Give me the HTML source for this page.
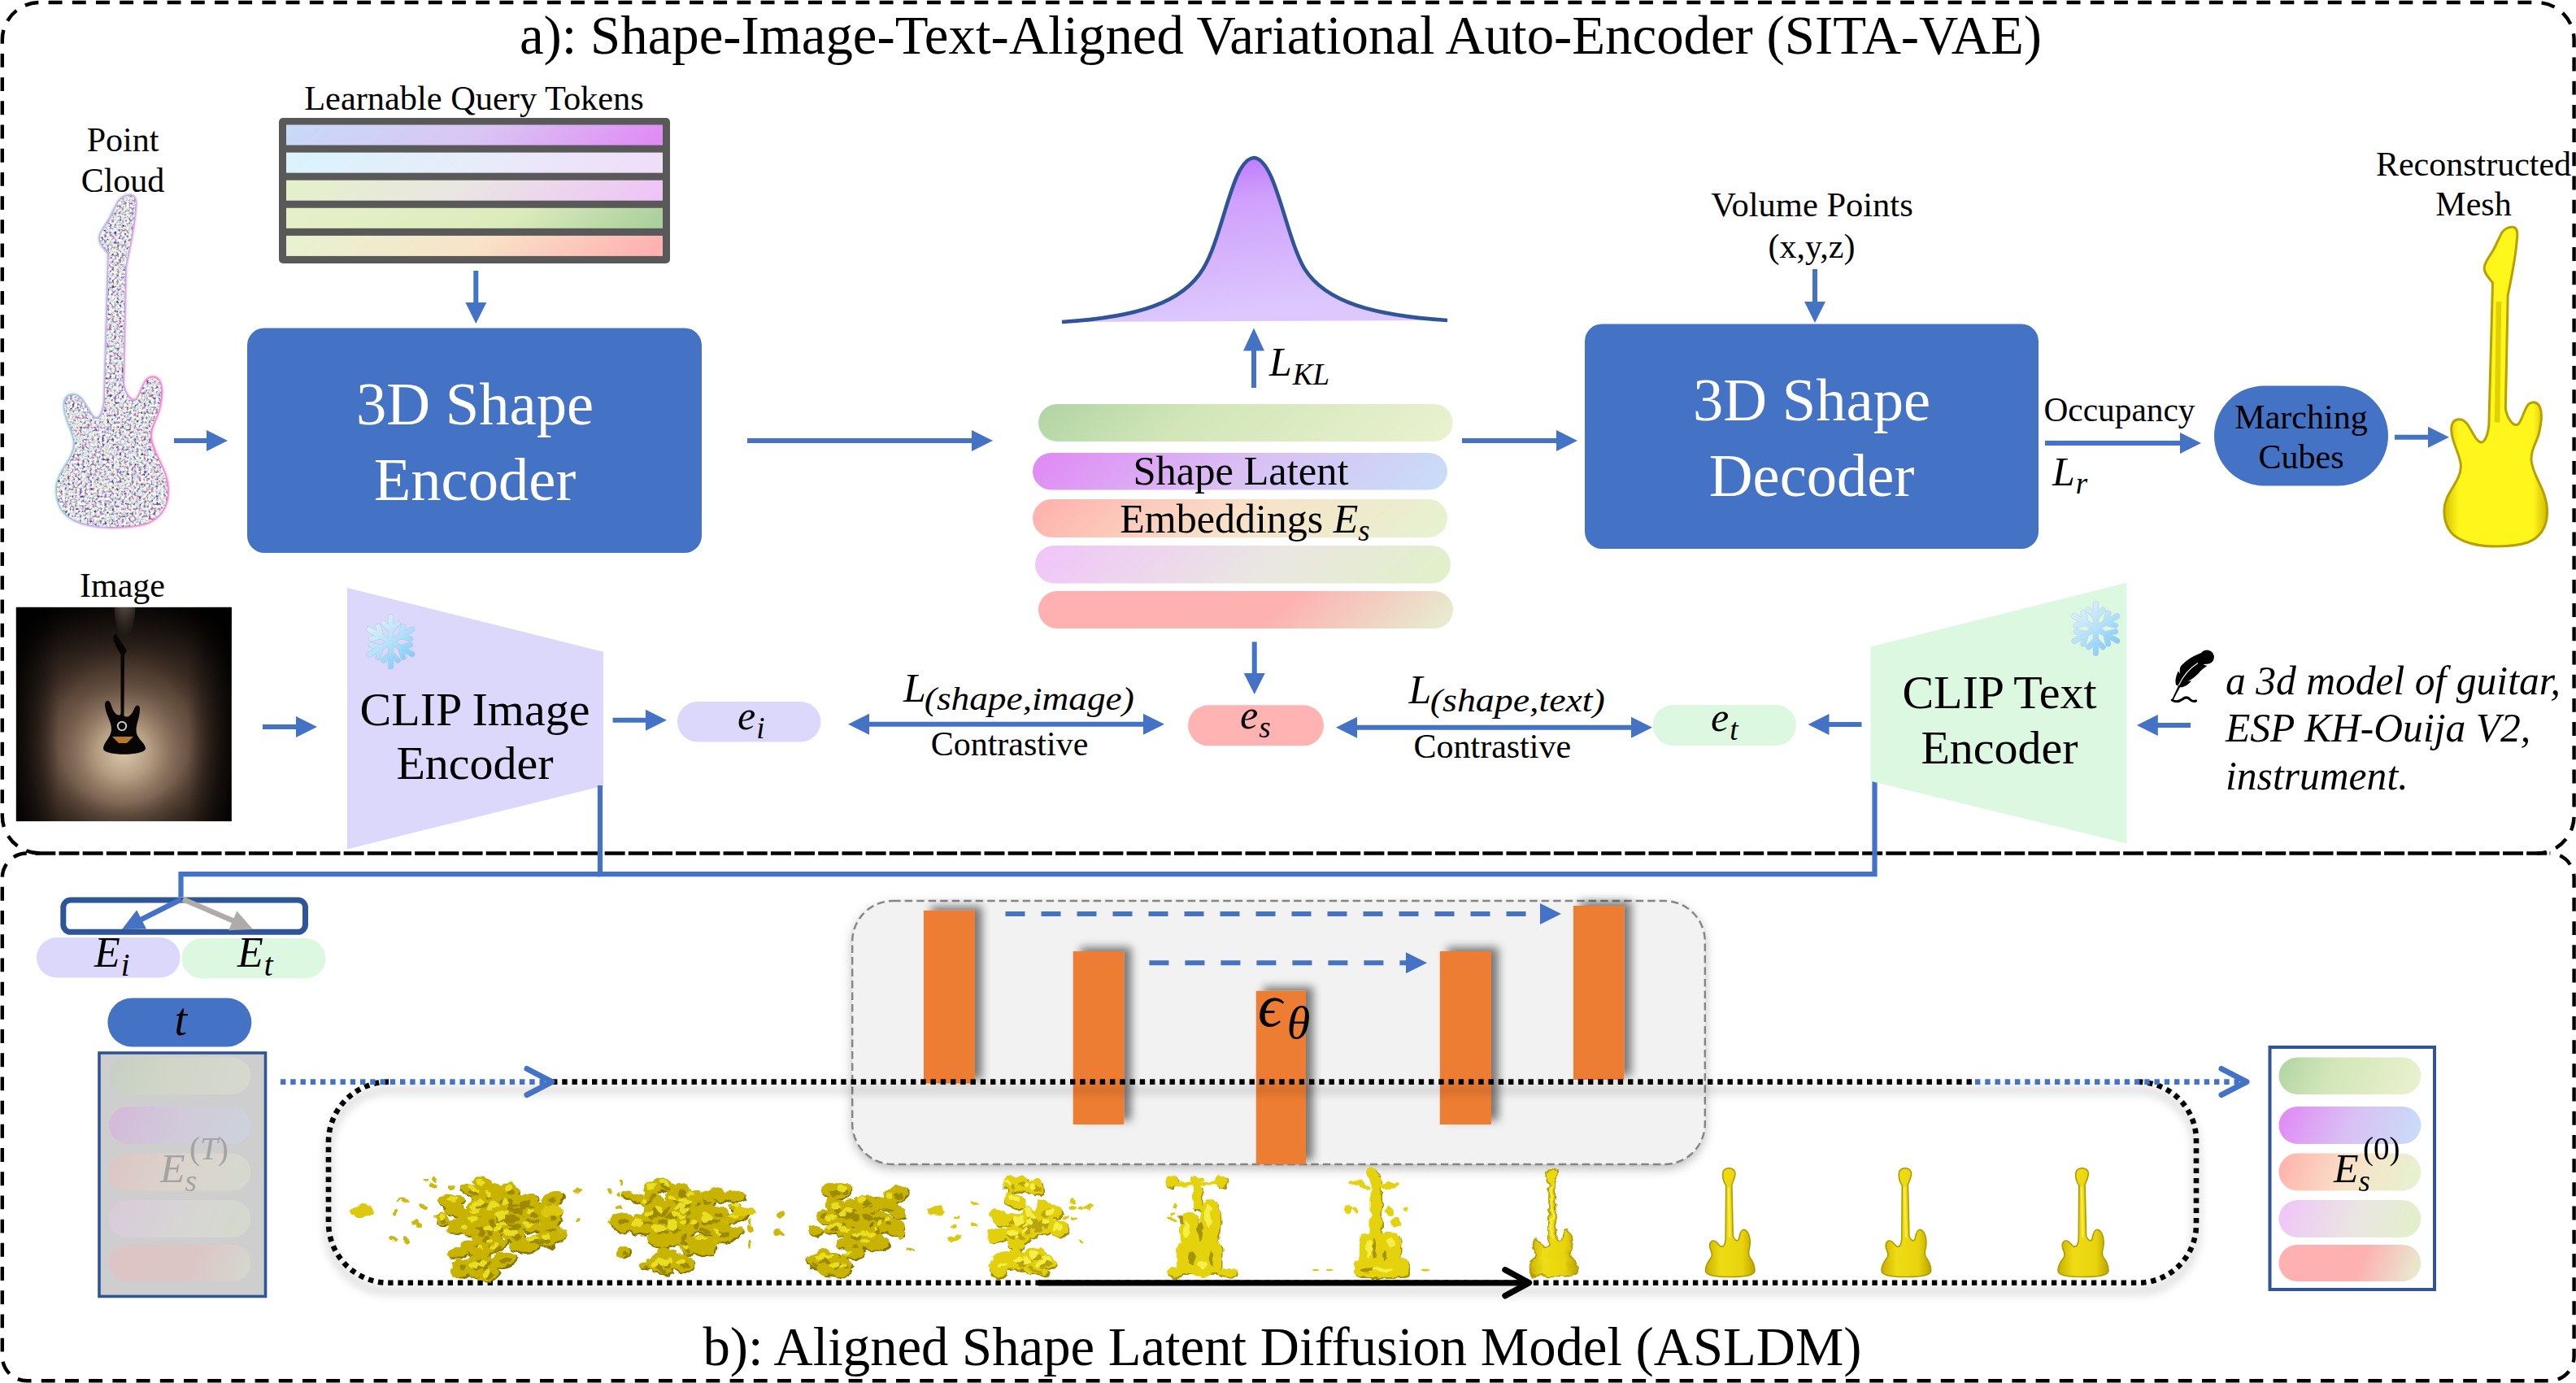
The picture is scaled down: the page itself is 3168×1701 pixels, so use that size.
<!DOCTYPE html>
<html lang="en"><head><meta charset="utf-8"><title>SITA-VAE and ASLDM overview</title>
<style>html,body{margin:0;padding:0;background:#fff;}svg{display:block;}text{font-family:"Liberation Serif",serif;}</style></head>
<body>
<svg width="3168" height="1701" viewBox="0 0 3168 1701">
<rect width="3168" height="1701" fill="#fff"/>
<defs>
<linearGradient id="gBluePurple" x1="0" y1="0.47" x2="1" y2="0.53"><stop offset="0" stop-color="#C9D9F8"/><stop offset="0.5" stop-color="#D9C6F4"/><stop offset="1" stop-color="#E08CF5"/></linearGradient>
<linearGradient id="gCyanLav" x1="0" y1="0.47" x2="1" y2="0.53"><stop offset="0" stop-color="#DAF3FC"/><stop offset="0.5" stop-color="#E8ECFA"/><stop offset="1" stop-color="#F0DDF8"/></linearGradient>
<linearGradient id="gGreenGrayPink" x1="0" y1="0.47" x2="1" y2="0.53"><stop offset="0" stop-color="#E4F0CA"/><stop offset="0.45" stop-color="#EAE6E2"/><stop offset="1" stop-color="#EEC4F8"/></linearGradient>
<linearGradient id="gLGreenGreen" x1="0" y1="0.47" x2="1" y2="0.53"><stop offset="0" stop-color="#E6F0C8"/><stop offset="0.6" stop-color="#DCEBBC"/><stop offset="1" stop-color="#AAD09C"/></linearGradient>
<linearGradient id="gGreenPeachPink" x1="0" y1="0.47" x2="1" y2="0.53"><stop offset="0" stop-color="#E8F2D0"/><stop offset="0.5" stop-color="#F8E4C8"/><stop offset="1" stop-color="#FFB0B0"/></linearGradient>
<linearGradient id="bGreen" x1="0" y1="0.45" x2="1" y2="0.55"><stop offset="0" stop-color="#B4D6A6"/><stop offset="0.35" stop-color="#D2E6B8"/><stop offset="1" stop-color="#E9F1CF"/></linearGradient>
<linearGradient id="bPurpleBlue" x1="0" y1="0.45" x2="1" y2="0.55"><stop offset="0" stop-color="#E08CF5"/><stop offset="0.5" stop-color="#D9C0F4"/><stop offset="1" stop-color="#C9DCF8"/></linearGradient>
<linearGradient id="bPinkGreen" x1="0" y1="0.45" x2="1" y2="0.55"><stop offset="0" stop-color="#FFB4AE"/><stop offset="0.5" stop-color="#F8E2C8"/><stop offset="1" stop-color="#E6F2D0"/></linearGradient>
<linearGradient id="bLavGreen" x1="0" y1="0.45" x2="1" y2="0.55"><stop offset="0" stop-color="#F0C6F8"/><stop offset="0.55" stop-color="#EAE6E2"/><stop offset="1" stop-color="#E2F0CA"/></linearGradient>
<linearGradient id="bPinkPale" x1="0" y1="0.45" x2="1" y2="0.55"><stop offset="0" stop-color="#FFB0B0"/><stop offset="0.58" stop-color="#FDB2B0"/><stop offset="1" stop-color="#E8EACF"/></linearGradient>
<linearGradient id="gBell" x1="0" y1="0" x2="0.25" y2="1"><stop offset="0" stop-color="#B96BFF"/><stop offset="0.35" stop-color="#D0A0FC"/><stop offset="1" stop-color="#DCC8FE"/></linearGradient>
<filter id="sh" x="-20%" y="-20%" width="150%" height="150%"><feDropShadow dx="9" dy="-5" stdDeviation="5.5" flood-color="#000" flood-opacity="0.5"/></filter>
<filter id="shBox" x="-5%" y="-10%" width="110%" height="125%"><feDropShadow dx="0" dy="5" stdDeviation="7" flood-color="#000" flood-opacity="0.28"/></filter>
<filter id="shDot" x="-5%" y="-10%" width="110%" height="130%"><feGaussianBlur stdDeviation="6"/></filter>
<filter id="pcnoise" x="0" y="0" width="100%" height="100%">
<feTurbulence type="fractalNoise" baseFrequency="0.33" numOctaves="2" seed="7" result="n"/>
<feColorMatrix in="n" type="matrix" values="4.2 0 0 0 -1.38  0 4.2 0 0 -1.38  0 0 4.2 0 -1.15  0 0 0 0 1" result="c0"/>
<feColorMatrix in="c0" type="saturate" values="0.42" result="c"/>
<feComposite in="c" in2="SourceGraphic" operator="in"/>
</filter>
<linearGradient id="pcedge" x1="0" y1="0" x2="1" y2="0.3"><stop offset="0" stop-color="#38D890"/><stop offset="0.45" stop-color="#9090E0"/><stop offset="1" stop-color="#F048B0"/></linearGradient>
<filter id="pcblur" x="-10%" y="-5%" width="120%" height="110%"><feGaussianBlur stdDeviation="1.1"/></filter>
<filter id="blob" x="-10%" y="-10%" width="120%" height="120%">
<feTurbulence type="fractalNoise" baseFrequency="0.09" numOctaves="2" seed="3" result="n"/>
<feDisplacementMap in="SourceGraphic" in2="n" scale="9" xChannelSelector="R" yChannelSelector="G"/>
</filter>
<radialGradient id="imgG" gradientUnits="userSpaceOnUse" cx="152" cy="925" r="135"><stop offset="0" stop-color="#DCC8AC"/><stop offset="0.25" stop-color="#B8A086" stop-opacity="0.95"/><stop offset="0.6" stop-color="#866C58" stop-opacity="0.5"/><stop offset="1" stop-color="#4E3A2E" stop-opacity="0"/></radialGradient>
<radialGradient id="imgV" gradientUnits="userSpaceOnUse" cx="152" cy="905" r="205"><stop offset="0.4" stop-color="#000" stop-opacity="0"/><stop offset="0.68" stop-color="#000" stop-opacity="0.5"/><stop offset="0.88" stop-color="#000" stop-opacity="0.93"/><stop offset="1" stop-color="#000" stop-opacity="1"/></radialGradient>
<linearGradient id="imgTop" x1="0" y1="0" x2="0" y2="1"><stop offset="0" stop-color="#000" stop-opacity="0.6"/><stop offset="0.25" stop-color="#000" stop-opacity="0.15"/><stop offset="0.45" stop-color="#000" stop-opacity="0"/></linearGradient>
<radialGradient id="imgSpot" cx="0.5" cy="0" r="1"><stop offset="0" stop-color="#F0ECE8" stop-opacity="1"/><stop offset="0.25" stop-color="#C8BCB0" stop-opacity="0.7"/><stop offset="1" stop-color="#806858" stop-opacity="0"/></radialGradient>
<linearGradient id="imgEdge" x1="0" y1="0" x2="1" y2="0"><stop offset="0" stop-color="#000" stop-opacity="0.8"/><stop offset="0.2" stop-color="#000" stop-opacity="0"/><stop offset="0.8" stop-color="#000" stop-opacity="0"/><stop offset="1" stop-color="#000" stop-opacity="0.8"/></linearGradient>
<linearGradient id="yg" x1="0" y1="0" x2="1" y2="0"><stop offset="0" stop-color="#D4C000"/><stop offset="0.14" stop-color="#FFF61C"/><stop offset="0.86" stop-color="#FFF61C"/><stop offset="1" stop-color="#D0BC00"/></linearGradient>
<linearGradient id="sg" x1="0" y1="0" x2="1" y2="0"><stop offset="0" stop-color="#C8B000"/><stop offset="0.3" stop-color="#EEDC14"/><stop offset="0.75" stop-color="#E8D40C"/><stop offset="1" stop-color="#BCA400"/></linearGradient>
<path id="guitar" d="M94,1 C99,3 99,10 98,16 C97,35 92,60 86,88 L83,232 C85,246 94,256 100,252 C105,246 107,236 111,230 C114,224 122,222 127,228 C132,236 130,252 127,264 C124,276 116,284 117,298 C118,318 138,336 138,364 C138,386 126,398 112,403 C96,408 80,408 67,408 C50,408 30,404 18,396 C6,388 2,376 2,362 C2,340 24,326 24,306 C24,292 14,280 12,264 C10,252 14,246 22,246 C30,246 34,254 40,264 C44,272 50,278 54,274 C58,270 60,262 61,254 L66,72 C62,66 54,60 55,52 C56,44 64,36 68,28 L78,8 C82,3 88,0 94,1 Z"/>
<path id="sguitar" d="M24,2 C30,-1 37,2 36,9 C35,15 33,18 32,21 L33.5,84 C36,90 40,92 41,86 C42,80 44,76 47,76 C53,78 55,88 54,96 C53,103 51,105 54,110 C57,114 60,119 60,126 C60,132 50,134 30,134 C10,134 0,132 0,126 C0,119 4,114 7,110 C10,105 5,101 5,96 C5,91 8,89 11,90 C15,91 16,97 20,97 C23,97 24,92 24.5,88 L25,22 C23,19 21,14 21,9 C21,5 22,3 24,2 Z"/>
<linearGradient id="snow" gradientUnits="userSpaceOnUse" x1="-26" y1="-30" x2="26" y2="32"><stop offset="0" stop-color="#E6F3FE"/><stop offset="0.5" stop-color="#B4E0FB"/><stop offset="1" stop-color="#76C4FA"/></linearGradient>
<g id="snowflake"><path d="M0.0,0.0 L0.0,-30.5 M0.0,-14.0 L-8.8,-22.8 M0.0,-14.0 L8.8,-22.8 M0.0,0.0 L26.4,-15.3 M12.1,-7.0 L15.3,-19.0 M12.1,-7.0 L24.1,-3.8 M-0.0,0.0 L26.4,15.2 M12.1,7.0 L24.1,3.8 M12.1,7.0 L15.3,19.0 M-0.0,0.0 L0.0,30.5 M0.0,14.0 L8.8,22.8 M0.0,14.0 L-8.8,22.8 M0.0,-0.0 L-26.4,15.3 M-12.1,7.0 L-15.3,19.0 M-12.1,7.0 L-24.1,3.8 M0.0,0.0 L-26.4,-15.3 M-12.1,-7.0 L-24.1,-3.8 M-12.1,-7.0 L-15.3,-19.0" fill="none" stroke="#A4C4DC" stroke-width="7.2" stroke-linecap="round" opacity="0.7"/><path d="M0.0,0.0 L0.0,-30.5 M0.0,-14.0 L-8.8,-22.8 M0.0,-14.0 L8.8,-22.8 M0.0,0.0 L26.4,-15.3 M12.1,-7.0 L15.3,-19.0 M12.1,-7.0 L24.1,-3.8 M-0.0,0.0 L26.4,15.2 M12.1,7.0 L24.1,3.8 M12.1,7.0 L15.3,19.0 M-0.0,0.0 L0.0,30.5 M0.0,14.0 L8.8,22.8 M0.0,14.0 L-8.8,22.8 M0.0,-0.0 L-26.4,15.3 M-12.1,7.0 L-15.3,19.0 M-12.1,7.0 L-24.1,3.8 M0.0,0.0 L-26.4,-15.3 M-12.1,-7.0 L-24.1,-3.8 M-12.1,-7.0 L-15.3,-19.0" fill="none" stroke="url(#snow)" stroke-width="6" stroke-linecap="round"/></g>
</defs>
<path d="M48.8,1049.5 A46,46 0 0 1 2.8,1003.5 L2.8,49.0 A46,46 0 0 1 48.8,3.0 L3119.6,3.0 A46,46 0 0 1 3165.6,49.0 L3165.6,1003.5 A46,46 0 0 1 3119.6,1049.5" fill="none" stroke="#000" stroke-width="4.4" stroke-dasharray="16.9 12.3"/>
<path d="M32.8,1049.5 A30,30 0 0 0 2.8,1079.5 L2.8,1668.2 A30,30 0 0 0 32.8,1698.2 L3135.6,1698.2 A30,30 0 0 0 3165.6,1668.2 L3165.6,1079.5 A30,30 0 0 0 3135.6,1049.5" fill="none" stroke="#000" stroke-width="4.4" stroke-dasharray="16.9 12.3"/>
<line x1="43.3" y1="1049.5" x2="3133.6" y2="1049.5" stroke="#000" stroke-width="4.6" stroke-dasharray="25 4.18"/>
<text x="1575.0" y="65.8" font-size="66.8" text-anchor="middle" fill="#000" >a): Shape-Image-Text-Aligned Variational Auto-Encoder (SITA-VAE)</text>
<text x="583.0" y="135.0" font-size="42.4" text-anchor="middle" fill="#000" >Learnable Query Tokens</text>
<rect x="343" y="145" width="481" height="179" rx="5" fill="#595959"/>
<rect x="352" y="153.5" width="463" height="25" fill="url(#gBluePurple)"/>
<rect x="352" y="187.6" width="463" height="25" fill="url(#gCyanLav)"/>
<rect x="352" y="221.7" width="463" height="25" fill="url(#gGreenGrayPink)"/>
<rect x="352" y="255.8" width="463" height="25" fill="url(#gLGreenGreen)"/>
<rect x="352" y="289.9" width="463" height="25" fill="url(#gGreenPeachPink)"/>
<line x1="585.3" y1="333.0" x2="585.3" y2="374.0" stroke="#4472C4" stroke-width="6" />
<polygon points="585.3,398.0 572.3,372.0 598.3,372.0" fill="#4472C4"/>
<rect x="304" y="403.5" width="559" height="276.5" rx="21" fill="#4472C4"/>
<text x="584.0" y="521.5" font-size="74.6" text-anchor="middle" fill="#fff" >3D Shape</text>
<text x="584.0" y="615.0" font-size="74.6" text-anchor="middle" fill="#fff" >Encoder</text>
<text x="151.0" y="186.0" font-size="42" text-anchor="middle" fill="#000" >Point</text>
<text x="151.0" y="236.0" font-size="42" text-anchor="middle" fill="#000" >Cloud</text>
<g transform="translate(68,240)"><use href="#guitar" fill="none" stroke="url(#pcedge)" stroke-width="4" opacity="0.8" filter="url(#pcblur)"/><use href="#guitar" fill="#fff"/><use href="#guitar" fill="#fff" filter="url(#pcnoise)" opacity="0.92"/></g>
<line x1="214.0" y1="542.0" x2="256.0" y2="542.0" stroke="#4472C4" stroke-width="6" />
<polygon points="280.0,542.0 254.0,555.0 254.0,529.0" fill="#4472C4"/>
<line x1="919.0" y1="542.0" x2="1197.0" y2="542.0" stroke="#4472C4" stroke-width="6" />
<polygon points="1221.0,542.0 1195.0,555.0 1195.0,529.0" fill="#4472C4"/>
<path d="M1306,396 C1400,390 1455,372 1480,330 C1505,288 1515,196 1542,194 C1569,196 1580,288 1604,330 C1630,372 1690,388 1780,394 Z" fill="url(#gBell)"/>
<path d="M1306,396 C1400,390 1455,372 1480,330 C1505,288 1515,196 1542,194 C1569,196 1580,288 1604,330 C1630,372 1690,388 1780,394" fill="none" stroke="#2F5597" stroke-width="4.6"/>
<line x1="1542.0" y1="477.0" x2="1542.0" y2="429.5" stroke="#4472C4" stroke-width="6" />
<polygon points="1542.0,403.5 1555.0,431.5 1529.0,431.5" fill="#4472C4"/>
<text x="1561" y="462" font-size="50" font-style="italic">L<tspan font-size="37" dy="11" dx="1">KL</tspan></text>
<rect x="1277.0" y="497.0" width="509.6" height="46.0" rx="23.0" ry="23.0" fill="url(#bGreen)" />
<rect x="1270.0" y="557.0" width="510.0" height="45.5" rx="22.8" ry="22.8" fill="url(#bPurpleBlue)" />
<rect x="1270.0" y="614.0" width="510.0" height="47.0" rx="23.5" ry="23.5" fill="url(#bPinkGreen)" />
<rect x="1273.0" y="671.0" width="511.0" height="46.6" rx="23.3" ry="23.3" fill="url(#bLavGreen)" />
<rect x="1277.0" y="727.0" width="510.0" height="46.0" rx="23.0" ry="23.0" fill="url(#bPinkPale)" />
<text x="1526.0" y="596.0" font-size="50.5" text-anchor="middle" fill="#000" >Shape Latent</text>
<text x="1531" y="654.5" font-size="50" text-anchor="middle">Embeddings <tspan font-style="italic">E</tspan><tspan font-style="italic" font-size="37" dy="10">s</tspan></text>
<line x1="1798.0" y1="542.0" x2="1916.0" y2="542.0" stroke="#4472C4" stroke-width="6" />
<polygon points="1940.0,542.0 1914.0,555.0 1914.0,529.0" fill="#4472C4"/>
<rect x="1949" y="398.5" width="558" height="276.5" rx="21" fill="#4472C4"/>
<text x="2228.0" y="516.5" font-size="74.6" text-anchor="middle" fill="#fff" >3D Shape</text>
<text x="2228.0" y="610.0" font-size="74.6" text-anchor="middle" fill="#fff" >Decoder</text>
<text x="2228.5" y="266.0" font-size="42.5" text-anchor="middle" fill="#000" >Volume Points</text>
<text x="2228.0" y="316.5" font-size="42" text-anchor="middle" fill="#000" >(x,y,z)</text>
<line x1="2232.0" y1="331.0" x2="2232.0" y2="373.0" stroke="#4472C4" stroke-width="6" />
<polygon points="2232.0,397.0 2219.0,371.0 2245.0,371.0" fill="#4472C4"/>
<text x="2606.5" y="517.5" font-size="41.4" text-anchor="middle" fill="#000" >Occupancy</text>
<line x1="2515.0" y1="545.0" x2="2683.0" y2="545.0" stroke="#4472C4" stroke-width="6" />
<polygon points="2707.0,545.0 2681.0,558.0 2681.0,532.0" fill="#4472C4"/>
<text x="2524" y="597" font-size="50" font-style="italic">L<tspan font-size="37" dy="10" dx="1">r</tspan></text>
<rect x="2723.0" y="474.4" width="214.0" height="123.1" rx="61.6" ry="61.6" fill="#4472C4" />
<text x="2830.0" y="526.6" font-size="42" text-anchor="middle" fill="#000" >Marching</text>
<text x="2830.0" y="576.0" font-size="42" text-anchor="middle" fill="#000" >Cubes</text>
<line x1="2945.0" y1="537.7" x2="2988.0" y2="537.7" stroke="#4472C4" stroke-width="6" />
<polygon points="3012.0,537.7 2986.0,550.7 2986.0,524.7" fill="#4472C4"/>
<text x="3042.0" y="216.0" font-size="42" text-anchor="middle" fill="#000" >Reconstructed</text>
<text x="3042.0" y="265.0" font-size="42" text-anchor="middle" fill="#000" >Mesh</text>
<g transform="translate(3004,278.5) scale(0.9321,0.9645)"><use href="#guitar" fill="url(#yg)" stroke="#B8A000" stroke-width="3.2"/><path d="M74,96 L72,250" stroke="#D8C800" stroke-width="7" fill="none" opacity="0.8"/></g>
<text x="150.5" y="734.0" font-size="42" text-anchor="middle" fill="#000" >Image</text>
<clipPath id="imgclip"><rect x="19.7" y="746.7" width="265.1" height="263.6"/></clipPath>
<g clip-path="url(#imgclip)">
<rect x="19.7" y="746.7" width="265.1" height="263.6" fill="#4E3A2E"/>
<rect x="19.7" y="746.7" width="265.1" height="263.6" fill="url(#imgG)"/>
<rect x="19.7" y="746.7" width="265.1" height="263.6" fill="url(#imgV)"/>
<rect x="19.7" y="746.7" width="265.1" height="263.6" fill="url(#imgEdge)"/>
<rect x="19.7" y="746.7" width="265.1" height="263.6" fill="url(#imgTop)"/>
<ellipse cx="153.5" cy="744" rx="13" ry="40" fill="url(#imgSpot)"/>
<path d="M139,782 L143,780 L156,800 L153,805 L152.5,880 C156,884 162,880 165,872 C167,866 172,866 172,872 C172,884 166,892 168,902 C170,910 179,914 179,921 C177,930 128,930 127,921 C127,913 136,908 137,898 C138,888 129,878 129,866 C130,860 135,860 137,868 C140,878 146,882 148.5,878 L148.5,805 L141,792 Z" fill="#080505"/>
<circle cx="150" cy="893" r="5.2" fill="none" stroke="#C8C4C0" stroke-width="2"/>
<path d="M138,906 L164,906 L156,914 L146,914 Z" fill="#B8782C"/>
</g>
<line x1="323.0" y1="894.0" x2="366.0" y2="894.0" stroke="#4472C4" stroke-width="6" />
<polygon points="390.0,894.0 364.0,907.0 364.0,881.0" fill="#4472C4"/>
<polygon points="427,723 742,801.7 742,966.5 427,1044.4" fill="#DCD8FC"/>
<use href="#snowflake" transform="translate(480.5,789.5) scale(1.0)"/>
<text x="584.0" y="892.0" font-size="58" text-anchor="middle" fill="#000" >CLIP Image</text>
<text x="584.0" y="958.0" font-size="58" text-anchor="middle" fill="#000" >Encoder</text>
<line x1="753.6" y1="885.8" x2="796.0" y2="885.8" stroke="#4472C4" stroke-width="6" />
<polygon points="820.0,885.8 794.0,898.8 794.0,872.8" fill="#4472C4"/>
<rect x="833.0" y="863.0" width="176.4" height="49.4" rx="24.7" ry="24.7" fill="#DCD8FC" />
<text x="907" y="897" font-size="50" font-style="italic">e<tspan font-size="37" dy="11" dx="1">i</tspan></text>
<polyline points="738,966 738,1075.2 2305.5,1075.2 2305.5,960" fill="none" stroke="#4472C4" stroke-width="6.2" stroke-linejoin="miter"/>
<polyline points="738,1075.2 222.5,1075.2 222.5,1103" fill="none" stroke="#4472C4" stroke-width="6.2"/>
<line x1="1067.0" y1="890.7" x2="1408.0" y2="890.7" stroke="#4472C4" stroke-width="6"/>
<polygon points="1043.0,890.7 1069.0,877.7 1069.0,903.7" fill="#4472C4"/>
<polygon points="1432.0,890.7 1406.0,877.7 1406.0,903.7" fill="#4472C4"/>
<text x="1111" y="863" font-size="50" font-style="italic">L<tspan font-size="40" dy="10" dx="-2" textLength="258" lengthAdjust="spacingAndGlyphs">(shape,image)</tspan></text>
<text x="1241.5" y="929.0" font-size="42" text-anchor="middle" fill="#000" >Contrastive</text>
<line x1="1542.7" y1="789.4" x2="1542.7" y2="830.0" stroke="#4472C4" stroke-width="6" />
<polygon points="1542.7,854.0 1529.7,828.0 1555.7,828.0" fill="#4472C4"/>
<rect x="1461.0" y="867.3" width="167.0" height="50.0" rx="25.0" ry="25.0" fill="#FFB3B3" />
<text x="1525" y="896" font-size="50" font-style="italic">e<tspan font-size="37" dy="11" dx="1">s</tspan></text>
<line x1="1667.0" y1="894.8" x2="2008.0" y2="894.8" stroke="#4472C4" stroke-width="6"/>
<polygon points="1643.0,894.8 1669.0,881.8 1669.0,907.8" fill="#4472C4"/>
<polygon points="2032.0,894.8 2006.0,881.8 2006.0,907.8" fill="#4472C4"/>
<text x="1732.5" y="865" font-size="50" font-style="italic">L<tspan font-size="40" dy="10" dx="-1.5" textLength="215" lengthAdjust="spacingAndGlyphs">(shape,text)</tspan></text>
<text x="1835.3" y="931.7" font-size="42" text-anchor="middle" fill="#000" >Contrastive</text>
<rect x="2032.5" y="867.0" width="176.5" height="50.0" rx="25.0" ry="25.0" fill="#DCF8E0" />
<text x="2104" y="899" font-size="50" font-style="italic">e<tspan font-size="37" dy="11" dx="1">t</tspan></text>
<line x1="2289.5" y1="891.0" x2="2247.5" y2="891.0" stroke="#4472C4" stroke-width="6" />
<polygon points="2223.5,891.0 2249.5,878.0 2249.5,904.0" fill="#4472C4"/>
<polygon points="2615.5,716.8 2615.5,1037.5 2300.6,960.8 2300.6,795.5" fill="#DCF8E0"/>
<use href="#snowflake" transform="translate(2577.4,773) scale(1.0)"/>
<text x="2459.0" y="871.4" font-size="58" text-anchor="middle" fill="#000" >CLIP Text</text>
<text x="2459.0" y="939.0" font-size="58" text-anchor="middle" fill="#000" >Encoder</text>
<line x1="2694.0" y1="892.0" x2="2651.8" y2="892.0" stroke="#4472C4" stroke-width="6" />
<polygon points="2627.8,892.0 2653.8,879.0 2653.8,905.0" fill="#4472C4"/>
<g transform="translate(2650,780)"><path d="M57,23 C46,27 36,34 31.5,40 C30.5,43 30.5,46 31,48.5 L28.7,45.5 C25.5,53 24.5,59 26.5,62.8 L29,63.5 L21.3,79.8 L23,80.3 L31,65.3 C36,65.5 41,62.5 45,57.5 L40.5,57.5 C46,56 52,50.5 56,45.5 C59,42.5 62,40.5 64.5,39 L59.5,37.5 C61,37 62.5,36.6 64,36.8 A8.7,8.7 0 1 0 56.5,24 Z" fill="#000"/><path d="M53,35.5 C44,41 35,51 29.3,63" stroke="#fff" stroke-width="1.1" fill="none"/><path d="M21.2,81 C25,83.5 30,83 34,80 C38,76.8 41,77.5 43.5,80.5 C46,83 48.5,82.8 50.6,82" stroke="#000" stroke-width="3" fill="none" stroke-linecap="round"/></g>
<text x="2737.0" y="853.8" font-size="49.6" text-anchor="start" fill="#000" font-style="italic" >a 3d model of guitar,</text>
<text x="2737.0" y="912.4" font-size="49.6" text-anchor="start" fill="#000" font-style="italic" >ESP KH-Ouija V2,</text>
<text x="2737.0" y="971.0" font-size="49.6" text-anchor="start" fill="#000" font-style="italic" >instrument.</text>
<rect x="77.8" y="1107" width="297.7" height="39.3" rx="9" fill="#fff" stroke="#2F5597" stroke-width="7"/>
<line x1="223.0" y1="1106.0" x2="172.3" y2="1131.7" stroke="#4472C4" stroke-width="6.5" />
<polygon points="150.0,1143.0 168.2,1119.2 180.0,1142.4" fill="#4472C4"/>
<line x1="225.0" y1="1106.0" x2="288.0" y2="1133.1" stroke="#AFABAB" stroke-width="6.5" />
<polygon points="311.0,1143.0 281.1,1144.3 291.3,1120.4" fill="#AFABAB"/>
<rect x="45.0" y="1153.0" width="176.6" height="49.5" rx="24.8" ry="24.8" fill="#DCD8FC" />
<rect x="223.5" y="1154.0" width="177.1" height="49.5" rx="24.8" ry="24.8" fill="#DCF8E0" />
<text x="116" y="1189" font-size="52" font-style="italic">E<tspan font-size="39" dy="11" dx="1">i</tspan></text>
<text x="292" y="1189" font-size="52" font-style="italic">E<tspan font-size="39" dy="11" dx="1">t</tspan></text>
<rect x="132.4" y="1227.4" width="176.9" height="60.2" rx="30.1" ry="30.1" fill="#4472C4" />
<text x="222.3" y="1272.8" font-size="56" text-anchor="middle" fill="#000" font-style="italic" >t</text>
<rect x="122" y="1295" width="204.5" height="299.5" fill="#CECECE" stroke="#2F5597" stroke-width="3.6"/>
<rect x="134.0" y="1300.5" width="174.3" height="45.5" rx="22.8" ry="22.8" fill="url(#bGreen)" opacity="0.3"/>
<rect x="134.0" y="1361.0" width="174.3" height="46.0" rx="23.0" ry="23.0" fill="url(#bPurpleBlue)" opacity="0.3"/>
<rect x="134.0" y="1418.6" width="174.3" height="45.9" rx="23.0" ry="23.0" fill="url(#bPinkGreen)" opacity="0.3"/>
<rect x="134.0" y="1476.0" width="174.3" height="46.0" rx="23.0" ry="23.0" fill="url(#bLavGreen)" opacity="0.3"/>
<rect x="134.0" y="1531.0" width="174.3" height="45.0" rx="22.5" ry="22.5" fill="url(#bPinkPale)" opacity="0.3"/>
<text x="197" y="1453.5" font-size="50" font-style="italic" fill="#A3A3A3">E<tspan font-size="37" dy="11" dx="0">s</tspan><tspan font-size="39" dy="-39" dx="-9" font-style="normal">(<tspan font-style="italic">T</tspan>)</tspan></text>
<rect x="1048.2" y="1108" width="1048.6" height="324" rx="50" fill="#F2F2F2" filter="url(#shBox)"/>
<rect x="1048.2" y="1108" width="1048.6" height="324" rx="50" fill="none" stroke="#858585" stroke-width="2.4" stroke-dasharray="9.4 5.1"/>
<rect x="1136" y="1119.8" width="62.8" height="212.7" fill="#ED7D31" filter="url(#sh)"/>
<rect x="1319.7" y="1170" width="62.6" height="213.0" fill="#ED7D31" filter="url(#sh)"/>
<rect x="1544.8" y="1218.7" width="61.2" height="213.3" fill="#ED7D31" filter="url(#sh)"/>
<rect x="1770.8" y="1170" width="63.1" height="213.0" fill="#ED7D31" filter="url(#sh)"/>
<rect x="1935" y="1114" width="62.3" height="214.0" fill="#ED7D31" filter="url(#sh)"/>
<line x1="1236.5" y1="1124.0" x2="1896.0" y2="1124.0" stroke="#4472C4" stroke-width="6" stroke-dasharray="24 20"/>
<polygon points="1920.0,1124.0 1894.0,1137.0 1894.0,1111.0" fill="#4472C4"/>
<line x1="1413.4" y1="1184.3" x2="1731.0" y2="1184.3" stroke="#4472C4" stroke-width="6" stroke-dasharray="24 20"/>
<polygon points="1755.0,1184.3 1729.0,1197.3 1729.0,1171.3" fill="#4472C4"/>
<text x="1547" y="1262" font-size="74" font-style="italic">ϵ<tspan font-size="58" dy="15" dx="6">θ</tspan></text>
<g opacity="0.15" filter="url(#shDot)" transform="translate(0,10)"><path d="M2629,1330.6 A72,72 0 0 1 2701,1402.6 L2701,1505.8 A72,72 0 0 1 2629,1577.8 L478,1577.8 A74,74 0 0 1 404,1503.8 L404,1404.6 A74,74 0 0 1 478,1330.6" fill="none" stroke="#000" stroke-width="9"/><line x1="478" y1="1330.6" x2="2629" y2="1330.6" stroke="#000" stroke-width="9"/></g>
<path d="M2629,1330.6 A72,72 0 0 1 2701,1402.6 L2701,1505.8 A72,72 0 0 1 2629,1577.8 L478,1577.8 A74,74 0 0 1 404,1503.8 L404,1404.6 A74,74 0 0 1 478,1330.6" fill="none" stroke="#000" stroke-width="6.6" stroke-dasharray="6.4 5.85"/>
<line x1="679" y1="1330.6" x2="2429" y2="1330.6" stroke="#000" stroke-width="6.6" stroke-dasharray="6.4 5.85"/>
<line x1="345" y1="1330.6" x2="672" y2="1330.6" stroke="#4472C4" stroke-width="6.6" stroke-dasharray="6.4 5.85"/>
<polyline points="648,1314.5 678.8,1330.6 648,1346.7" fill="none" stroke="#4472C4" stroke-width="7" stroke-linecap="round" stroke-linejoin="round"/>
<line x1="2429" y1="1330.6" x2="2756" y2="1330.6" stroke="#4472C4" stroke-width="6.6" stroke-dasharray="6.4 5.85"/>
<polyline points="2732,1314.5 2763,1330.6 2732,1346.7" fill="none" stroke="#4472C4" stroke-width="7" stroke-linecap="round" stroke-linejoin="round"/>
<line x1="1277" y1="1577.8" x2="1878" y2="1577.8" stroke="#000" stroke-width="7.2"/>
<polyline points="1851,1561.8 1880.5,1577.8 1851,1593.8" fill="none" stroke="#000" stroke-width="7.4" stroke-linecap="round" stroke-linejoin="round"/>
<g filter="url(#blob)">
<ellipse cx="445" cy="1490" rx="15" ry="7" fill="#DCC80C"/>
<ellipse cx="511.7" cy="1503.0" rx="5.2" ry="2.7" fill="#CDB90C" transform="rotate(1 511.7 1503.0)"/><ellipse cx="521.1" cy="1484.2" rx="3.8" ry="3.1" fill="#CDB90C" transform="rotate(23 521.1 1484.2)"/><ellipse cx="486.6" cy="1490.2" rx="2.3" ry="3.5" fill="#CDB90C" transform="rotate(15 486.6 1490.2)"/><ellipse cx="482.9" cy="1524.1" rx="5.4" ry="3.1" fill="#CDB90C" transform="rotate(9 482.9 1524.1)"/><ellipse cx="491.0" cy="1475.8" rx="3.8" ry="1.6" fill="#CDB90C" transform="rotate(-25 491.0 1475.8)"/><ellipse cx="496.9" cy="1476.5" rx="3.6" ry="2.6" fill="#CDB90C" transform="rotate(27 496.9 1476.5)"/><ellipse cx="516.3" cy="1507.0" rx="3.7" ry="3.2" fill="#CDB90C" transform="rotate(-3 516.3 1507.0)"/><ellipse cx="499.5" cy="1524.9" rx="5.5" ry="3.6" fill="#CDB90C" transform="rotate(17 499.5 1524.9)"/>
<ellipse cx="531.6" cy="1458.8" rx="4.2" ry="2.7" fill="#CDB90C" transform="rotate(-23 531.6 1458.8)"/><ellipse cx="556.7" cy="1461.2" rx="3.8" ry="2.8" fill="#CDB90C" transform="rotate(-21 556.7 1461.2)"/><ellipse cx="525.1" cy="1452.4" rx="4.0" ry="1.7" fill="#CDB90C" transform="rotate(24 525.1 1452.4)"/><ellipse cx="534.3" cy="1449.7" rx="2.1" ry="4.0" fill="#CDB90C" transform="rotate(19 534.3 1449.7)"/>
<ellipse cx="657.4" cy="1527.9" rx="16.1" ry="5.4" fill="#867400" transform="rotate(-0 655.9 1525.7)"/><ellipse cx="566.5" cy="1508.9" rx="16.4" ry="4.5" fill="#867400" transform="rotate(-28 565.0 1506.7)"/><ellipse cx="632.1" cy="1482.8" rx="16.1" ry="4.0" fill="#867400" transform="rotate(-3 630.6 1480.6)"/><ellipse cx="609.1" cy="1486.7" rx="18.1" ry="9.0" fill="#867400" transform="rotate(-28 607.6 1484.5)"/><ellipse cx="655.5" cy="1504.0" rx="18.1" ry="6.1" fill="#867400" transform="rotate(-17 654.0 1501.8)"/><ellipse cx="606.2" cy="1502.4" rx="10.0" ry="6.4" fill="#867400" transform="rotate(-0 604.7 1500.2)"/><ellipse cx="616.1" cy="1514.0" rx="10.0" ry="6.5" fill="#867400" transform="rotate(-13 614.6 1511.8)"/><ellipse cx="677.9" cy="1505.1" rx="13.8" ry="7.5" fill="#867400" transform="rotate(-19 676.4 1502.9)"/><ellipse cx="681.0" cy="1498.4" rx="8.9" ry="5.8" fill="#867400" transform="rotate(13 679.5 1496.2)"/><ellipse cx="594.2" cy="1458.2" rx="12.2" ry="8.6" fill="#867400" transform="rotate(10 592.7 1456.0)"/><ellipse cx="598.6" cy="1524.2" rx="17.4" ry="8.7" fill="#867400" transform="rotate(0 597.1 1522.0)"/><ellipse cx="605.8" cy="1497.5" rx="10.2" ry="8.4" fill="#867400" transform="rotate(-5 604.3 1495.3)"/><ellipse cx="633.5" cy="1521.5" rx="15.4" ry="7.7" fill="#867400" transform="rotate(-8 632.0 1519.3)"/><ellipse cx="575.8" cy="1508.7" rx="16.3" ry="6.9" fill="#867400" transform="rotate(-6 574.3 1506.5)"/><ellipse cx="605.2" cy="1500.5" rx="8.0" ry="7.9" fill="#867400" transform="rotate(29 603.7 1498.3)"/><ellipse cx="585.1" cy="1489.6" rx="9.4" ry="6.8" fill="#867400" transform="rotate(29 583.6 1487.4)"/><ellipse cx="619.0" cy="1476.6" rx="17.2" ry="5.3" fill="#867400" transform="rotate(1 617.5 1474.4)"/><ellipse cx="656.3" cy="1492.8" rx="12.7" ry="5.5" fill="#867400" transform="rotate(3 654.8 1490.6)"/><ellipse cx="617.0" cy="1499.7" rx="16.3" ry="8.5" fill="#867400" transform="rotate(23 615.5 1497.5)"/><ellipse cx="609.8" cy="1465.5" rx="13.3" ry="7.1" fill="#867400" transform="rotate(-4 608.3 1463.3)"/><ellipse cx="678.1" cy="1513.5" rx="13.9" ry="5.1" fill="#867400" transform="rotate(0 676.6 1511.3)"/><ellipse cx="581.6" cy="1501.9" rx="11.4" ry="7.0" fill="#867400" transform="rotate(7 580.1 1499.7)"/><ellipse cx="584.8" cy="1486.5" rx="7.8" ry="5.3" fill="#867400" transform="rotate(-19 583.3 1484.3)"/><ellipse cx="555.1" cy="1481.0" rx="16.5" ry="8.4" fill="#867400" transform="rotate(19 553.6 1478.8)"/><ellipse cx="611.3" cy="1536.8" rx="15.1" ry="4.5" fill="#867400" transform="rotate(-29 609.8 1534.6)"/><ellipse cx="670.5" cy="1503.1" rx="10.3" ry="4.6" fill="#867400" transform="rotate(7 669.0 1500.9)"/><ellipse cx="606.3" cy="1506.2" rx="9.3" ry="6.9" fill="#867400" transform="rotate(-20 604.8 1504.0)"/><ellipse cx="605.8" cy="1530.0" rx="12.6" ry="5.8" fill="#867400" transform="rotate(-2 604.3 1527.8)"/><ellipse cx="646.8" cy="1503.0" rx="12.2" ry="5.0" fill="#867400" transform="rotate(-23 645.3 1500.8)"/><ellipse cx="646.4" cy="1486.8" rx="9.9" ry="7.3" fill="#867400" transform="rotate(19 644.9 1484.6)"/><ellipse cx="619.9" cy="1500.7" rx="9.1" ry="8.0" fill="#867400" transform="rotate(-20 618.4 1498.5)"/><ellipse cx="599.1" cy="1472.6" rx="13.6" ry="5.2" fill="#867400" transform="rotate(29 597.6 1470.4)"/><ellipse cx="625.7" cy="1478.2" rx="10.0" ry="7.6" fill="#867400" transform="rotate(-6 624.2 1476.0)"/><ellipse cx="586.8" cy="1492.5" rx="14.6" ry="4.3" fill="#867400" transform="rotate(-12 585.3 1490.3)"/><ellipse cx="681.7" cy="1492.4" rx="10.9" ry="8.7" fill="#867400" transform="rotate(-11 680.2 1490.2)"/><ellipse cx="665.7" cy="1488.5" rx="12.2" ry="5.4" fill="#867400" transform="rotate(-29 664.2 1486.3)"/><ellipse cx="620.4" cy="1496.5" rx="16.7" ry="9.3" fill="#867400" transform="rotate(4 618.9 1494.3)"/><ellipse cx="646.0" cy="1534.0" rx="18.5" ry="7.9" fill="#867400" transform="rotate(1 644.5 1531.8)"/><ellipse cx="590.8" cy="1512.4" rx="9.8" ry="7.7" fill="#867400" transform="rotate(-4 589.3 1510.2)"/><ellipse cx="619.0" cy="1508.6" rx="15.0" ry="5.6" fill="#867400" transform="rotate(-0 617.5 1506.4)"/><ellipse cx="582.0" cy="1534.6" rx="17.6" ry="4.1" fill="#867400" transform="rotate(-18 580.5 1532.4)"/><ellipse cx="566.3" cy="1542.2" rx="16.3" ry="5.9" fill="#867400" transform="rotate(-17 564.8 1540.0)"/><ellipse cx="583.8" cy="1467.8" rx="18.0" ry="5.9" fill="#867400" transform="rotate(23 582.3 1465.6)"/><ellipse cx="598.4" cy="1479.9" rx="18.6" ry="5.3" fill="#867400" transform="rotate(14 596.9 1477.7)"/><ellipse cx="631.4" cy="1506.1" rx="17.7" ry="5.2" fill="#867400" transform="rotate(16 629.9 1503.9)"/><ellipse cx="560.6" cy="1478.6" rx="11.6" ry="5.9" fill="#867400" transform="rotate(-13 559.1 1476.4)"/><ellipse cx="644.7" cy="1481.0" rx="18.2" ry="8.9" fill="#867400" transform="rotate(-22 643.2 1478.8)"/><ellipse cx="598.3" cy="1497.4" rx="7.9" ry="4.4" fill="#867400" transform="rotate(22 596.8 1495.2)"/><ellipse cx="628.7" cy="1465.4" rx="11.3" ry="7.4" fill="#867400" transform="rotate(17 627.2 1463.2)"/><ellipse cx="581.6" cy="1517.4" rx="10.0" ry="4.4" fill="#867400" transform="rotate(-14 580.1 1515.2)"/><ellipse cx="647.5" cy="1484.6" rx="17.9" ry="6.5" fill="#867400" transform="rotate(-13 646.0 1482.4)"/><ellipse cx="628.2" cy="1465.4" rx="7.6" ry="7.7" fill="#867400" transform="rotate(-24 626.7 1463.2)"/><ellipse cx="666.7" cy="1526.5" rx="8.0" ry="5.3" fill="#867400" transform="rotate(29 665.2 1524.3)"/><ellipse cx="598.6" cy="1504.7" rx="9.4" ry="5.3" fill="#867400" transform="rotate(15 597.1 1502.5)"/><ellipse cx="673.3" cy="1525.5" rx="11.8" ry="9.3" fill="#867400" transform="rotate(25 671.8 1523.3)"/><ellipse cx="606.4" cy="1514.2" rx="12.9" ry="4.6" fill="#867400" transform="rotate(9 604.9 1512.0)"/><ellipse cx="618.3" cy="1500.9" rx="18.6" ry="5.6" fill="#867400" transform="rotate(6 616.8 1498.7)"/><ellipse cx="585.4" cy="1505.3" rx="8.2" ry="9.0" fill="#867400" transform="rotate(28 583.9 1503.1)"/><ellipse cx="629.8" cy="1498.5" rx="9.9" ry="7.4" fill="#867400" transform="rotate(29 628.3 1496.3)"/><ellipse cx="563.3" cy="1492.4" rx="14.9" ry="5.4" fill="#867400" transform="rotate(2 561.8 1490.2)"/><ellipse cx="604.5" cy="1513.6" rx="8.4" ry="5.5" fill="#867400" transform="rotate(29 603.0 1511.4)"/><ellipse cx="566.6" cy="1509.1" rx="14.7" ry="9.2" fill="#867400" transform="rotate(-7 565.1 1506.9)"/><ellipse cx="602.9" cy="1516.1" rx="11.1" ry="8.7" fill="#867400" transform="rotate(24 601.4 1513.9)"/><ellipse cx="603.5" cy="1516.5" rx="13.6" ry="7.2" fill="#867400" transform="rotate(6 602.0 1514.3)"/><ellipse cx="613.7" cy="1504.1" rx="10.2" ry="4.4" fill="#867400" transform="rotate(3 612.2 1501.9)"/><ellipse cx="625.7" cy="1503.5" rx="14.6" ry="5.6" fill="#867400" transform="rotate(18 624.2 1501.3)"/><ellipse cx="545.6" cy="1501.8" rx="9.2" ry="6.8" fill="#867400" transform="rotate(18 544.1 1499.6)"/><ellipse cx="687.2" cy="1521.9" rx="9.4" ry="8.3" fill="#867400" transform="rotate(29 685.7 1519.7)"/><ellipse cx="626.5" cy="1485.1" rx="8.7" ry="6.8" fill="#867400" transform="rotate(25 625.0 1482.9)"/><ellipse cx="594.0" cy="1539.1" rx="9.1" ry="9.0" fill="#867400" transform="rotate(-28 592.5 1536.9)"/><ellipse cx="583.8" cy="1537.9" rx="16.5" ry="9.0" fill="#867400" transform="rotate(20 582.3 1535.7)"/><ellipse cx="612.3" cy="1471.0" rx="9.5" ry="6.4" fill="#867400" transform="rotate(-21 610.8 1468.8)"/><ellipse cx="602.4" cy="1472.5" rx="10.3" ry="4.4" fill="#867400" transform="rotate(28 600.9 1470.3)"/><ellipse cx="628.9" cy="1477.7" rx="13.6" ry="8.7" fill="#867400" transform="rotate(-3 627.4 1475.5)"/><ellipse cx="588.9" cy="1510.8" rx="10.4" ry="4.1" fill="#867400" transform="rotate(9 587.4 1508.6)"/><ellipse cx="575.1" cy="1512.6" rx="8.2" ry="6.0" fill="#867400" transform="rotate(-22 573.6 1510.4)"/><ellipse cx="632.2" cy="1510.7" rx="16.8" ry="6.2" fill="#867400" transform="rotate(-6 630.7 1508.5)"/><ellipse cx="594.6" cy="1491.2" rx="7.6" ry="6.9" fill="#867400" transform="rotate(0 593.1 1489.0)"/><ellipse cx="591.8" cy="1483.7" rx="15.2" ry="8.0" fill="#867400" transform="rotate(-16 590.3 1481.5)"/><ellipse cx="574.6" cy="1500.9" rx="10.0" ry="6.3" fill="#867400" transform="rotate(4 573.1 1498.7)"/><ellipse cx="677.0" cy="1476.6" rx="10.6" ry="7.6" fill="#867400" transform="rotate(-27 675.5 1474.4)"/><ellipse cx="650.3" cy="1510.1" rx="17.4" ry="4.9" fill="#867400" transform="rotate(16 648.8 1507.9)"/><ellipse cx="635.4" cy="1489.1" rx="15.3" ry="8.7" fill="#867400" transform="rotate(-8 633.9 1486.9)"/><ellipse cx="596.7" cy="1470.5" rx="14.2" ry="8.7" fill="#867400" transform="rotate(24 595.2 1468.3)"/><ellipse cx="656.5" cy="1494.0" rx="9.5" ry="5.4" fill="#867400" transform="rotate(-17 655.0 1491.8)"/><ellipse cx="561.5" cy="1486.6" rx="8.1" ry="7.7" fill="#867400" transform="rotate(13 560.0 1484.4)"/><ellipse cx="589.8" cy="1519.0" rx="9.4" ry="8.0" fill="#867400" transform="rotate(-28 588.3 1516.8)"/><ellipse cx="675.0" cy="1496.1" rx="14.6" ry="5.5" fill="#867400" transform="rotate(25 673.5 1493.9)"/><ellipse cx="631.6" cy="1497.6" rx="16.2" ry="8.6" fill="#867400" transform="rotate(10 630.1 1495.4)"/><ellipse cx="602.2" cy="1480.5" rx="17.9" ry="9.3" fill="#867400" transform="rotate(-7 600.7 1478.3)"/><ellipse cx="625.3" cy="1481.0" rx="9.4" ry="5.8" fill="#867400" transform="rotate(-22 623.8 1478.8)"/><ellipse cx="686.0" cy="1474.0" rx="8.8" ry="7.3" fill="#867400" transform="rotate(-6 684.5 1471.8)"/><ellipse cx="634.5" cy="1511.0" rx="10.3" ry="8.1" fill="#867400" transform="rotate(-30 633.0 1508.8)"/><ellipse cx="627.0" cy="1519.3" rx="7.7" ry="7.5" fill="#867400" transform="rotate(6 625.5 1517.1)"/><ellipse cx="625.3" cy="1489.0" rx="10.7" ry="7.0" fill="#867400" transform="rotate(-14 623.8 1486.8)"/><ellipse cx="655.9" cy="1525.7" rx="16.1" ry="5.4" fill="#C8B406" transform="rotate(-0 655.9 1525.7)"/><ellipse cx="565.0" cy="1506.7" rx="16.4" ry="4.5" fill="#C8B406" transform="rotate(-28 565.0 1506.7)"/><ellipse cx="630.6" cy="1480.6" rx="16.1" ry="4.0" fill="#C8B406" transform="rotate(-3 630.6 1480.6)"/><ellipse cx="607.6" cy="1484.5" rx="18.1" ry="9.0" fill="#C8B406" transform="rotate(-28 607.6 1484.5)"/><ellipse cx="654.0" cy="1501.8" rx="18.1" ry="6.1" fill="#C8B406" transform="rotate(-17 654.0 1501.8)"/><ellipse cx="604.7" cy="1500.2" rx="10.0" ry="6.4" fill="#C8B406" transform="rotate(-0 604.7 1500.2)"/><ellipse cx="614.6" cy="1511.8" rx="10.0" ry="6.5" fill="#C8B406" transform="rotate(-13 614.6 1511.8)"/><ellipse cx="676.4" cy="1502.9" rx="13.8" ry="7.5" fill="#C8B406" transform="rotate(-19 676.4 1502.9)"/><ellipse cx="679.5" cy="1496.2" rx="8.9" ry="5.8" fill="#C8B406" transform="rotate(13 679.5 1496.2)"/><ellipse cx="592.7" cy="1456.0" rx="12.2" ry="8.6" fill="#C8B406" transform="rotate(10 592.7 1456.0)"/><ellipse cx="597.1" cy="1522.0" rx="17.4" ry="8.7" fill="#C8B406" transform="rotate(0 597.1 1522.0)"/><ellipse cx="604.3" cy="1495.3" rx="10.2" ry="8.4" fill="#C8B406" transform="rotate(-5 604.3 1495.3)"/><ellipse cx="632.0" cy="1519.3" rx="15.4" ry="7.7" fill="#C8B406" transform="rotate(-8 632.0 1519.3)"/><ellipse cx="574.3" cy="1506.5" rx="16.3" ry="6.9" fill="#C8B406" transform="rotate(-6 574.3 1506.5)"/><ellipse cx="603.7" cy="1498.3" rx="8.0" ry="7.9" fill="#C8B406" transform="rotate(29 603.7 1498.3)"/><ellipse cx="583.6" cy="1487.4" rx="9.4" ry="6.8" fill="#C8B406" transform="rotate(29 583.6 1487.4)"/><ellipse cx="617.5" cy="1474.4" rx="17.2" ry="5.3" fill="#C8B406" transform="rotate(1 617.5 1474.4)"/><ellipse cx="654.8" cy="1490.6" rx="12.7" ry="5.5" fill="#C8B406" transform="rotate(3 654.8 1490.6)"/><ellipse cx="615.5" cy="1497.5" rx="16.3" ry="8.5" fill="#C8B406" transform="rotate(23 615.5 1497.5)"/><ellipse cx="608.3" cy="1463.3" rx="13.3" ry="7.1" fill="#C8B406" transform="rotate(-4 608.3 1463.3)"/><ellipse cx="676.6" cy="1511.3" rx="13.9" ry="5.1" fill="#C8B406" transform="rotate(0 676.6 1511.3)"/><ellipse cx="580.1" cy="1499.7" rx="11.4" ry="7.0" fill="#C8B406" transform="rotate(7 580.1 1499.7)"/><ellipse cx="583.3" cy="1484.3" rx="7.8" ry="5.3" fill="#C8B406" transform="rotate(-19 583.3 1484.3)"/><ellipse cx="553.6" cy="1478.8" rx="16.5" ry="8.4" fill="#C8B406" transform="rotate(19 553.6 1478.8)"/><ellipse cx="609.8" cy="1534.6" rx="15.1" ry="4.5" fill="#C8B406" transform="rotate(-29 609.8 1534.6)"/><ellipse cx="669.0" cy="1500.9" rx="10.3" ry="4.6" fill="#C8B406" transform="rotate(7 669.0 1500.9)"/><ellipse cx="604.8" cy="1504.0" rx="9.3" ry="6.9" fill="#C8B406" transform="rotate(-20 604.8 1504.0)"/><ellipse cx="604.3" cy="1527.8" rx="12.6" ry="5.8" fill="#C8B406" transform="rotate(-2 604.3 1527.8)"/><ellipse cx="645.3" cy="1500.8" rx="12.2" ry="5.0" fill="#C8B406" transform="rotate(-23 645.3 1500.8)"/><ellipse cx="644.9" cy="1484.6" rx="9.9" ry="7.3" fill="#C8B406" transform="rotate(19 644.9 1484.6)"/><ellipse cx="618.4" cy="1498.5" rx="9.1" ry="8.0" fill="#C8B406" transform="rotate(-20 618.4 1498.5)"/><ellipse cx="597.6" cy="1470.4" rx="13.6" ry="5.2" fill="#C8B406" transform="rotate(29 597.6 1470.4)"/><ellipse cx="624.2" cy="1476.0" rx="10.0" ry="7.6" fill="#C8B406" transform="rotate(-6 624.2 1476.0)"/><ellipse cx="585.3" cy="1490.3" rx="14.6" ry="4.3" fill="#C8B406" transform="rotate(-12 585.3 1490.3)"/><ellipse cx="680.2" cy="1490.2" rx="10.9" ry="8.7" fill="#C8B406" transform="rotate(-11 680.2 1490.2)"/><ellipse cx="664.2" cy="1486.3" rx="12.2" ry="5.4" fill="#C8B406" transform="rotate(-29 664.2 1486.3)"/><ellipse cx="618.9" cy="1494.3" rx="16.7" ry="9.3" fill="#C8B406" transform="rotate(4 618.9 1494.3)"/><ellipse cx="644.5" cy="1531.8" rx="18.5" ry="7.9" fill="#C8B406" transform="rotate(1 644.5 1531.8)"/><ellipse cx="589.3" cy="1510.2" rx="9.8" ry="7.7" fill="#C8B406" transform="rotate(-4 589.3 1510.2)"/><ellipse cx="617.5" cy="1506.4" rx="15.0" ry="5.6" fill="#C8B406" transform="rotate(-0 617.5 1506.4)"/><ellipse cx="580.5" cy="1532.4" rx="17.6" ry="4.1" fill="#C8B406" transform="rotate(-18 580.5 1532.4)"/><ellipse cx="564.8" cy="1540.0" rx="16.3" ry="5.9" fill="#C8B406" transform="rotate(-17 564.8 1540.0)"/><ellipse cx="582.3" cy="1465.6" rx="18.0" ry="5.9" fill="#C8B406" transform="rotate(23 582.3 1465.6)"/><ellipse cx="596.9" cy="1477.7" rx="18.6" ry="5.3" fill="#C8B406" transform="rotate(14 596.9 1477.7)"/><ellipse cx="629.9" cy="1503.9" rx="17.7" ry="5.2" fill="#C8B406" transform="rotate(16 629.9 1503.9)"/><ellipse cx="559.1" cy="1476.4" rx="11.6" ry="5.9" fill="#C8B406" transform="rotate(-13 559.1 1476.4)"/><ellipse cx="643.2" cy="1478.8" rx="18.2" ry="8.9" fill="#C8B406" transform="rotate(-22 643.2 1478.8)"/><ellipse cx="596.8" cy="1495.2" rx="7.9" ry="4.4" fill="#C8B406" transform="rotate(22 596.8 1495.2)"/><ellipse cx="627.2" cy="1463.2" rx="11.3" ry="7.4" fill="#C8B406" transform="rotate(17 627.2 1463.2)"/><ellipse cx="580.1" cy="1515.2" rx="10.0" ry="4.4" fill="#C8B406" transform="rotate(-14 580.1 1515.2)"/><ellipse cx="646.0" cy="1482.4" rx="17.9" ry="6.5" fill="#C8B406" transform="rotate(-13 646.0 1482.4)"/><ellipse cx="626.7" cy="1463.2" rx="7.6" ry="7.7" fill="#C8B406" transform="rotate(-24 626.7 1463.2)"/><ellipse cx="665.2" cy="1524.3" rx="8.0" ry="5.3" fill="#C8B406" transform="rotate(29 665.2 1524.3)"/><ellipse cx="597.1" cy="1502.5" rx="9.4" ry="5.3" fill="#C8B406" transform="rotate(15 597.1 1502.5)"/><ellipse cx="671.8" cy="1523.3" rx="11.8" ry="9.3" fill="#C8B406" transform="rotate(25 671.8 1523.3)"/><ellipse cx="604.9" cy="1512.0" rx="12.9" ry="4.6" fill="#C8B406" transform="rotate(9 604.9 1512.0)"/><ellipse cx="616.8" cy="1498.7" rx="18.6" ry="5.6" fill="#C8B406" transform="rotate(6 616.8 1498.7)"/><ellipse cx="583.9" cy="1503.1" rx="8.2" ry="9.0" fill="#C8B406" transform="rotate(28 583.9 1503.1)"/><ellipse cx="628.3" cy="1496.3" rx="9.9" ry="7.4" fill="#C8B406" transform="rotate(29 628.3 1496.3)"/><ellipse cx="561.8" cy="1490.2" rx="14.9" ry="5.4" fill="#C8B406" transform="rotate(2 561.8 1490.2)"/><ellipse cx="603.0" cy="1511.4" rx="8.4" ry="5.5" fill="#C8B406" transform="rotate(29 603.0 1511.4)"/><ellipse cx="565.1" cy="1506.9" rx="14.7" ry="9.2" fill="#C8B406" transform="rotate(-7 565.1 1506.9)"/><ellipse cx="601.4" cy="1513.9" rx="11.1" ry="8.7" fill="#C8B406" transform="rotate(24 601.4 1513.9)"/><ellipse cx="602.0" cy="1514.3" rx="13.6" ry="7.2" fill="#C8B406" transform="rotate(6 602.0 1514.3)"/><ellipse cx="612.2" cy="1501.9" rx="10.2" ry="4.4" fill="#C8B406" transform="rotate(3 612.2 1501.9)"/><ellipse cx="624.2" cy="1501.3" rx="14.6" ry="5.6" fill="#C8B406" transform="rotate(18 624.2 1501.3)"/><ellipse cx="544.1" cy="1499.6" rx="9.2" ry="6.8" fill="#C8B406" transform="rotate(18 544.1 1499.6)"/><ellipse cx="685.7" cy="1519.7" rx="9.4" ry="8.3" fill="#C8B406" transform="rotate(29 685.7 1519.7)"/><ellipse cx="625.0" cy="1482.9" rx="8.7" ry="6.8" fill="#C8B406" transform="rotate(25 625.0 1482.9)"/><ellipse cx="592.5" cy="1536.9" rx="9.1" ry="9.0" fill="#C8B406" transform="rotate(-28 592.5 1536.9)"/><ellipse cx="582.3" cy="1535.7" rx="16.5" ry="9.0" fill="#C8B406" transform="rotate(20 582.3 1535.7)"/><ellipse cx="610.8" cy="1468.8" rx="9.5" ry="6.4" fill="#C8B406" transform="rotate(-21 610.8 1468.8)"/><ellipse cx="600.9" cy="1470.3" rx="10.3" ry="4.4" fill="#C8B406" transform="rotate(28 600.9 1470.3)"/><ellipse cx="627.4" cy="1475.5" rx="13.6" ry="8.7" fill="#C8B406" transform="rotate(-3 627.4 1475.5)"/><ellipse cx="587.4" cy="1508.6" rx="10.4" ry="4.1" fill="#C8B406" transform="rotate(9 587.4 1508.6)"/><ellipse cx="573.6" cy="1510.4" rx="8.2" ry="6.0" fill="#C8B406" transform="rotate(-22 573.6 1510.4)"/><ellipse cx="630.7" cy="1508.5" rx="16.8" ry="6.2" fill="#C8B406" transform="rotate(-6 630.7 1508.5)"/><ellipse cx="593.1" cy="1489.0" rx="7.6" ry="6.9" fill="#C8B406" transform="rotate(0 593.1 1489.0)"/><ellipse cx="590.3" cy="1481.5" rx="15.2" ry="8.0" fill="#C8B406" transform="rotate(-16 590.3 1481.5)"/><ellipse cx="573.1" cy="1498.7" rx="10.0" ry="6.3" fill="#C8B406" transform="rotate(4 573.1 1498.7)"/><ellipse cx="675.5" cy="1474.4" rx="10.6" ry="7.6" fill="#C8B406" transform="rotate(-27 675.5 1474.4)"/><ellipse cx="648.8" cy="1507.9" rx="17.4" ry="4.9" fill="#C8B406" transform="rotate(16 648.8 1507.9)"/><ellipse cx="633.9" cy="1486.9" rx="15.3" ry="8.7" fill="#C8B406" transform="rotate(-8 633.9 1486.9)"/><ellipse cx="595.2" cy="1468.3" rx="14.2" ry="8.7" fill="#C8B406" transform="rotate(24 595.2 1468.3)"/><ellipse cx="655.0" cy="1491.8" rx="9.5" ry="5.4" fill="#C8B406" transform="rotate(-17 655.0 1491.8)"/><ellipse cx="560.0" cy="1484.4" rx="8.1" ry="7.7" fill="#C8B406" transform="rotate(13 560.0 1484.4)"/><ellipse cx="588.3" cy="1516.8" rx="9.4" ry="8.0" fill="#C8B406" transform="rotate(-28 588.3 1516.8)"/><ellipse cx="673.5" cy="1493.9" rx="14.6" ry="5.5" fill="#C8B406" transform="rotate(25 673.5 1493.9)"/><ellipse cx="630.1" cy="1495.4" rx="16.2" ry="8.6" fill="#C8B406" transform="rotate(10 630.1 1495.4)"/><ellipse cx="600.7" cy="1478.3" rx="17.9" ry="9.3" fill="#C8B406" transform="rotate(-7 600.7 1478.3)"/><ellipse cx="623.8" cy="1478.8" rx="9.4" ry="5.8" fill="#C8B406" transform="rotate(-22 623.8 1478.8)"/><ellipse cx="684.5" cy="1471.8" rx="8.8" ry="7.3" fill="#C8B406" transform="rotate(-6 684.5 1471.8)"/><ellipse cx="633.0" cy="1508.8" rx="10.3" ry="8.1" fill="#C8B406" transform="rotate(-30 633.0 1508.8)"/><ellipse cx="625.5" cy="1517.1" rx="7.7" ry="7.5" fill="#C8B406" transform="rotate(6 625.5 1517.1)"/><ellipse cx="623.8" cy="1486.8" rx="10.7" ry="7.0" fill="#C8B406" transform="rotate(-14 623.8 1486.8)"/><ellipse cx="657.9" cy="1528.1" rx="6.8" ry="2.3" fill="#9E8A00" transform="rotate(-0 655.9 1525.7)"/><ellipse cx="632.6" cy="1483.0" rx="6.8" ry="1.7" fill="#9E8A00" transform="rotate(-3 630.6 1480.6)"/><ellipse cx="656.0" cy="1504.2" rx="7.6" ry="2.6" fill="#9E8A00" transform="rotate(-17 654.0 1501.8)"/><ellipse cx="616.6" cy="1514.2" rx="4.2" ry="2.7" fill="#9E8A00" transform="rotate(-13 614.6 1511.8)"/><ellipse cx="681.5" cy="1498.6" rx="3.7" ry="2.4" fill="#9E8A00" transform="rotate(13 679.5 1496.2)"/><ellipse cx="599.1" cy="1524.4" rx="7.3" ry="3.6" fill="#9E8A00" transform="rotate(0 597.1 1522.0)"/><ellipse cx="634.0" cy="1521.7" rx="6.5" ry="3.2" fill="#9E8A00" transform="rotate(-8 632.0 1519.3)"/><ellipse cx="605.7" cy="1500.7" rx="3.4" ry="3.3" fill="#9E8A00" transform="rotate(29 603.7 1498.3)"/><ellipse cx="619.5" cy="1476.8" rx="7.2" ry="2.2" fill="#9E8A00" transform="rotate(1 617.5 1474.4)"/><ellipse cx="617.5" cy="1499.9" rx="6.9" ry="3.6" fill="#9E8A00" transform="rotate(23 615.5 1497.5)"/><ellipse cx="678.6" cy="1513.7" rx="5.8" ry="2.1" fill="#9E8A00" transform="rotate(0 676.6 1511.3)"/><ellipse cx="585.3" cy="1486.7" rx="3.3" ry="2.2" fill="#9E8A00" transform="rotate(-19 583.3 1484.3)"/><ellipse cx="611.8" cy="1537.0" rx="6.3" ry="1.9" fill="#9E8A00" transform="rotate(-29 609.8 1534.6)"/><ellipse cx="606.8" cy="1506.4" rx="3.9" ry="2.9" fill="#9E8A00" transform="rotate(-20 604.8 1504.0)"/><ellipse cx="647.3" cy="1503.2" rx="5.1" ry="2.1" fill="#9E8A00" transform="rotate(-23 645.3 1500.8)"/><ellipse cx="620.4" cy="1500.9" rx="3.8" ry="3.3" fill="#9E8A00" transform="rotate(-20 618.4 1498.5)"/><ellipse cx="626.2" cy="1478.4" rx="4.2" ry="3.2" fill="#9E8A00" transform="rotate(-6 624.2 1476.0)"/><ellipse cx="682.2" cy="1492.6" rx="4.6" ry="3.7" fill="#9E8A00" transform="rotate(-11 680.2 1490.2)"/><ellipse cx="620.9" cy="1496.7" rx="7.0" ry="3.9" fill="#9E8A00" transform="rotate(4 618.9 1494.3)"/><ellipse cx="591.3" cy="1512.6" rx="4.1" ry="3.2" fill="#9E8A00" transform="rotate(-4 589.3 1510.2)"/><ellipse cx="582.5" cy="1534.8" rx="7.4" ry="1.7" fill="#9E8A00" transform="rotate(-18 580.5 1532.4)"/><ellipse cx="584.3" cy="1468.0" rx="7.6" ry="2.5" fill="#9E8A00" transform="rotate(23 582.3 1465.6)"/><ellipse cx="631.9" cy="1506.3" rx="7.5" ry="2.2" fill="#9E8A00" transform="rotate(16 629.9 1503.9)"/><ellipse cx="645.2" cy="1481.2" rx="7.7" ry="3.7" fill="#9E8A00" transform="rotate(-22 643.2 1478.8)"/><ellipse cx="629.2" cy="1465.6" rx="4.8" ry="3.1" fill="#9E8A00" transform="rotate(17 627.2 1463.2)"/><ellipse cx="648.0" cy="1484.8" rx="7.5" ry="2.7" fill="#9E8A00" transform="rotate(-13 646.0 1482.4)"/><ellipse cx="667.2" cy="1526.7" rx="3.3" ry="2.2" fill="#9E8A00" transform="rotate(29 665.2 1524.3)"/><ellipse cx="673.8" cy="1525.7" rx="4.9" ry="3.9" fill="#9E8A00" transform="rotate(25 671.8 1523.3)"/><ellipse cx="618.8" cy="1501.1" rx="7.8" ry="2.4" fill="#9E8A00" transform="rotate(6 616.8 1498.7)"/><ellipse cx="630.3" cy="1498.7" rx="4.2" ry="3.1" fill="#9E8A00" transform="rotate(29 628.3 1496.3)"/><ellipse cx="605.0" cy="1513.8" rx="3.5" ry="2.3" fill="#9E8A00" transform="rotate(29 603.0 1511.4)"/><ellipse cx="603.4" cy="1516.3" rx="4.6" ry="3.6" fill="#9E8A00" transform="rotate(24 601.4 1513.9)"/><ellipse cx="614.2" cy="1504.3" rx="4.3" ry="1.8" fill="#9E8A00" transform="rotate(3 612.2 1501.9)"/><ellipse cx="546.1" cy="1502.0" rx="3.9" ry="2.8" fill="#9E8A00" transform="rotate(18 544.1 1499.6)"/><ellipse cx="627.0" cy="1485.3" rx="3.7" ry="2.9" fill="#9E8A00" transform="rotate(25 625.0 1482.9)"/><ellipse cx="584.3" cy="1538.1" rx="6.9" ry="3.8" fill="#9E8A00" transform="rotate(20 582.3 1535.7)"/><ellipse cx="602.9" cy="1472.7" rx="4.3" ry="1.8" fill="#9E8A00" transform="rotate(28 600.9 1470.3)"/><ellipse cx="589.4" cy="1511.0" rx="4.4" ry="1.7" fill="#9E8A00" transform="rotate(9 587.4 1508.6)"/><ellipse cx="632.7" cy="1510.9" rx="7.1" ry="2.6" fill="#9E8A00" transform="rotate(-6 630.7 1508.5)"/><ellipse cx="592.3" cy="1483.9" rx="6.4" ry="3.4" fill="#9E8A00" transform="rotate(-16 590.3 1481.5)"/><ellipse cx="677.5" cy="1476.8" rx="4.5" ry="3.2" fill="#9E8A00" transform="rotate(-27 675.5 1474.4)"/><ellipse cx="635.9" cy="1489.3" rx="6.4" ry="3.6" fill="#9E8A00" transform="rotate(-8 633.9 1486.9)"/><ellipse cx="657.0" cy="1494.2" rx="4.0" ry="2.3" fill="#9E8A00" transform="rotate(-17 655.0 1491.8)"/><ellipse cx="590.3" cy="1519.2" rx="3.9" ry="3.4" fill="#9E8A00" transform="rotate(-28 588.3 1516.8)"/><ellipse cx="632.1" cy="1497.8" rx="6.8" ry="3.6" fill="#9E8A00" transform="rotate(10 630.1 1495.4)"/><ellipse cx="625.8" cy="1481.2" rx="3.9" ry="2.4" fill="#9E8A00" transform="rotate(-22 623.8 1478.8)"/><ellipse cx="635.0" cy="1511.2" rx="4.3" ry="3.4" fill="#9E8A00" transform="rotate(-30 633.0 1508.8)"/><ellipse cx="625.8" cy="1489.2" rx="4.5" ry="2.9" fill="#9E8A00" transform="rotate(-14 623.8 1486.8)"/><ellipse cx="654.3" cy="1523.7" rx="7.2" ry="2.4" fill="#EADE24" transform="rotate(-0 655.9 1525.7)"/><ellipse cx="606.0" cy="1482.5" rx="8.2" ry="4.0" fill="#EADE24" transform="rotate(-28 607.6 1484.5)"/><ellipse cx="613.0" cy="1509.8" rx="4.5" ry="2.9" fill="#EADE24" transform="rotate(-13 614.6 1511.8)"/><ellipse cx="591.1" cy="1454.0" rx="5.5" ry="3.9" fill="#EADE24" transform="rotate(10 592.7 1456.0)"/><ellipse cx="630.4" cy="1517.3" rx="6.9" ry="3.5" fill="#EADE24" transform="rotate(-8 632.0 1519.3)"/><ellipse cx="582.0" cy="1485.4" rx="4.2" ry="3.0" fill="#EADE24" transform="rotate(29 583.6 1487.4)"/><ellipse cx="613.9" cy="1495.5" rx="7.3" ry="3.8" fill="#EADE24" transform="rotate(23 615.5 1497.5)"/><ellipse cx="578.5" cy="1497.7" rx="5.1" ry="3.1" fill="#EADE24" transform="rotate(7 580.1 1499.7)"/><ellipse cx="608.2" cy="1532.6" rx="6.8" ry="2.0" fill="#EADE24" transform="rotate(-29 609.8 1534.6)"/><ellipse cx="602.7" cy="1525.8" rx="5.7" ry="2.6" fill="#EADE24" transform="rotate(-2 604.3 1527.8)"/><ellipse cx="616.8" cy="1496.5" rx="4.1" ry="3.6" fill="#EADE24" transform="rotate(-20 618.4 1498.5)"/><ellipse cx="583.7" cy="1488.3" rx="6.6" ry="1.9" fill="#EADE24" transform="rotate(-12 585.3 1490.3)"/><ellipse cx="617.3" cy="1492.3" rx="7.5" ry="4.2" fill="#EADE24" transform="rotate(4 618.9 1494.3)"/><ellipse cx="615.9" cy="1504.4" rx="6.7" ry="2.5" fill="#EADE24" transform="rotate(-0 617.5 1506.4)"/><ellipse cx="580.7" cy="1463.6" rx="8.1" ry="2.7" fill="#EADE24" transform="rotate(23 582.3 1465.6)"/><ellipse cx="557.5" cy="1474.4" rx="5.2" ry="2.6" fill="#EADE24" transform="rotate(-13 559.1 1476.4)"/><ellipse cx="625.6" cy="1461.2" rx="5.1" ry="3.3" fill="#EADE24" transform="rotate(17 627.2 1463.2)"/><ellipse cx="625.1" cy="1461.2" rx="3.4" ry="3.5" fill="#EADE24" transform="rotate(-24 626.7 1463.2)"/><ellipse cx="670.2" cy="1521.3" rx="5.3" ry="4.2" fill="#EADE24" transform="rotate(25 671.8 1523.3)"/><ellipse cx="582.3" cy="1501.1" rx="3.7" ry="4.1" fill="#EADE24" transform="rotate(28 583.9 1503.1)"/><ellipse cx="601.4" cy="1509.4" rx="3.8" ry="2.5" fill="#EADE24" transform="rotate(29 603.0 1511.4)"/><ellipse cx="600.4" cy="1512.3" rx="6.1" ry="3.2" fill="#EADE24" transform="rotate(6 602.0 1514.3)"/><ellipse cx="542.5" cy="1497.6" rx="4.2" ry="3.0" fill="#EADE24" transform="rotate(18 544.1 1499.6)"/><ellipse cx="590.9" cy="1534.9" rx="4.1" ry="4.1" fill="#EADE24" transform="rotate(-28 592.5 1536.9)"/><ellipse cx="599.3" cy="1468.3" rx="4.7" ry="2.0" fill="#EADE24" transform="rotate(28 600.9 1470.3)"/><ellipse cx="572.0" cy="1508.4" rx="3.7" ry="2.7" fill="#EADE24" transform="rotate(-22 573.6 1510.4)"/><ellipse cx="588.7" cy="1479.5" rx="6.9" ry="3.6" fill="#EADE24" transform="rotate(-16 590.3 1481.5)"/><ellipse cx="647.2" cy="1505.9" rx="7.8" ry="2.2" fill="#EADE24" transform="rotate(16 648.8 1507.9)"/><ellipse cx="653.4" cy="1489.8" rx="4.3" ry="2.4" fill="#EADE24" transform="rotate(-17 655.0 1491.8)"/><ellipse cx="671.9" cy="1491.9" rx="6.6" ry="2.5" fill="#EADE24" transform="rotate(25 673.5 1493.9)"/><ellipse cx="622.2" cy="1476.8" rx="4.2" ry="2.6" fill="#EADE24" transform="rotate(-22 623.8 1478.8)"/><ellipse cx="623.9" cy="1515.1" rx="3.5" ry="3.4" fill="#EADE24" transform="rotate(6 625.5 1517.1)"/>
<ellipse cx="597.9" cy="1555.5" rx="10.5" ry="7.8" fill="#867400" transform="rotate(-22 596.4 1553.3)"/><ellipse cx="598.8" cy="1558.4" rx="14.1" ry="4.8" fill="#867400" transform="rotate(14 597.3 1556.2)"/><ellipse cx="587.8" cy="1552.1" rx="11.9" ry="6.5" fill="#867400" transform="rotate(-5 586.3 1549.9)"/><ellipse cx="597.3" cy="1555.1" rx="6.8" ry="9.2" fill="#867400" transform="rotate(-6 595.8 1552.9)"/><ellipse cx="595.3" cy="1561.0" rx="10.2" ry="9.3" fill="#867400" transform="rotate(-17 593.8 1558.8)"/><ellipse cx="595.1" cy="1564.0" rx="12.0" ry="9.2" fill="#867400" transform="rotate(20 593.6 1561.8)"/><ellipse cx="586.0" cy="1558.8" rx="14.9" ry="9.4" fill="#867400" transform="rotate(-28 584.5 1556.6)"/><ellipse cx="589.0" cy="1541.5" rx="13.0" ry="5.2" fill="#867400" transform="rotate(18 587.5 1539.3)"/><ellipse cx="590.4" cy="1550.8" rx="12.9" ry="5.2" fill="#867400" transform="rotate(-28 588.9 1548.6)"/><ellipse cx="585.4" cy="1560.5" rx="10.5" ry="7.6" fill="#867400" transform="rotate(20 583.9 1558.3)"/><ellipse cx="620.5" cy="1550.7" rx="16.4" ry="8.3" fill="#867400" transform="rotate(-12 619.0 1548.5)"/><ellipse cx="599.7" cy="1563.7" rx="12.0" ry="7.7" fill="#867400" transform="rotate(-24 598.2 1561.5)"/><ellipse cx="601.9" cy="1569.6" rx="12.6" ry="7.8" fill="#867400" transform="rotate(-24 600.4 1567.4)"/><ellipse cx="568.2" cy="1564.1" rx="13.0" ry="9.5" fill="#867400" transform="rotate(-18 566.7 1561.9)"/><ellipse cx="568.8" cy="1558.6" rx="11.0" ry="8.3" fill="#867400" transform="rotate(4 567.3 1556.4)"/><ellipse cx="595.9" cy="1557.3" rx="16.3" ry="4.7" fill="#867400" transform="rotate(-18 594.4 1555.1)"/><ellipse cx="596.4" cy="1553.3" rx="10.5" ry="7.8" fill="#C8B406" transform="rotate(-22 596.4 1553.3)"/><ellipse cx="597.3" cy="1556.2" rx="14.1" ry="4.8" fill="#C8B406" transform="rotate(14 597.3 1556.2)"/><ellipse cx="586.3" cy="1549.9" rx="11.9" ry="6.5" fill="#C8B406" transform="rotate(-5 586.3 1549.9)"/><ellipse cx="595.8" cy="1552.9" rx="6.8" ry="9.2" fill="#C8B406" transform="rotate(-6 595.8 1552.9)"/><ellipse cx="593.8" cy="1558.8" rx="10.2" ry="9.3" fill="#C8B406" transform="rotate(-17 593.8 1558.8)"/><ellipse cx="593.6" cy="1561.8" rx="12.0" ry="9.2" fill="#C8B406" transform="rotate(20 593.6 1561.8)"/><ellipse cx="584.5" cy="1556.6" rx="14.9" ry="9.4" fill="#C8B406" transform="rotate(-28 584.5 1556.6)"/><ellipse cx="587.5" cy="1539.3" rx="13.0" ry="5.2" fill="#C8B406" transform="rotate(18 587.5 1539.3)"/><ellipse cx="588.9" cy="1548.6" rx="12.9" ry="5.2" fill="#C8B406" transform="rotate(-28 588.9 1548.6)"/><ellipse cx="583.9" cy="1558.3" rx="10.5" ry="7.6" fill="#C8B406" transform="rotate(20 583.9 1558.3)"/><ellipse cx="619.0" cy="1548.5" rx="16.4" ry="8.3" fill="#C8B406" transform="rotate(-12 619.0 1548.5)"/><ellipse cx="598.2" cy="1561.5" rx="12.0" ry="7.7" fill="#C8B406" transform="rotate(-24 598.2 1561.5)"/><ellipse cx="600.4" cy="1567.4" rx="12.6" ry="7.8" fill="#C8B406" transform="rotate(-24 600.4 1567.4)"/><ellipse cx="566.7" cy="1561.9" rx="13.0" ry="9.5" fill="#C8B406" transform="rotate(-18 566.7 1561.9)"/><ellipse cx="567.3" cy="1556.4" rx="11.0" ry="8.3" fill="#C8B406" transform="rotate(4 567.3 1556.4)"/><ellipse cx="594.4" cy="1555.1" rx="16.3" ry="4.7" fill="#C8B406" transform="rotate(-18 594.4 1555.1)"/><ellipse cx="598.4" cy="1555.7" rx="4.4" ry="3.3" fill="#9E8A00" transform="rotate(-22 596.4 1553.3)"/><ellipse cx="588.3" cy="1552.3" rx="5.0" ry="2.7" fill="#9E8A00" transform="rotate(-5 586.3 1549.9)"/><ellipse cx="595.8" cy="1561.2" rx="4.3" ry="3.9" fill="#9E8A00" transform="rotate(-17 593.8 1558.8)"/><ellipse cx="586.5" cy="1559.0" rx="6.2" ry="4.0" fill="#9E8A00" transform="rotate(-28 584.5 1556.6)"/><ellipse cx="590.9" cy="1551.0" rx="5.4" ry="2.2" fill="#9E8A00" transform="rotate(-28 588.9 1548.6)"/><ellipse cx="621.0" cy="1550.9" rx="6.9" ry="3.5" fill="#9E8A00" transform="rotate(-12 619.0 1548.5)"/><ellipse cx="602.4" cy="1569.8" rx="5.3" ry="3.3" fill="#9E8A00" transform="rotate(-24 600.4 1567.4)"/><ellipse cx="569.3" cy="1558.8" rx="4.6" ry="3.5" fill="#9E8A00" transform="rotate(4 567.3 1556.4)"/><ellipse cx="594.8" cy="1551.3" rx="4.7" ry="3.5" fill="#EADE24" transform="rotate(-22 596.4 1553.3)"/><ellipse cx="594.2" cy="1550.9" rx="3.1" ry="4.1" fill="#EADE24" transform="rotate(-6 595.8 1552.9)"/><ellipse cx="582.9" cy="1554.6" rx="6.7" ry="4.2" fill="#EADE24" transform="rotate(-28 584.5 1556.6)"/><ellipse cx="582.3" cy="1556.3" rx="4.7" ry="3.4" fill="#EADE24" transform="rotate(20 583.9 1558.3)"/><ellipse cx="598.8" cy="1565.4" rx="5.6" ry="3.5" fill="#EADE24" transform="rotate(-24 600.4 1567.4)"/><ellipse cx="592.8" cy="1553.1" rx="7.3" ry="2.1" fill="#EADE24" transform="rotate(-18 594.4 1555.1)"/>
<ellipse cx="688.7" cy="1512.6" rx="4.3" ry="1.9" fill="#CDB90C" transform="rotate(-39 688.7 1512.6)"/><ellipse cx="683.7" cy="1481.9" rx="4.8" ry="3.2" fill="#CDB90C" transform="rotate(8 683.7 1481.9)"/><ellipse cx="692.9" cy="1512.9" rx="2.5" ry="2.6" fill="#CDB90C" transform="rotate(-27 692.9 1512.9)"/><ellipse cx="710.3" cy="1464.7" rx="4.9" ry="1.7" fill="#CDB90C" transform="rotate(15 710.3 1464.7)"/><ellipse cx="681.8" cy="1492.4" rx="4.9" ry="1.5" fill="#CDB90C" transform="rotate(-35 681.8 1492.4)"/><ellipse cx="710.8" cy="1500.7" rx="2.3" ry="4.0" fill="#CDB90C" transform="rotate(36 710.8 1500.7)"/><ellipse cx="670.6" cy="1493.9" rx="2.5" ry="2.3" fill="#CDB90C" transform="rotate(10 670.6 1493.9)"/><ellipse cx="673.2" cy="1515.7" rx="2.2" ry="1.9" fill="#CDB90C" transform="rotate(25 673.2 1515.7)"/>
<ellipse cx="680" cy="1490" rx="14" ry="7" fill="#DCC80C"/>
<ellipse cx="751.8" cy="1503.0" rx="4.4" ry="3.6" fill="#CDB90C" transform="rotate(-25 751.8 1503.0)"/><ellipse cx="750.8" cy="1465.3" rx="2.8" ry="3.3" fill="#CDB90C" transform="rotate(-30 750.8 1465.3)"/><ellipse cx="761.1" cy="1470.0" rx="3.0" ry="2.6" fill="#CDB90C" transform="rotate(27 761.1 1470.0)"/><ellipse cx="763.7" cy="1456.0" rx="3.0" ry="1.9" fill="#CDB90C" transform="rotate(30 763.7 1456.0)"/><ellipse cx="770.5" cy="1511.4" rx="4.9" ry="3.4" fill="#CDB90C" transform="rotate(36 770.5 1511.4)"/><ellipse cx="770.0" cy="1473.0" rx="5.0" ry="2.7" fill="#CDB90C" transform="rotate(20 770.0 1473.0)"/><ellipse cx="762.2" cy="1485.1" rx="3.3" ry="2.6" fill="#CDB90C" transform="rotate(-15 762.2 1485.1)"/>
<ellipse cx="906.5" cy="1487.5" rx="8.1" ry="4.5" fill="#867400" transform="rotate(20 905.0 1485.3)"/><ellipse cx="832.3" cy="1471.9" rx="11.0" ry="7.3" fill="#867400" transform="rotate(6 830.8 1469.7)"/><ellipse cx="820.2" cy="1494.7" rx="12.3" ry="6.2" fill="#867400" transform="rotate(13 818.7 1492.5)"/><ellipse cx="906.5" cy="1498.7" rx="13.6" ry="6.4" fill="#867400" transform="rotate(-14 905.0 1496.5)"/><ellipse cx="843.8" cy="1501.2" rx="12.7" ry="5.8" fill="#867400" transform="rotate(-7 842.3 1499.0)"/><ellipse cx="866.7" cy="1485.5" rx="13.8" ry="5.3" fill="#867400" transform="rotate(-29 865.2 1483.3)"/><ellipse cx="828.7" cy="1509.4" rx="13.2" ry="9.5" fill="#867400" transform="rotate(10 827.2 1507.2)"/><ellipse cx="864.5" cy="1537.0" rx="16.5" ry="8.0" fill="#867400" transform="rotate(24 863.0 1534.8)"/><ellipse cx="841.0" cy="1466.6" rx="11.5" ry="9.4" fill="#867400" transform="rotate(28 839.5 1464.4)"/><ellipse cx="864.7" cy="1527.3" rx="15.5" ry="6.5" fill="#867400" transform="rotate(2 863.2 1525.1)"/><ellipse cx="766.5" cy="1502.9" rx="13.1" ry="8.6" fill="#867400" transform="rotate(-9 765.0 1500.7)"/><ellipse cx="887.1" cy="1472.7" rx="12.7" ry="7.1" fill="#867400" transform="rotate(25 885.6 1470.5)"/><ellipse cx="830.5" cy="1478.5" rx="10.0" ry="5.8" fill="#867400" transform="rotate(12 829.0 1476.3)"/><ellipse cx="871.5" cy="1536.2" rx="10.5" ry="9.0" fill="#867400" transform="rotate(-11 870.0 1534.0)"/><ellipse cx="884.5" cy="1492.3" rx="13.2" ry="6.8" fill="#867400" transform="rotate(9 883.0 1490.1)"/><ellipse cx="813.1" cy="1491.5" rx="9.8" ry="6.8" fill="#867400" transform="rotate(26 811.6 1489.3)"/><ellipse cx="827.5" cy="1494.9" rx="16.7" ry="8.0" fill="#867400" transform="rotate(24 826.0 1492.7)"/><ellipse cx="855.4" cy="1529.6" rx="8.2" ry="7.6" fill="#867400" transform="rotate(-14 853.9 1527.4)"/><ellipse cx="846.0" cy="1538.7" rx="8.7" ry="6.9" fill="#867400" transform="rotate(21 844.5 1536.5)"/><ellipse cx="837.2" cy="1513.3" rx="17.4" ry="6.3" fill="#867400" transform="rotate(13 835.7 1511.1)"/><ellipse cx="866.1" cy="1503.8" rx="9.4" ry="7.7" fill="#867400" transform="rotate(-25 864.6 1501.6)"/><ellipse cx="843.4" cy="1499.0" rx="15.7" ry="4.1" fill="#867400" transform="rotate(-15 841.9 1496.8)"/><ellipse cx="843.7" cy="1489.9" rx="9.6" ry="7.8" fill="#867400" transform="rotate(-7 842.2 1487.7)"/><ellipse cx="906.5" cy="1515.7" rx="9.2" ry="4.2" fill="#867400" transform="rotate(-9 905.0 1513.5)"/><ellipse cx="797.2" cy="1479.4" rx="8.8" ry="5.9" fill="#867400" transform="rotate(-28 795.7 1477.2)"/><ellipse cx="785.1" cy="1510.5" rx="15.8" ry="9.0" fill="#867400" transform="rotate(15 783.6 1508.3)"/><ellipse cx="868.8" cy="1477.5" rx="12.8" ry="5.2" fill="#867400" transform="rotate(10 867.3 1475.3)"/><ellipse cx="830.5" cy="1508.3" rx="12.5" ry="8.8" fill="#867400" transform="rotate(-22 829.0 1506.1)"/><ellipse cx="809.1" cy="1490.5" rx="13.3" ry="4.8" fill="#867400" transform="rotate(28 807.6 1488.3)"/><ellipse cx="834.0" cy="1526.2" rx="12.2" ry="4.1" fill="#867400" transform="rotate(3 832.5 1524.0)"/><ellipse cx="843.4" cy="1505.2" rx="7.9" ry="4.9" fill="#867400" transform="rotate(-24 841.9 1503.0)"/><ellipse cx="811.4" cy="1483.1" rx="18.6" ry="9.1" fill="#867400" transform="rotate(30 809.9 1480.9)"/><ellipse cx="840.3" cy="1520.8" rx="10.3" ry="7.3" fill="#867400" transform="rotate(7 838.8 1518.6)"/><ellipse cx="852.0" cy="1471.7" rx="10.4" ry="6.3" fill="#867400" transform="rotate(2 850.5 1469.5)"/><ellipse cx="845.1" cy="1500.4" rx="12.1" ry="4.6" fill="#867400" transform="rotate(13 843.6 1498.2)"/><ellipse cx="837.3" cy="1508.9" rx="9.5" ry="5.3" fill="#867400" transform="rotate(-17 835.8 1506.7)"/><ellipse cx="801.2" cy="1497.4" rx="11.0" ry="7.5" fill="#867400" transform="rotate(-17 799.7 1495.2)"/><ellipse cx="904.6" cy="1473.0" rx="15.7" ry="6.4" fill="#867400" transform="rotate(1 903.1 1470.8)"/><ellipse cx="827.5" cy="1497.2" rx="12.2" ry="6.9" fill="#867400" transform="rotate(-19 826.0 1495.0)"/><ellipse cx="884.2" cy="1519.3" rx="11.6" ry="6.9" fill="#867400" transform="rotate(25 882.7 1517.1)"/><ellipse cx="816.3" cy="1490.1" rx="18.6" ry="6.0" fill="#867400" transform="rotate(-29 814.8 1487.9)"/><ellipse cx="830.7" cy="1492.1" rx="10.9" ry="8.6" fill="#867400" transform="rotate(10 829.2 1489.9)"/><ellipse cx="871.2" cy="1502.3" rx="12.1" ry="6.7" fill="#867400" transform="rotate(-18 869.7 1500.1)"/><ellipse cx="825.9" cy="1496.2" rx="10.7" ry="6.1" fill="#867400" transform="rotate(26 824.4 1494.0)"/><ellipse cx="883.8" cy="1515.0" rx="9.7" ry="7.1" fill="#867400" transform="rotate(-6 882.3 1512.8)"/><ellipse cx="784.7" cy="1507.5" rx="11.9" ry="4.7" fill="#867400" transform="rotate(-23 783.2 1505.3)"/><ellipse cx="890.7" cy="1518.2" rx="14.7" ry="9.3" fill="#867400" transform="rotate(12 889.2 1516.0)"/><ellipse cx="882.6" cy="1504.5" rx="16.2" ry="8.0" fill="#867400" transform="rotate(-0 881.1 1502.3)"/><ellipse cx="814.5" cy="1516.7" rx="16.5" ry="5.5" fill="#867400" transform="rotate(2 813.0 1514.5)"/><ellipse cx="766.5" cy="1506.9" rx="16.5" ry="9.1" fill="#867400" transform="rotate(20 765.0 1504.7)"/><ellipse cx="829.8" cy="1513.5" rx="13.0" ry="5.4" fill="#867400" transform="rotate(-4 828.3 1511.3)"/><ellipse cx="805.8" cy="1461.6" rx="14.1" ry="8.5" fill="#867400" transform="rotate(-24 804.3 1459.4)"/><ellipse cx="767.8" cy="1542.2" rx="9.1" ry="6.3" fill="#867400" transform="rotate(-26 766.3 1540.0)"/><ellipse cx="894.5" cy="1521.1" rx="18.6" ry="7.6" fill="#867400" transform="rotate(-22 893.0 1518.9)"/><ellipse cx="829.9" cy="1513.5" rx="15.0" ry="7.7" fill="#867400" transform="rotate(-4 828.4 1511.3)"/><ellipse cx="821.2" cy="1498.8" rx="13.6" ry="9.2" fill="#867400" transform="rotate(15 819.7 1496.6)"/><ellipse cx="868.1" cy="1513.3" rx="15.5" ry="5.4" fill="#867400" transform="rotate(24 866.6 1511.1)"/><ellipse cx="788.4" cy="1507.4" rx="12.0" ry="9.5" fill="#867400" transform="rotate(17 786.9 1505.2)"/><ellipse cx="820.6" cy="1495.4" rx="12.5" ry="4.2" fill="#867400" transform="rotate(6 819.1 1493.2)"/><ellipse cx="851.3" cy="1492.1" rx="13.2" ry="6.7" fill="#867400" transform="rotate(-6 849.8 1489.9)"/><ellipse cx="818.1" cy="1458.2" rx="15.4" ry="6.6" fill="#867400" transform="rotate(28 816.6 1456.0)"/><ellipse cx="810.9" cy="1527.8" rx="14.9" ry="8.2" fill="#867400" transform="rotate(21 809.4 1525.6)"/><ellipse cx="843.4" cy="1526.5" rx="12.0" ry="7.7" fill="#867400" transform="rotate(29 841.9 1524.3)"/><ellipse cx="833.3" cy="1498.0" rx="12.7" ry="7.9" fill="#867400" transform="rotate(23 831.8 1495.8)"/><ellipse cx="802.1" cy="1471.8" rx="7.7" ry="9.2" fill="#867400" transform="rotate(14 800.6 1469.6)"/><ellipse cx="782.3" cy="1474.5" rx="17.5" ry="4.6" fill="#867400" transform="rotate(19 780.8 1472.3)"/><ellipse cx="838.8" cy="1487.5" rx="15.9" ry="7.2" fill="#867400" transform="rotate(-19 837.3 1485.3)"/><ellipse cx="842.3" cy="1490.4" rx="14.4" ry="6.4" fill="#867400" transform="rotate(-15 840.8 1488.2)"/><ellipse cx="803.8" cy="1491.6" rx="9.8" ry="9.3" fill="#867400" transform="rotate(-26 802.3 1489.4)"/><ellipse cx="873.2" cy="1500.6" rx="16.9" ry="7.6" fill="#867400" transform="rotate(15 871.7 1498.4)"/><ellipse cx="789.0" cy="1502.9" rx="11.3" ry="5.5" fill="#867400" transform="rotate(0 787.5 1500.7)"/><ellipse cx="849.3" cy="1501.5" rx="16.0" ry="5.0" fill="#867400" transform="rotate(15 847.8 1499.3)"/><ellipse cx="843.4" cy="1481.2" rx="15.1" ry="8.3" fill="#867400" transform="rotate(22 841.9 1479.0)"/><ellipse cx="849.0" cy="1508.7" rx="11.8" ry="6.6" fill="#867400" transform="rotate(-12 847.5 1506.5)"/><ellipse cx="877.0" cy="1501.8" rx="18.4" ry="6.0" fill="#867400" transform="rotate(2 875.5 1499.6)"/><ellipse cx="811.1" cy="1514.1" rx="17.3" ry="5.7" fill="#867400" transform="rotate(9 809.6 1511.9)"/><ellipse cx="797.1" cy="1502.6" rx="17.8" ry="4.4" fill="#867400" transform="rotate(19 795.6 1500.4)"/><ellipse cx="821.2" cy="1526.1" rx="16.5" ry="7.6" fill="#867400" transform="rotate(-6 819.7 1523.9)"/><ellipse cx="844.1" cy="1493.1" rx="14.6" ry="6.2" fill="#867400" transform="rotate(2 842.6 1490.9)"/><ellipse cx="870.2" cy="1472.7" rx="14.6" ry="5.7" fill="#867400" transform="rotate(-16 868.7 1470.5)"/><ellipse cx="814.2" cy="1503.9" rx="10.6" ry="9.3" fill="#867400" transform="rotate(-23 812.7 1501.7)"/><ellipse cx="849.5" cy="1483.3" rx="11.6" ry="5.8" fill="#867400" transform="rotate(-25 848.0 1481.1)"/><ellipse cx="818.0" cy="1503.2" rx="12.5" ry="5.6" fill="#867400" transform="rotate(24 816.5 1501.0)"/><ellipse cx="866.8" cy="1490.5" rx="14.7" ry="9.1" fill="#867400" transform="rotate(-10 865.3 1488.3)"/><ellipse cx="855.5" cy="1508.4" rx="9.6" ry="7.7" fill="#867400" transform="rotate(-8 854.0 1506.2)"/><ellipse cx="905.0" cy="1485.3" rx="8.1" ry="4.5" fill="#C8B406" transform="rotate(20 905.0 1485.3)"/><ellipse cx="830.8" cy="1469.7" rx="11.0" ry="7.3" fill="#C8B406" transform="rotate(6 830.8 1469.7)"/><ellipse cx="818.7" cy="1492.5" rx="12.3" ry="6.2" fill="#C8B406" transform="rotate(13 818.7 1492.5)"/><ellipse cx="905.0" cy="1496.5" rx="13.6" ry="6.4" fill="#C8B406" transform="rotate(-14 905.0 1496.5)"/><ellipse cx="842.3" cy="1499.0" rx="12.7" ry="5.8" fill="#C8B406" transform="rotate(-7 842.3 1499.0)"/><ellipse cx="865.2" cy="1483.3" rx="13.8" ry="5.3" fill="#C8B406" transform="rotate(-29 865.2 1483.3)"/><ellipse cx="827.2" cy="1507.2" rx="13.2" ry="9.5" fill="#C8B406" transform="rotate(10 827.2 1507.2)"/><ellipse cx="863.0" cy="1534.8" rx="16.5" ry="8.0" fill="#C8B406" transform="rotate(24 863.0 1534.8)"/><ellipse cx="839.5" cy="1464.4" rx="11.5" ry="9.4" fill="#C8B406" transform="rotate(28 839.5 1464.4)"/><ellipse cx="863.2" cy="1525.1" rx="15.5" ry="6.5" fill="#C8B406" transform="rotate(2 863.2 1525.1)"/><ellipse cx="765.0" cy="1500.7" rx="13.1" ry="8.6" fill="#C8B406" transform="rotate(-9 765.0 1500.7)"/><ellipse cx="885.6" cy="1470.5" rx="12.7" ry="7.1" fill="#C8B406" transform="rotate(25 885.6 1470.5)"/><ellipse cx="829.0" cy="1476.3" rx="10.0" ry="5.8" fill="#C8B406" transform="rotate(12 829.0 1476.3)"/><ellipse cx="870.0" cy="1534.0" rx="10.5" ry="9.0" fill="#C8B406" transform="rotate(-11 870.0 1534.0)"/><ellipse cx="883.0" cy="1490.1" rx="13.2" ry="6.8" fill="#C8B406" transform="rotate(9 883.0 1490.1)"/><ellipse cx="811.6" cy="1489.3" rx="9.8" ry="6.8" fill="#C8B406" transform="rotate(26 811.6 1489.3)"/><ellipse cx="826.0" cy="1492.7" rx="16.7" ry="8.0" fill="#C8B406" transform="rotate(24 826.0 1492.7)"/><ellipse cx="853.9" cy="1527.4" rx="8.2" ry="7.6" fill="#C8B406" transform="rotate(-14 853.9 1527.4)"/><ellipse cx="844.5" cy="1536.5" rx="8.7" ry="6.9" fill="#C8B406" transform="rotate(21 844.5 1536.5)"/><ellipse cx="835.7" cy="1511.1" rx="17.4" ry="6.3" fill="#C8B406" transform="rotate(13 835.7 1511.1)"/><ellipse cx="864.6" cy="1501.6" rx="9.4" ry="7.7" fill="#C8B406" transform="rotate(-25 864.6 1501.6)"/><ellipse cx="841.9" cy="1496.8" rx="15.7" ry="4.1" fill="#C8B406" transform="rotate(-15 841.9 1496.8)"/><ellipse cx="842.2" cy="1487.7" rx="9.6" ry="7.8" fill="#C8B406" transform="rotate(-7 842.2 1487.7)"/><ellipse cx="905.0" cy="1513.5" rx="9.2" ry="4.2" fill="#C8B406" transform="rotate(-9 905.0 1513.5)"/><ellipse cx="795.7" cy="1477.2" rx="8.8" ry="5.9" fill="#C8B406" transform="rotate(-28 795.7 1477.2)"/><ellipse cx="783.6" cy="1508.3" rx="15.8" ry="9.0" fill="#C8B406" transform="rotate(15 783.6 1508.3)"/><ellipse cx="867.3" cy="1475.3" rx="12.8" ry="5.2" fill="#C8B406" transform="rotate(10 867.3 1475.3)"/><ellipse cx="829.0" cy="1506.1" rx="12.5" ry="8.8" fill="#C8B406" transform="rotate(-22 829.0 1506.1)"/><ellipse cx="807.6" cy="1488.3" rx="13.3" ry="4.8" fill="#C8B406" transform="rotate(28 807.6 1488.3)"/><ellipse cx="832.5" cy="1524.0" rx="12.2" ry="4.1" fill="#C8B406" transform="rotate(3 832.5 1524.0)"/><ellipse cx="841.9" cy="1503.0" rx="7.9" ry="4.9" fill="#C8B406" transform="rotate(-24 841.9 1503.0)"/><ellipse cx="809.9" cy="1480.9" rx="18.6" ry="9.1" fill="#C8B406" transform="rotate(30 809.9 1480.9)"/><ellipse cx="838.8" cy="1518.6" rx="10.3" ry="7.3" fill="#C8B406" transform="rotate(7 838.8 1518.6)"/><ellipse cx="850.5" cy="1469.5" rx="10.4" ry="6.3" fill="#C8B406" transform="rotate(2 850.5 1469.5)"/><ellipse cx="843.6" cy="1498.2" rx="12.1" ry="4.6" fill="#C8B406" transform="rotate(13 843.6 1498.2)"/><ellipse cx="835.8" cy="1506.7" rx="9.5" ry="5.3" fill="#C8B406" transform="rotate(-17 835.8 1506.7)"/><ellipse cx="799.7" cy="1495.2" rx="11.0" ry="7.5" fill="#C8B406" transform="rotate(-17 799.7 1495.2)"/><ellipse cx="903.1" cy="1470.8" rx="15.7" ry="6.4" fill="#C8B406" transform="rotate(1 903.1 1470.8)"/><ellipse cx="826.0" cy="1495.0" rx="12.2" ry="6.9" fill="#C8B406" transform="rotate(-19 826.0 1495.0)"/><ellipse cx="882.7" cy="1517.1" rx="11.6" ry="6.9" fill="#C8B406" transform="rotate(25 882.7 1517.1)"/><ellipse cx="814.8" cy="1487.9" rx="18.6" ry="6.0" fill="#C8B406" transform="rotate(-29 814.8 1487.9)"/><ellipse cx="829.2" cy="1489.9" rx="10.9" ry="8.6" fill="#C8B406" transform="rotate(10 829.2 1489.9)"/><ellipse cx="869.7" cy="1500.1" rx="12.1" ry="6.7" fill="#C8B406" transform="rotate(-18 869.7 1500.1)"/><ellipse cx="824.4" cy="1494.0" rx="10.7" ry="6.1" fill="#C8B406" transform="rotate(26 824.4 1494.0)"/><ellipse cx="882.3" cy="1512.8" rx="9.7" ry="7.1" fill="#C8B406" transform="rotate(-6 882.3 1512.8)"/><ellipse cx="783.2" cy="1505.3" rx="11.9" ry="4.7" fill="#C8B406" transform="rotate(-23 783.2 1505.3)"/><ellipse cx="889.2" cy="1516.0" rx="14.7" ry="9.3" fill="#C8B406" transform="rotate(12 889.2 1516.0)"/><ellipse cx="881.1" cy="1502.3" rx="16.2" ry="8.0" fill="#C8B406" transform="rotate(-0 881.1 1502.3)"/><ellipse cx="813.0" cy="1514.5" rx="16.5" ry="5.5" fill="#C8B406" transform="rotate(2 813.0 1514.5)"/><ellipse cx="765.0" cy="1504.7" rx="16.5" ry="9.1" fill="#C8B406" transform="rotate(20 765.0 1504.7)"/><ellipse cx="828.3" cy="1511.3" rx="13.0" ry="5.4" fill="#C8B406" transform="rotate(-4 828.3 1511.3)"/><ellipse cx="804.3" cy="1459.4" rx="14.1" ry="8.5" fill="#C8B406" transform="rotate(-24 804.3 1459.4)"/><ellipse cx="766.3" cy="1540.0" rx="9.1" ry="6.3" fill="#C8B406" transform="rotate(-26 766.3 1540.0)"/><ellipse cx="893.0" cy="1518.9" rx="18.6" ry="7.6" fill="#C8B406" transform="rotate(-22 893.0 1518.9)"/><ellipse cx="828.4" cy="1511.3" rx="15.0" ry="7.7" fill="#C8B406" transform="rotate(-4 828.4 1511.3)"/><ellipse cx="819.7" cy="1496.6" rx="13.6" ry="9.2" fill="#C8B406" transform="rotate(15 819.7 1496.6)"/><ellipse cx="866.6" cy="1511.1" rx="15.5" ry="5.4" fill="#C8B406" transform="rotate(24 866.6 1511.1)"/><ellipse cx="786.9" cy="1505.2" rx="12.0" ry="9.5" fill="#C8B406" transform="rotate(17 786.9 1505.2)"/><ellipse cx="819.1" cy="1493.2" rx="12.5" ry="4.2" fill="#C8B406" transform="rotate(6 819.1 1493.2)"/><ellipse cx="849.8" cy="1489.9" rx="13.2" ry="6.7" fill="#C8B406" transform="rotate(-6 849.8 1489.9)"/><ellipse cx="816.6" cy="1456.0" rx="15.4" ry="6.6" fill="#C8B406" transform="rotate(28 816.6 1456.0)"/><ellipse cx="809.4" cy="1525.6" rx="14.9" ry="8.2" fill="#C8B406" transform="rotate(21 809.4 1525.6)"/><ellipse cx="841.9" cy="1524.3" rx="12.0" ry="7.7" fill="#C8B406" transform="rotate(29 841.9 1524.3)"/><ellipse cx="831.8" cy="1495.8" rx="12.7" ry="7.9" fill="#C8B406" transform="rotate(23 831.8 1495.8)"/><ellipse cx="800.6" cy="1469.6" rx="7.7" ry="9.2" fill="#C8B406" transform="rotate(14 800.6 1469.6)"/><ellipse cx="780.8" cy="1472.3" rx="17.5" ry="4.6" fill="#C8B406" transform="rotate(19 780.8 1472.3)"/><ellipse cx="837.3" cy="1485.3" rx="15.9" ry="7.2" fill="#C8B406" transform="rotate(-19 837.3 1485.3)"/><ellipse cx="840.8" cy="1488.2" rx="14.4" ry="6.4" fill="#C8B406" transform="rotate(-15 840.8 1488.2)"/><ellipse cx="802.3" cy="1489.4" rx="9.8" ry="9.3" fill="#C8B406" transform="rotate(-26 802.3 1489.4)"/><ellipse cx="871.7" cy="1498.4" rx="16.9" ry="7.6" fill="#C8B406" transform="rotate(15 871.7 1498.4)"/><ellipse cx="787.5" cy="1500.7" rx="11.3" ry="5.5" fill="#C8B406" transform="rotate(0 787.5 1500.7)"/><ellipse cx="847.8" cy="1499.3" rx="16.0" ry="5.0" fill="#C8B406" transform="rotate(15 847.8 1499.3)"/><ellipse cx="841.9" cy="1479.0" rx="15.1" ry="8.3" fill="#C8B406" transform="rotate(22 841.9 1479.0)"/><ellipse cx="847.5" cy="1506.5" rx="11.8" ry="6.6" fill="#C8B406" transform="rotate(-12 847.5 1506.5)"/><ellipse cx="875.5" cy="1499.6" rx="18.4" ry="6.0" fill="#C8B406" transform="rotate(2 875.5 1499.6)"/><ellipse cx="809.6" cy="1511.9" rx="17.3" ry="5.7" fill="#C8B406" transform="rotate(9 809.6 1511.9)"/><ellipse cx="795.6" cy="1500.4" rx="17.8" ry="4.4" fill="#C8B406" transform="rotate(19 795.6 1500.4)"/><ellipse cx="819.7" cy="1523.9" rx="16.5" ry="7.6" fill="#C8B406" transform="rotate(-6 819.7 1523.9)"/><ellipse cx="842.6" cy="1490.9" rx="14.6" ry="6.2" fill="#C8B406" transform="rotate(2 842.6 1490.9)"/><ellipse cx="868.7" cy="1470.5" rx="14.6" ry="5.7" fill="#C8B406" transform="rotate(-16 868.7 1470.5)"/><ellipse cx="812.7" cy="1501.7" rx="10.6" ry="9.3" fill="#C8B406" transform="rotate(-23 812.7 1501.7)"/><ellipse cx="848.0" cy="1481.1" rx="11.6" ry="5.8" fill="#C8B406" transform="rotate(-25 848.0 1481.1)"/><ellipse cx="816.5" cy="1501.0" rx="12.5" ry="5.6" fill="#C8B406" transform="rotate(24 816.5 1501.0)"/><ellipse cx="865.3" cy="1488.3" rx="14.7" ry="9.1" fill="#C8B406" transform="rotate(-10 865.3 1488.3)"/><ellipse cx="854.0" cy="1506.2" rx="9.6" ry="7.7" fill="#C8B406" transform="rotate(-8 854.0 1506.2)"/><ellipse cx="907.0" cy="1487.7" rx="3.4" ry="1.9" fill="#9E8A00" transform="rotate(20 905.0 1485.3)"/><ellipse cx="820.7" cy="1494.9" rx="5.2" ry="2.6" fill="#9E8A00" transform="rotate(13 818.7 1492.5)"/><ellipse cx="844.3" cy="1501.4" rx="5.3" ry="2.4" fill="#9E8A00" transform="rotate(-7 842.3 1499.0)"/><ellipse cx="829.2" cy="1509.6" rx="5.6" ry="4.0" fill="#9E8A00" transform="rotate(10 827.2 1507.2)"/><ellipse cx="841.5" cy="1466.8" rx="4.8" ry="3.9" fill="#9E8A00" transform="rotate(28 839.5 1464.4)"/><ellipse cx="767.0" cy="1503.1" rx="5.5" ry="3.6" fill="#9E8A00" transform="rotate(-9 765.0 1500.7)"/><ellipse cx="831.0" cy="1478.7" rx="4.2" ry="2.4" fill="#9E8A00" transform="rotate(12 829.0 1476.3)"/><ellipse cx="885.0" cy="1492.5" rx="5.5" ry="2.9" fill="#9E8A00" transform="rotate(9 883.0 1490.1)"/><ellipse cx="828.0" cy="1495.1" rx="7.0" ry="3.4" fill="#9E8A00" transform="rotate(24 826.0 1492.7)"/><ellipse cx="846.5" cy="1538.9" rx="3.7" ry="2.9" fill="#9E8A00" transform="rotate(21 844.5 1536.5)"/><ellipse cx="866.6" cy="1504.0" rx="4.0" ry="3.2" fill="#9E8A00" transform="rotate(-25 864.6 1501.6)"/><ellipse cx="844.2" cy="1490.1" rx="4.0" ry="3.3" fill="#9E8A00" transform="rotate(-7 842.2 1487.7)"/><ellipse cx="797.7" cy="1479.6" rx="3.7" ry="2.5" fill="#9E8A00" transform="rotate(-28 795.7 1477.2)"/><ellipse cx="869.3" cy="1477.7" rx="5.4" ry="2.2" fill="#9E8A00" transform="rotate(10 867.3 1475.3)"/><ellipse cx="809.6" cy="1490.7" rx="5.6" ry="2.0" fill="#9E8A00" transform="rotate(28 807.6 1488.3)"/><ellipse cx="843.9" cy="1505.4" rx="3.3" ry="2.1" fill="#9E8A00" transform="rotate(-24 841.9 1503.0)"/><ellipse cx="840.8" cy="1521.0" rx="4.3" ry="3.0" fill="#9E8A00" transform="rotate(7 838.8 1518.6)"/><ellipse cx="845.6" cy="1500.6" rx="5.1" ry="1.9" fill="#9E8A00" transform="rotate(13 843.6 1498.2)"/><ellipse cx="801.7" cy="1497.6" rx="4.6" ry="3.2" fill="#9E8A00" transform="rotate(-17 799.7 1495.2)"/><ellipse cx="828.0" cy="1497.4" rx="5.1" ry="2.9" fill="#9E8A00" transform="rotate(-19 826.0 1495.0)"/><ellipse cx="816.8" cy="1490.3" rx="7.8" ry="2.5" fill="#9E8A00" transform="rotate(-29 814.8 1487.9)"/><ellipse cx="871.7" cy="1502.5" rx="5.1" ry="2.8" fill="#9E8A00" transform="rotate(-18 869.7 1500.1)"/><ellipse cx="884.3" cy="1515.2" rx="4.1" ry="3.0" fill="#9E8A00" transform="rotate(-6 882.3 1512.8)"/><ellipse cx="891.2" cy="1518.4" rx="6.2" ry="3.9" fill="#9E8A00" transform="rotate(12 889.2 1516.0)"/><ellipse cx="815.0" cy="1516.9" rx="6.9" ry="2.3" fill="#9E8A00" transform="rotate(2 813.0 1514.5)"/><ellipse cx="830.3" cy="1513.7" rx="5.5" ry="2.3" fill="#9E8A00" transform="rotate(-4 828.3 1511.3)"/><ellipse cx="768.3" cy="1542.4" rx="3.8" ry="2.6" fill="#9E8A00" transform="rotate(-26 766.3 1540.0)"/><ellipse cx="830.4" cy="1513.7" rx="6.3" ry="3.3" fill="#9E8A00" transform="rotate(-4 828.4 1511.3)"/><ellipse cx="868.6" cy="1513.5" rx="6.5" ry="2.3" fill="#9E8A00" transform="rotate(24 866.6 1511.1)"/><ellipse cx="821.1" cy="1495.6" rx="5.2" ry="1.7" fill="#9E8A00" transform="rotate(6 819.1 1493.2)"/><ellipse cx="818.6" cy="1458.4" rx="6.5" ry="2.8" fill="#9E8A00" transform="rotate(28 816.6 1456.0)"/><ellipse cx="843.9" cy="1526.7" rx="5.1" ry="3.2" fill="#9E8A00" transform="rotate(29 841.9 1524.3)"/><ellipse cx="802.6" cy="1472.0" rx="3.2" ry="3.9" fill="#9E8A00" transform="rotate(14 800.6 1469.6)"/><ellipse cx="839.3" cy="1487.7" rx="6.7" ry="3.0" fill="#9E8A00" transform="rotate(-19 837.3 1485.3)"/><ellipse cx="804.3" cy="1491.8" rx="4.1" ry="3.9" fill="#9E8A00" transform="rotate(-26 802.3 1489.4)"/><ellipse cx="789.5" cy="1503.1" rx="4.7" ry="2.3" fill="#9E8A00" transform="rotate(0 787.5 1500.7)"/><ellipse cx="843.9" cy="1481.4" rx="6.3" ry="3.5" fill="#9E8A00" transform="rotate(22 841.9 1479.0)"/><ellipse cx="877.5" cy="1502.0" rx="7.7" ry="2.5" fill="#9E8A00" transform="rotate(2 875.5 1499.6)"/><ellipse cx="797.6" cy="1502.8" rx="7.5" ry="1.9" fill="#9E8A00" transform="rotate(19 795.6 1500.4)"/><ellipse cx="844.6" cy="1493.3" rx="6.1" ry="2.6" fill="#9E8A00" transform="rotate(2 842.6 1490.9)"/><ellipse cx="814.7" cy="1504.1" rx="4.5" ry="3.9" fill="#9E8A00" transform="rotate(-23 812.7 1501.7)"/><ellipse cx="818.5" cy="1503.4" rx="5.2" ry="2.4" fill="#9E8A00" transform="rotate(24 816.5 1501.0)"/><ellipse cx="856.0" cy="1508.6" rx="4.0" ry="3.2" fill="#9E8A00" transform="rotate(-8 854.0 1506.2)"/><ellipse cx="903.4" cy="1483.3" rx="3.7" ry="2.0" fill="#EADE24" transform="rotate(20 905.0 1485.3)"/><ellipse cx="903.4" cy="1494.5" rx="6.1" ry="2.9" fill="#EADE24" transform="rotate(-14 905.0 1496.5)"/><ellipse cx="825.6" cy="1505.2" rx="6.0" ry="4.3" fill="#EADE24" transform="rotate(10 827.2 1507.2)"/><ellipse cx="861.6" cy="1523.1" rx="7.0" ry="2.9" fill="#EADE24" transform="rotate(2 863.2 1525.1)"/><ellipse cx="827.4" cy="1474.3" rx="4.5" ry="2.6" fill="#EADE24" transform="rotate(12 829.0 1476.3)"/><ellipse cx="810.0" cy="1487.3" rx="4.4" ry="3.1" fill="#EADE24" transform="rotate(26 811.6 1489.3)"/><ellipse cx="842.9" cy="1534.5" rx="3.9" ry="3.1" fill="#EADE24" transform="rotate(21 844.5 1536.5)"/><ellipse cx="840.3" cy="1494.8" rx="7.1" ry="1.9" fill="#EADE24" transform="rotate(-15 841.9 1496.8)"/><ellipse cx="794.1" cy="1475.2" rx="3.9" ry="2.6" fill="#EADE24" transform="rotate(-28 795.7 1477.2)"/><ellipse cx="827.4" cy="1504.1" rx="5.6" ry="4.0" fill="#EADE24" transform="rotate(-22 829.0 1506.1)"/><ellipse cx="840.3" cy="1501.0" rx="3.5" ry="2.2" fill="#EADE24" transform="rotate(-24 841.9 1503.0)"/><ellipse cx="848.9" cy="1467.5" rx="4.7" ry="2.8" fill="#EADE24" transform="rotate(2 850.5 1469.5)"/><ellipse cx="798.1" cy="1493.2" rx="4.9" ry="3.4" fill="#EADE24" transform="rotate(-17 799.7 1495.2)"/><ellipse cx="881.1" cy="1515.1" rx="5.2" ry="3.1" fill="#EADE24" transform="rotate(25 882.7 1517.1)"/><ellipse cx="868.1" cy="1498.1" rx="5.5" ry="3.0" fill="#EADE24" transform="rotate(-18 869.7 1500.1)"/><ellipse cx="781.6" cy="1503.3" rx="5.4" ry="2.1" fill="#EADE24" transform="rotate(-23 783.2 1505.3)"/><ellipse cx="811.4" cy="1512.5" rx="7.4" ry="2.5" fill="#EADE24" transform="rotate(2 813.0 1514.5)"/><ellipse cx="802.7" cy="1457.4" rx="6.3" ry="3.8" fill="#EADE24" transform="rotate(-24 804.3 1459.4)"/><ellipse cx="826.8" cy="1509.3" rx="6.8" ry="3.5" fill="#EADE24" transform="rotate(-4 828.4 1511.3)"/><ellipse cx="785.3" cy="1503.2" rx="5.4" ry="4.3" fill="#EADE24" transform="rotate(17 786.9 1505.2)"/><ellipse cx="815.0" cy="1454.0" rx="6.9" ry="3.0" fill="#EADE24" transform="rotate(28 816.6 1456.0)"/><ellipse cx="830.2" cy="1493.8" rx="5.7" ry="3.6" fill="#EADE24" transform="rotate(23 831.8 1495.8)"/><ellipse cx="835.7" cy="1483.3" rx="7.1" ry="3.3" fill="#EADE24" transform="rotate(-19 837.3 1485.3)"/><ellipse cx="870.1" cy="1496.4" rx="7.6" ry="3.4" fill="#EADE24" transform="rotate(15 871.7 1498.4)"/><ellipse cx="840.3" cy="1477.0" rx="6.8" ry="3.7" fill="#EADE24" transform="rotate(22 841.9 1479.0)"/><ellipse cx="808.0" cy="1509.9" rx="7.8" ry="2.6" fill="#EADE24" transform="rotate(9 809.6 1511.9)"/><ellipse cx="841.0" cy="1488.9" rx="6.6" ry="2.8" fill="#EADE24" transform="rotate(2 842.6 1490.9)"/><ellipse cx="846.4" cy="1479.1" rx="5.2" ry="2.6" fill="#EADE24" transform="rotate(-25 848.0 1481.1)"/><ellipse cx="852.4" cy="1504.2" rx="4.3" ry="3.5" fill="#EADE24" transform="rotate(-8 854.0 1506.2)"/>
<ellipse cx="821.2" cy="1557.4" rx="9.6" ry="9.0" fill="#867400" transform="rotate(-0 819.7 1555.2)"/><ellipse cx="812.4" cy="1552.1" rx="11.6" ry="8.6" fill="#867400" transform="rotate(1 810.9 1549.9)"/><ellipse cx="837.8" cy="1550.4" rx="10.3" ry="4.0" fill="#867400" transform="rotate(15 836.3 1548.2)"/><ellipse cx="814.7" cy="1555.9" rx="13.8" ry="8.6" fill="#867400" transform="rotate(20 813.2 1553.7)"/><ellipse cx="821.5" cy="1553.9" rx="7.4" ry="4.7" fill="#867400" transform="rotate(29 820.0 1551.7)"/><ellipse cx="819.1" cy="1557.8" rx="6.8" ry="4.3" fill="#867400" transform="rotate(-28 817.6 1555.6)"/><ellipse cx="809.0" cy="1558.4" rx="9.7" ry="9.1" fill="#867400" transform="rotate(-20 807.5 1556.2)"/><ellipse cx="821.6" cy="1544.9" rx="12.2" ry="7.2" fill="#867400" transform="rotate(16 820.1 1542.7)"/><ellipse cx="805.8" cy="1552.6" rx="9.9" ry="5.3" fill="#867400" transform="rotate(-6 804.3 1550.4)"/><ellipse cx="826.6" cy="1554.6" rx="7.3" ry="6.6" fill="#867400" transform="rotate(19 825.1 1552.4)"/><ellipse cx="795.2" cy="1558.8" rx="7.5" ry="4.3" fill="#867400" transform="rotate(10 793.7 1556.6)"/><ellipse cx="823.6" cy="1556.9" rx="10.4" ry="5.1" fill="#867400" transform="rotate(-28 822.1 1554.7)"/><ellipse cx="841.0" cy="1555.9" rx="13.4" ry="9.2" fill="#867400" transform="rotate(-0 839.5 1553.7)"/><ellipse cx="837.4" cy="1551.4" rx="12.7" ry="6.9" fill="#867400" transform="rotate(1 835.9 1549.2)"/><ellipse cx="815.4" cy="1561.7" rx="13.8" ry="5.1" fill="#867400" transform="rotate(21 813.9 1559.5)"/><ellipse cx="819.7" cy="1555.2" rx="9.6" ry="9.0" fill="#C8B406" transform="rotate(-0 819.7 1555.2)"/><ellipse cx="810.9" cy="1549.9" rx="11.6" ry="8.6" fill="#C8B406" transform="rotate(1 810.9 1549.9)"/><ellipse cx="836.3" cy="1548.2" rx="10.3" ry="4.0" fill="#C8B406" transform="rotate(15 836.3 1548.2)"/><ellipse cx="813.2" cy="1553.7" rx="13.8" ry="8.6" fill="#C8B406" transform="rotate(20 813.2 1553.7)"/><ellipse cx="820.0" cy="1551.7" rx="7.4" ry="4.7" fill="#C8B406" transform="rotate(29 820.0 1551.7)"/><ellipse cx="817.6" cy="1555.6" rx="6.8" ry="4.3" fill="#C8B406" transform="rotate(-28 817.6 1555.6)"/><ellipse cx="807.5" cy="1556.2" rx="9.7" ry="9.1" fill="#C8B406" transform="rotate(-20 807.5 1556.2)"/><ellipse cx="820.1" cy="1542.7" rx="12.2" ry="7.2" fill="#C8B406" transform="rotate(16 820.1 1542.7)"/><ellipse cx="804.3" cy="1550.4" rx="9.9" ry="5.3" fill="#C8B406" transform="rotate(-6 804.3 1550.4)"/><ellipse cx="825.1" cy="1552.4" rx="7.3" ry="6.6" fill="#C8B406" transform="rotate(19 825.1 1552.4)"/><ellipse cx="793.7" cy="1556.6" rx="7.5" ry="4.3" fill="#C8B406" transform="rotate(10 793.7 1556.6)"/><ellipse cx="822.1" cy="1554.7" rx="10.4" ry="5.1" fill="#C8B406" transform="rotate(-28 822.1 1554.7)"/><ellipse cx="839.5" cy="1553.7" rx="13.4" ry="9.2" fill="#C8B406" transform="rotate(-0 839.5 1553.7)"/><ellipse cx="835.9" cy="1549.2" rx="12.7" ry="6.9" fill="#C8B406" transform="rotate(1 835.9 1549.2)"/><ellipse cx="813.9" cy="1559.5" rx="13.8" ry="5.1" fill="#C8B406" transform="rotate(21 813.9 1559.5)"/><ellipse cx="821.7" cy="1557.6" rx="4.0" ry="3.8" fill="#9E8A00" transform="rotate(-0 819.7 1555.2)"/><ellipse cx="838.3" cy="1550.6" rx="4.3" ry="1.7" fill="#9E8A00" transform="rotate(15 836.3 1548.2)"/><ellipse cx="822.0" cy="1554.1" rx="3.1" ry="2.0" fill="#9E8A00" transform="rotate(29 820.0 1551.7)"/><ellipse cx="809.5" cy="1558.6" rx="4.1" ry="3.8" fill="#9E8A00" transform="rotate(-20 807.5 1556.2)"/><ellipse cx="806.3" cy="1552.8" rx="4.1" ry="2.2" fill="#9E8A00" transform="rotate(-6 804.3 1550.4)"/><ellipse cx="795.7" cy="1559.0" rx="3.1" ry="1.8" fill="#9E8A00" transform="rotate(10 793.7 1556.6)"/><ellipse cx="841.5" cy="1556.1" rx="5.6" ry="3.9" fill="#9E8A00" transform="rotate(-0 839.5 1553.7)"/><ellipse cx="815.9" cy="1561.9" rx="5.8" ry="2.1" fill="#9E8A00" transform="rotate(21 813.9 1559.5)"/><ellipse cx="818.1" cy="1553.2" rx="4.3" ry="4.0" fill="#EADE24" transform="rotate(-0 819.7 1555.2)"/><ellipse cx="811.6" cy="1551.7" rx="6.2" ry="3.9" fill="#EADE24" transform="rotate(20 813.2 1553.7)"/><ellipse cx="805.9" cy="1554.2" rx="4.3" ry="4.1" fill="#EADE24" transform="rotate(-20 807.5 1556.2)"/><ellipse cx="823.5" cy="1550.4" rx="3.3" ry="3.0" fill="#EADE24" transform="rotate(19 825.1 1552.4)"/><ellipse cx="837.9" cy="1551.7" rx="6.0" ry="4.2" fill="#EADE24" transform="rotate(-0 839.5 1553.7)"/>
<ellipse cx="915" cy="1490" rx="14" ry="6.5" fill="#DCC80C"/>
<ellipse cx="922.9" cy="1502.0" rx="2.1" ry="4.0" fill="#CDB90C" transform="rotate(-25 922.9 1502.0)"/><ellipse cx="881.0" cy="1527.6" rx="3.2" ry="3.7" fill="#CDB90C" transform="rotate(-21 881.0 1527.6)"/><ellipse cx="923.0" cy="1511.0" rx="4.1" ry="3.8" fill="#CDB90C" transform="rotate(15 923.0 1511.0)"/><ellipse cx="921.2" cy="1530.4" rx="2.2" ry="3.7" fill="#CDB90C" transform="rotate(7 921.2 1530.4)"/><ellipse cx="890.5" cy="1504.5" rx="5.0" ry="3.0" fill="#CDB90C" transform="rotate(35 890.5 1504.5)"/>
<ellipse cx="955.6" cy="1515.1" rx="4.3" ry="3.9" fill="#CDB90C" transform="rotate(-18 955.6 1515.1)"/><ellipse cx="959.1" cy="1516.7" rx="4.3" ry="2.3" fill="#CDB90C" transform="rotate(15 959.1 1516.7)"/><ellipse cx="962.5" cy="1518.9" rx="2.4" ry="2.1" fill="#CDB90C" transform="rotate(32 962.5 1518.9)"/><ellipse cx="961.6" cy="1493.0" rx="4.8" ry="3.1" fill="#CDB90C" transform="rotate(-28 961.6 1493.0)"/>
<ellipse cx="1054.0" cy="1523.2" rx="10.7" ry="7.3" fill="#867400" transform="rotate(8 1052.5 1521.0)"/><ellipse cx="1055.4" cy="1503.3" rx="15.6" ry="5.4" fill="#867400" transform="rotate(-16 1053.9 1501.1)"/><ellipse cx="1081.0" cy="1501.7" rx="15.6" ry="6.6" fill="#867400" transform="rotate(8 1079.5 1499.5)"/><ellipse cx="1073.2" cy="1521.6" rx="15.9" ry="6.9" fill="#867400" transform="rotate(14 1071.7 1519.4)"/><ellipse cx="1047.0" cy="1496.8" rx="14.7" ry="7.3" fill="#867400" transform="rotate(-12 1045.5 1494.6)"/><ellipse cx="1102.9" cy="1508.7" rx="11.8" ry="8.0" fill="#867400" transform="rotate(23 1101.4 1506.5)"/><ellipse cx="1038.3" cy="1465.3" rx="11.0" ry="8.4" fill="#867400" transform="rotate(-3 1036.8 1463.1)"/><ellipse cx="1100.9" cy="1488.6" rx="7.9" ry="4.7" fill="#867400" transform="rotate(-17 1099.4 1486.4)"/><ellipse cx="1078.8" cy="1498.3" rx="13.4" ry="5.7" fill="#867400" transform="rotate(0 1077.3 1496.1)"/><ellipse cx="1033.2" cy="1512.5" rx="13.0" ry="7.2" fill="#867400" transform="rotate(24 1031.7 1510.3)"/><ellipse cx="1026.6" cy="1467.0" rx="15.8" ry="9.5" fill="#867400" transform="rotate(10 1025.1 1464.8)"/><ellipse cx="1078.4" cy="1530.7" rx="16.9" ry="9.0" fill="#867400" transform="rotate(4 1076.9 1528.5)"/><ellipse cx="1047.4" cy="1490.9" rx="15.5" ry="7.2" fill="#867400" transform="rotate(-13 1045.9 1488.7)"/><ellipse cx="1098.7" cy="1515.0" rx="17.1" ry="4.5" fill="#867400" transform="rotate(18 1097.2 1512.8)"/><ellipse cx="1038.9" cy="1507.3" rx="9.9" ry="8.2" fill="#867400" transform="rotate(22 1037.4 1505.1)"/><ellipse cx="1086.2" cy="1508.6" rx="7.4" ry="8.0" fill="#867400" transform="rotate(-10 1084.7 1506.4)"/><ellipse cx="1105.3" cy="1470.1" rx="12.1" ry="9.5" fill="#867400" transform="rotate(-11 1103.8 1467.9)"/><ellipse cx="1082.8" cy="1512.8" rx="7.2" ry="5.1" fill="#867400" transform="rotate(-6 1081.3 1510.6)"/><ellipse cx="1039.8" cy="1495.9" rx="7.3" ry="8.8" fill="#867400" transform="rotate(-11 1038.3 1493.7)"/><ellipse cx="1105.3" cy="1493.0" rx="10.8" ry="6.5" fill="#867400" transform="rotate(1 1103.8 1490.8)"/><ellipse cx="1029.7" cy="1484.4" rx="12.7" ry="7.4" fill="#867400" transform="rotate(26 1028.2 1482.2)"/><ellipse cx="1023.8" cy="1501.4" rx="14.4" ry="5.3" fill="#867400" transform="rotate(-12 1022.3 1499.2)"/><ellipse cx="1082.9" cy="1499.4" rx="12.6" ry="4.1" fill="#867400" transform="rotate(-5 1081.4 1497.2)"/><ellipse cx="1046.9" cy="1500.6" rx="13.3" ry="7.5" fill="#867400" transform="rotate(-26 1045.4 1498.4)"/><ellipse cx="1031.1" cy="1488.7" rx="13.9" ry="5.9" fill="#867400" transform="rotate(12 1029.6 1486.5)"/><ellipse cx="1051.1" cy="1498.6" rx="7.5" ry="7.7" fill="#867400" transform="rotate(28 1049.6 1496.4)"/><ellipse cx="1051.3" cy="1520.8" rx="13.0" ry="5.8" fill="#867400" transform="rotate(-8 1049.8 1518.6)"/><ellipse cx="1041.9" cy="1517.1" rx="13.1" ry="5.7" fill="#867400" transform="rotate(-7 1040.4 1514.9)"/><ellipse cx="1052.4" cy="1498.3" rx="12.8" ry="8.0" fill="#867400" transform="rotate(-11 1050.9 1496.1)"/><ellipse cx="1059.6" cy="1532.1" rx="9.4" ry="5.0" fill="#867400" transform="rotate(-4 1058.1 1529.9)"/><ellipse cx="1047.6" cy="1494.8" rx="10.2" ry="5.8" fill="#867400" transform="rotate(20 1046.1 1492.6)"/><ellipse cx="1003.9" cy="1514.7" rx="8.7" ry="5.9" fill="#867400" transform="rotate(9 1002.4 1512.5)"/><ellipse cx="1073.0" cy="1490.0" rx="9.2" ry="4.7" fill="#867400" transform="rotate(2 1071.5 1487.8)"/><ellipse cx="1068.7" cy="1530.6" rx="15.6" ry="5.0" fill="#867400" transform="rotate(-13 1067.2 1528.4)"/><ellipse cx="1064.7" cy="1479.6" rx="15.2" ry="5.9" fill="#867400" transform="rotate(-22 1063.2 1477.4)"/><ellipse cx="1039.4" cy="1531.1" rx="9.7" ry="5.9" fill="#867400" transform="rotate(-5 1037.9 1528.9)"/><ellipse cx="1028.0" cy="1510.5" rx="16.4" ry="4.9" fill="#867400" transform="rotate(-30 1026.5 1508.3)"/><ellipse cx="1101.9" cy="1490.1" rx="17.1" ry="6.4" fill="#867400" transform="rotate(27 1100.4 1487.9)"/><ellipse cx="1068.1" cy="1496.9" rx="14.6" ry="8.6" fill="#867400" transform="rotate(10 1066.6 1494.7)"/><ellipse cx="1030.1" cy="1500.5" rx="10.4" ry="5.3" fill="#867400" transform="rotate(-26 1028.6 1498.3)"/><ellipse cx="1033.3" cy="1494.9" rx="15.3" ry="4.2" fill="#867400" transform="rotate(24 1031.8 1492.7)"/><ellipse cx="1031.0" cy="1466.4" rx="16.2" ry="8.9" fill="#867400" transform="rotate(5 1029.5 1464.2)"/><ellipse cx="1094.6" cy="1504.5" rx="8.7" ry="5.6" fill="#867400" transform="rotate(10 1093.1 1502.3)"/><ellipse cx="1024.8" cy="1499.5" rx="16.6" ry="7.4" fill="#867400" transform="rotate(-10 1023.3 1497.3)"/><ellipse cx="1050.7" cy="1535.6" rx="11.8" ry="8.3" fill="#867400" transform="rotate(-9 1049.2 1533.4)"/><ellipse cx="1062.0" cy="1521.9" rx="15.4" ry="4.9" fill="#867400" transform="rotate(18 1060.5 1519.7)"/><ellipse cx="1093.2" cy="1487.8" rx="15.4" ry="4.0" fill="#867400" transform="rotate(8 1091.7 1485.6)"/><ellipse cx="1056.9" cy="1498.1" rx="9.7" ry="5.5" fill="#867400" transform="rotate(2 1055.4 1495.9)"/><ellipse cx="1025.3" cy="1511.1" rx="14.9" ry="4.0" fill="#867400" transform="rotate(-27 1023.8 1508.9)"/><ellipse cx="1060.9" cy="1508.4" rx="7.6" ry="9.4" fill="#867400" transform="rotate(21 1059.4 1506.2)"/><ellipse cx="1078.0" cy="1512.4" rx="10.2" ry="5.7" fill="#867400" transform="rotate(-9 1076.5 1510.2)"/><ellipse cx="1030.5" cy="1484.4" rx="10.6" ry="5.1" fill="#867400" transform="rotate(-10 1029.0 1482.2)"/><ellipse cx="1075.2" cy="1517.2" rx="14.3" ry="6.1" fill="#867400" transform="rotate(-25 1073.7 1515.0)"/><ellipse cx="1062.5" cy="1516.8" rx="13.2" ry="8.3" fill="#867400" transform="rotate(-7 1061.0 1514.6)"/><ellipse cx="1063.0" cy="1479.9" rx="11.4" ry="6.0" fill="#867400" transform="rotate(-0 1061.5 1477.7)"/><ellipse cx="1043.5" cy="1485.4" rx="14.1" ry="6.5" fill="#867400" transform="rotate(-15 1042.0 1483.2)"/><ellipse cx="1012.2" cy="1496.4" rx="7.6" ry="6.3" fill="#867400" transform="rotate(-4 1010.7 1494.2)"/><ellipse cx="1096.1" cy="1475.1" rx="10.8" ry="8.9" fill="#867400" transform="rotate(17 1094.6 1472.9)"/><ellipse cx="1049.3" cy="1520.9" rx="8.2" ry="8.5" fill="#867400" transform="rotate(10 1047.8 1518.7)"/><ellipse cx="1086.7" cy="1482.8" rx="13.8" ry="8.0" fill="#867400" transform="rotate(4 1085.2 1480.6)"/><ellipse cx="1079.2" cy="1515.7" rx="7.0" ry="4.8" fill="#867400" transform="rotate(16 1077.7 1513.5)"/><ellipse cx="1062.5" cy="1504.2" rx="7.9" ry="8.8" fill="#867400" transform="rotate(-19 1061.0 1502.0)"/><ellipse cx="1052.5" cy="1521.0" rx="10.7" ry="7.3" fill="#C8B406" transform="rotate(8 1052.5 1521.0)"/><ellipse cx="1053.9" cy="1501.1" rx="15.6" ry="5.4" fill="#C8B406" transform="rotate(-16 1053.9 1501.1)"/><ellipse cx="1079.5" cy="1499.5" rx="15.6" ry="6.6" fill="#C8B406" transform="rotate(8 1079.5 1499.5)"/><ellipse cx="1071.7" cy="1519.4" rx="15.9" ry="6.9" fill="#C8B406" transform="rotate(14 1071.7 1519.4)"/><ellipse cx="1045.5" cy="1494.6" rx="14.7" ry="7.3" fill="#C8B406" transform="rotate(-12 1045.5 1494.6)"/><ellipse cx="1101.4" cy="1506.5" rx="11.8" ry="8.0" fill="#C8B406" transform="rotate(23 1101.4 1506.5)"/><ellipse cx="1036.8" cy="1463.1" rx="11.0" ry="8.4" fill="#C8B406" transform="rotate(-3 1036.8 1463.1)"/><ellipse cx="1099.4" cy="1486.4" rx="7.9" ry="4.7" fill="#C8B406" transform="rotate(-17 1099.4 1486.4)"/><ellipse cx="1077.3" cy="1496.1" rx="13.4" ry="5.7" fill="#C8B406" transform="rotate(0 1077.3 1496.1)"/><ellipse cx="1031.7" cy="1510.3" rx="13.0" ry="7.2" fill="#C8B406" transform="rotate(24 1031.7 1510.3)"/><ellipse cx="1025.1" cy="1464.8" rx="15.8" ry="9.5" fill="#C8B406" transform="rotate(10 1025.1 1464.8)"/><ellipse cx="1076.9" cy="1528.5" rx="16.9" ry="9.0" fill="#C8B406" transform="rotate(4 1076.9 1528.5)"/><ellipse cx="1045.9" cy="1488.7" rx="15.5" ry="7.2" fill="#C8B406" transform="rotate(-13 1045.9 1488.7)"/><ellipse cx="1097.2" cy="1512.8" rx="17.1" ry="4.5" fill="#C8B406" transform="rotate(18 1097.2 1512.8)"/><ellipse cx="1037.4" cy="1505.1" rx="9.9" ry="8.2" fill="#C8B406" transform="rotate(22 1037.4 1505.1)"/><ellipse cx="1084.7" cy="1506.4" rx="7.4" ry="8.0" fill="#C8B406" transform="rotate(-10 1084.7 1506.4)"/><ellipse cx="1103.8" cy="1467.9" rx="12.1" ry="9.5" fill="#C8B406" transform="rotate(-11 1103.8 1467.9)"/><ellipse cx="1081.3" cy="1510.6" rx="7.2" ry="5.1" fill="#C8B406" transform="rotate(-6 1081.3 1510.6)"/><ellipse cx="1038.3" cy="1493.7" rx="7.3" ry="8.8" fill="#C8B406" transform="rotate(-11 1038.3 1493.7)"/><ellipse cx="1103.8" cy="1490.8" rx="10.8" ry="6.5" fill="#C8B406" transform="rotate(1 1103.8 1490.8)"/><ellipse cx="1028.2" cy="1482.2" rx="12.7" ry="7.4" fill="#C8B406" transform="rotate(26 1028.2 1482.2)"/><ellipse cx="1022.3" cy="1499.2" rx="14.4" ry="5.3" fill="#C8B406" transform="rotate(-12 1022.3 1499.2)"/><ellipse cx="1081.4" cy="1497.2" rx="12.6" ry="4.1" fill="#C8B406" transform="rotate(-5 1081.4 1497.2)"/><ellipse cx="1045.4" cy="1498.4" rx="13.3" ry="7.5" fill="#C8B406" transform="rotate(-26 1045.4 1498.4)"/><ellipse cx="1029.6" cy="1486.5" rx="13.9" ry="5.9" fill="#C8B406" transform="rotate(12 1029.6 1486.5)"/><ellipse cx="1049.6" cy="1496.4" rx="7.5" ry="7.7" fill="#C8B406" transform="rotate(28 1049.6 1496.4)"/><ellipse cx="1049.8" cy="1518.6" rx="13.0" ry="5.8" fill="#C8B406" transform="rotate(-8 1049.8 1518.6)"/><ellipse cx="1040.4" cy="1514.9" rx="13.1" ry="5.7" fill="#C8B406" transform="rotate(-7 1040.4 1514.9)"/><ellipse cx="1050.9" cy="1496.1" rx="12.8" ry="8.0" fill="#C8B406" transform="rotate(-11 1050.9 1496.1)"/><ellipse cx="1058.1" cy="1529.9" rx="9.4" ry="5.0" fill="#C8B406" transform="rotate(-4 1058.1 1529.9)"/><ellipse cx="1046.1" cy="1492.6" rx="10.2" ry="5.8" fill="#C8B406" transform="rotate(20 1046.1 1492.6)"/><ellipse cx="1002.4" cy="1512.5" rx="8.7" ry="5.9" fill="#C8B406" transform="rotate(9 1002.4 1512.5)"/><ellipse cx="1071.5" cy="1487.8" rx="9.2" ry="4.7" fill="#C8B406" transform="rotate(2 1071.5 1487.8)"/><ellipse cx="1067.2" cy="1528.4" rx="15.6" ry="5.0" fill="#C8B406" transform="rotate(-13 1067.2 1528.4)"/><ellipse cx="1063.2" cy="1477.4" rx="15.2" ry="5.9" fill="#C8B406" transform="rotate(-22 1063.2 1477.4)"/><ellipse cx="1037.9" cy="1528.9" rx="9.7" ry="5.9" fill="#C8B406" transform="rotate(-5 1037.9 1528.9)"/><ellipse cx="1026.5" cy="1508.3" rx="16.4" ry="4.9" fill="#C8B406" transform="rotate(-30 1026.5 1508.3)"/><ellipse cx="1100.4" cy="1487.9" rx="17.1" ry="6.4" fill="#C8B406" transform="rotate(27 1100.4 1487.9)"/><ellipse cx="1066.6" cy="1494.7" rx="14.6" ry="8.6" fill="#C8B406" transform="rotate(10 1066.6 1494.7)"/><ellipse cx="1028.6" cy="1498.3" rx="10.4" ry="5.3" fill="#C8B406" transform="rotate(-26 1028.6 1498.3)"/><ellipse cx="1031.8" cy="1492.7" rx="15.3" ry="4.2" fill="#C8B406" transform="rotate(24 1031.8 1492.7)"/><ellipse cx="1029.5" cy="1464.2" rx="16.2" ry="8.9" fill="#C8B406" transform="rotate(5 1029.5 1464.2)"/><ellipse cx="1093.1" cy="1502.3" rx="8.7" ry="5.6" fill="#C8B406" transform="rotate(10 1093.1 1502.3)"/><ellipse cx="1023.3" cy="1497.3" rx="16.6" ry="7.4" fill="#C8B406" transform="rotate(-10 1023.3 1497.3)"/><ellipse cx="1049.2" cy="1533.4" rx="11.8" ry="8.3" fill="#C8B406" transform="rotate(-9 1049.2 1533.4)"/><ellipse cx="1060.5" cy="1519.7" rx="15.4" ry="4.9" fill="#C8B406" transform="rotate(18 1060.5 1519.7)"/><ellipse cx="1091.7" cy="1485.6" rx="15.4" ry="4.0" fill="#C8B406" transform="rotate(8 1091.7 1485.6)"/><ellipse cx="1055.4" cy="1495.9" rx="9.7" ry="5.5" fill="#C8B406" transform="rotate(2 1055.4 1495.9)"/><ellipse cx="1023.8" cy="1508.9" rx="14.9" ry="4.0" fill="#C8B406" transform="rotate(-27 1023.8 1508.9)"/><ellipse cx="1059.4" cy="1506.2" rx="7.6" ry="9.4" fill="#C8B406" transform="rotate(21 1059.4 1506.2)"/><ellipse cx="1076.5" cy="1510.2" rx="10.2" ry="5.7" fill="#C8B406" transform="rotate(-9 1076.5 1510.2)"/><ellipse cx="1029.0" cy="1482.2" rx="10.6" ry="5.1" fill="#C8B406" transform="rotate(-10 1029.0 1482.2)"/><ellipse cx="1073.7" cy="1515.0" rx="14.3" ry="6.1" fill="#C8B406" transform="rotate(-25 1073.7 1515.0)"/><ellipse cx="1061.0" cy="1514.6" rx="13.2" ry="8.3" fill="#C8B406" transform="rotate(-7 1061.0 1514.6)"/><ellipse cx="1061.5" cy="1477.7" rx="11.4" ry="6.0" fill="#C8B406" transform="rotate(-0 1061.5 1477.7)"/><ellipse cx="1042.0" cy="1483.2" rx="14.1" ry="6.5" fill="#C8B406" transform="rotate(-15 1042.0 1483.2)"/><ellipse cx="1010.7" cy="1494.2" rx="7.6" ry="6.3" fill="#C8B406" transform="rotate(-4 1010.7 1494.2)"/><ellipse cx="1094.6" cy="1472.9" rx="10.8" ry="8.9" fill="#C8B406" transform="rotate(17 1094.6 1472.9)"/><ellipse cx="1047.8" cy="1518.7" rx="8.2" ry="8.5" fill="#C8B406" transform="rotate(10 1047.8 1518.7)"/><ellipse cx="1085.2" cy="1480.6" rx="13.8" ry="8.0" fill="#C8B406" transform="rotate(4 1085.2 1480.6)"/><ellipse cx="1077.7" cy="1513.5" rx="7.0" ry="4.8" fill="#C8B406" transform="rotate(16 1077.7 1513.5)"/><ellipse cx="1061.0" cy="1502.0" rx="7.9" ry="8.8" fill="#C8B406" transform="rotate(-19 1061.0 1502.0)"/><ellipse cx="1054.5" cy="1523.4" rx="4.5" ry="3.1" fill="#9E8A00" transform="rotate(8 1052.5 1521.0)"/><ellipse cx="1081.5" cy="1501.9" rx="6.5" ry="2.8" fill="#9E8A00" transform="rotate(8 1079.5 1499.5)"/><ellipse cx="1047.5" cy="1497.0" rx="6.2" ry="3.0" fill="#9E8A00" transform="rotate(-12 1045.5 1494.6)"/><ellipse cx="1038.8" cy="1465.5" rx="4.6" ry="3.5" fill="#9E8A00" transform="rotate(-3 1036.8 1463.1)"/><ellipse cx="1079.3" cy="1498.5" rx="5.6" ry="2.4" fill="#9E8A00" transform="rotate(0 1077.3 1496.1)"/><ellipse cx="1027.1" cy="1467.2" rx="6.6" ry="4.0" fill="#9E8A00" transform="rotate(10 1025.1 1464.8)"/><ellipse cx="1047.9" cy="1491.1" rx="6.5" ry="3.0" fill="#9E8A00" transform="rotate(-13 1045.9 1488.7)"/><ellipse cx="1039.4" cy="1507.5" rx="4.2" ry="3.5" fill="#9E8A00" transform="rotate(22 1037.4 1505.1)"/><ellipse cx="1105.8" cy="1470.3" rx="5.1" ry="4.0" fill="#9E8A00" transform="rotate(-11 1103.8 1467.9)"/><ellipse cx="1040.3" cy="1496.1" rx="3.1" ry="3.7" fill="#9E8A00" transform="rotate(-11 1038.3 1493.7)"/><ellipse cx="1030.2" cy="1484.6" rx="5.3" ry="3.1" fill="#9E8A00" transform="rotate(26 1028.2 1482.2)"/><ellipse cx="1083.4" cy="1499.6" rx="5.3" ry="1.7" fill="#9E8A00" transform="rotate(-5 1081.4 1497.2)"/><ellipse cx="1031.6" cy="1488.9" rx="5.9" ry="2.5" fill="#9E8A00" transform="rotate(12 1029.6 1486.5)"/><ellipse cx="1051.8" cy="1521.0" rx="5.5" ry="2.4" fill="#9E8A00" transform="rotate(-8 1049.8 1518.6)"/><ellipse cx="1052.9" cy="1498.5" rx="5.4" ry="3.4" fill="#9E8A00" transform="rotate(-11 1050.9 1496.1)"/><ellipse cx="1048.1" cy="1495.0" rx="4.3" ry="2.5" fill="#9E8A00" transform="rotate(20 1046.1 1492.6)"/><ellipse cx="1073.5" cy="1490.2" rx="3.9" ry="2.0" fill="#9E8A00" transform="rotate(2 1071.5 1487.8)"/><ellipse cx="1065.2" cy="1479.8" rx="6.4" ry="2.5" fill="#9E8A00" transform="rotate(-22 1063.2 1477.4)"/><ellipse cx="1028.5" cy="1510.7" rx="6.9" ry="2.0" fill="#9E8A00" transform="rotate(-30 1026.5 1508.3)"/><ellipse cx="1068.6" cy="1497.1" rx="6.1" ry="3.6" fill="#9E8A00" transform="rotate(10 1066.6 1494.7)"/><ellipse cx="1033.8" cy="1495.1" rx="6.4" ry="1.8" fill="#9E8A00" transform="rotate(24 1031.8 1492.7)"/><ellipse cx="1095.1" cy="1504.7" rx="3.6" ry="2.4" fill="#9E8A00" transform="rotate(10 1093.1 1502.3)"/><ellipse cx="1051.2" cy="1535.8" rx="5.0" ry="3.5" fill="#9E8A00" transform="rotate(-9 1049.2 1533.4)"/><ellipse cx="1093.7" cy="1488.0" rx="6.5" ry="1.7" fill="#9E8A00" transform="rotate(8 1091.7 1485.6)"/><ellipse cx="1025.8" cy="1511.3" rx="6.3" ry="1.7" fill="#9E8A00" transform="rotate(-27 1023.8 1508.9)"/><ellipse cx="1078.5" cy="1512.6" rx="4.3" ry="2.4" fill="#9E8A00" transform="rotate(-9 1076.5 1510.2)"/><ellipse cx="1075.7" cy="1517.4" rx="6.0" ry="2.6" fill="#9E8A00" transform="rotate(-25 1073.7 1515.0)"/><ellipse cx="1063.5" cy="1480.1" rx="4.8" ry="2.5" fill="#9E8A00" transform="rotate(-0 1061.5 1477.7)"/><ellipse cx="1012.7" cy="1496.6" rx="3.2" ry="2.7" fill="#9E8A00" transform="rotate(-4 1010.7 1494.2)"/><ellipse cx="1049.8" cy="1521.1" rx="3.4" ry="3.6" fill="#9E8A00" transform="rotate(10 1047.8 1518.7)"/><ellipse cx="1079.7" cy="1515.9" rx="2.9" ry="2.0" fill="#9E8A00" transform="rotate(16 1077.7 1513.5)"/><ellipse cx="1050.9" cy="1519.0" rx="4.8" ry="3.3" fill="#EADE24" transform="rotate(8 1052.5 1521.0)"/><ellipse cx="1070.1" cy="1517.4" rx="7.1" ry="3.1" fill="#EADE24" transform="rotate(14 1071.7 1519.4)"/><ellipse cx="1035.2" cy="1461.1" rx="4.9" ry="3.8" fill="#EADE24" transform="rotate(-3 1036.8 1463.1)"/><ellipse cx="1030.1" cy="1508.3" rx="5.8" ry="3.2" fill="#EADE24" transform="rotate(24 1031.7 1510.3)"/><ellipse cx="1044.3" cy="1486.7" rx="7.0" ry="3.2" fill="#EADE24" transform="rotate(-13 1045.9 1488.7)"/><ellipse cx="1083.1" cy="1504.4" rx="3.3" ry="3.6" fill="#EADE24" transform="rotate(-10 1084.7 1506.4)"/><ellipse cx="1036.7" cy="1491.7" rx="3.3" ry="3.9" fill="#EADE24" transform="rotate(-11 1038.3 1493.7)"/><ellipse cx="1020.7" cy="1497.2" rx="6.5" ry="2.4" fill="#EADE24" transform="rotate(-12 1022.3 1499.2)"/><ellipse cx="1028.0" cy="1484.5" rx="6.3" ry="2.7" fill="#EADE24" transform="rotate(12 1029.6 1486.5)"/><ellipse cx="1038.8" cy="1512.9" rx="5.9" ry="2.5" fill="#EADE24" transform="rotate(-7 1040.4 1514.9)"/><ellipse cx="1044.5" cy="1490.6" rx="4.6" ry="2.6" fill="#EADE24" transform="rotate(20 1046.1 1492.6)"/><ellipse cx="1065.6" cy="1526.4" rx="7.0" ry="2.3" fill="#EADE24" transform="rotate(-13 1067.2 1528.4)"/><ellipse cx="1024.9" cy="1506.3" rx="7.4" ry="2.2" fill="#EADE24" transform="rotate(-30 1026.5 1508.3)"/><ellipse cx="1027.0" cy="1496.3" rx="4.7" ry="2.4" fill="#EADE24" transform="rotate(-26 1028.6 1498.3)"/><ellipse cx="1091.5" cy="1500.3" rx="3.9" ry="2.5" fill="#EADE24" transform="rotate(10 1093.1 1502.3)"/><ellipse cx="1058.9" cy="1517.7" rx="6.9" ry="2.2" fill="#EADE24" transform="rotate(18 1060.5 1519.7)"/><ellipse cx="1022.2" cy="1506.9" rx="6.7" ry="1.8" fill="#EADE24" transform="rotate(-27 1023.8 1508.9)"/><ellipse cx="1027.4" cy="1480.2" rx="4.8" ry="2.3" fill="#EADE24" transform="rotate(-10 1029.0 1482.2)"/><ellipse cx="1059.9" cy="1475.7" rx="5.1" ry="2.7" fill="#EADE24" transform="rotate(-0 1061.5 1477.7)"/><ellipse cx="1093.0" cy="1470.9" rx="4.8" ry="4.0" fill="#EADE24" transform="rotate(17 1094.6 1472.9)"/><ellipse cx="1076.1" cy="1511.5" rx="3.1" ry="2.2" fill="#EADE24" transform="rotate(16 1077.7 1513.5)"/>
<ellipse cx="1015.2" cy="1549.5" rx="14.7" ry="5.5" fill="#867400" transform="rotate(9 1013.7 1547.3)"/><ellipse cx="1053.1" cy="1543.5" rx="8.4" ry="7.6" fill="#867400" transform="rotate(7 1051.6 1541.3)"/><ellipse cx="1003.5" cy="1553.8" rx="11.8" ry="6.4" fill="#867400" transform="rotate(27 1002.0 1551.6)"/><ellipse cx="1024.4" cy="1549.3" rx="9.7" ry="6.7" fill="#867400" transform="rotate(-27 1022.9 1547.1)"/><ellipse cx="1015.3" cy="1546.3" rx="10.8" ry="8.7" fill="#867400" transform="rotate(26 1013.8 1544.1)"/><ellipse cx="1013.4" cy="1550.2" rx="7.8" ry="4.3" fill="#867400" transform="rotate(29 1011.9 1548.0)"/><ellipse cx="1029.6" cy="1559.4" rx="15.5" ry="8.1" fill="#867400" transform="rotate(-23 1028.1 1557.2)"/><ellipse cx="1027.4" cy="1559.4" rx="9.3" ry="4.0" fill="#867400" transform="rotate(1 1025.9 1557.2)"/><ellipse cx="1027.2" cy="1561.5" rx="8.4" ry="4.6" fill="#867400" transform="rotate(-28 1025.7 1559.3)"/><ellipse cx="1046.2" cy="1545.0" rx="12.1" ry="4.7" fill="#867400" transform="rotate(-21 1044.7 1542.8)"/><ellipse cx="1039.6" cy="1558.8" rx="7.2" ry="5.5" fill="#867400" transform="rotate(-18 1038.1 1556.6)"/><ellipse cx="1038.0" cy="1564.7" rx="11.1" ry="6.6" fill="#867400" transform="rotate(-9 1036.5 1562.5)"/><ellipse cx="1009.8" cy="1550.9" rx="9.6" ry="4.4" fill="#867400" transform="rotate(-1 1008.3 1548.7)"/><ellipse cx="1015.4" cy="1563.5" rx="7.7" ry="8.8" fill="#867400" transform="rotate(-29 1013.9 1561.3)"/><ellipse cx="1018.2" cy="1552.0" rx="9.7" ry="8.9" fill="#867400" transform="rotate(12 1016.7 1549.8)"/><ellipse cx="1039.2" cy="1561.9" rx="12.7" ry="4.2" fill="#867400" transform="rotate(-25 1037.7 1559.7)"/><ellipse cx="1013.7" cy="1547.3" rx="14.7" ry="5.5" fill="#C8B406" transform="rotate(9 1013.7 1547.3)"/><ellipse cx="1051.6" cy="1541.3" rx="8.4" ry="7.6" fill="#C8B406" transform="rotate(7 1051.6 1541.3)"/><ellipse cx="1002.0" cy="1551.6" rx="11.8" ry="6.4" fill="#C8B406" transform="rotate(27 1002.0 1551.6)"/><ellipse cx="1022.9" cy="1547.1" rx="9.7" ry="6.7" fill="#C8B406" transform="rotate(-27 1022.9 1547.1)"/><ellipse cx="1013.8" cy="1544.1" rx="10.8" ry="8.7" fill="#C8B406" transform="rotate(26 1013.8 1544.1)"/><ellipse cx="1011.9" cy="1548.0" rx="7.8" ry="4.3" fill="#C8B406" transform="rotate(29 1011.9 1548.0)"/><ellipse cx="1028.1" cy="1557.2" rx="15.5" ry="8.1" fill="#C8B406" transform="rotate(-23 1028.1 1557.2)"/><ellipse cx="1025.9" cy="1557.2" rx="9.3" ry="4.0" fill="#C8B406" transform="rotate(1 1025.9 1557.2)"/><ellipse cx="1025.7" cy="1559.3" rx="8.4" ry="4.6" fill="#C8B406" transform="rotate(-28 1025.7 1559.3)"/><ellipse cx="1044.7" cy="1542.8" rx="12.1" ry="4.7" fill="#C8B406" transform="rotate(-21 1044.7 1542.8)"/><ellipse cx="1038.1" cy="1556.6" rx="7.2" ry="5.5" fill="#C8B406" transform="rotate(-18 1038.1 1556.6)"/><ellipse cx="1036.5" cy="1562.5" rx="11.1" ry="6.6" fill="#C8B406" transform="rotate(-9 1036.5 1562.5)"/><ellipse cx="1008.3" cy="1548.7" rx="9.6" ry="4.4" fill="#C8B406" transform="rotate(-1 1008.3 1548.7)"/><ellipse cx="1013.9" cy="1561.3" rx="7.7" ry="8.8" fill="#C8B406" transform="rotate(-29 1013.9 1561.3)"/><ellipse cx="1016.7" cy="1549.8" rx="9.7" ry="8.9" fill="#C8B406" transform="rotate(12 1016.7 1549.8)"/><ellipse cx="1037.7" cy="1559.7" rx="12.7" ry="4.2" fill="#C8B406" transform="rotate(-25 1037.7 1559.7)"/><ellipse cx="1015.7" cy="1549.7" rx="6.2" ry="2.3" fill="#9E8A00" transform="rotate(9 1013.7 1547.3)"/><ellipse cx="1004.0" cy="1554.0" rx="5.0" ry="2.7" fill="#9E8A00" transform="rotate(27 1002.0 1551.6)"/><ellipse cx="1015.8" cy="1546.5" rx="4.5" ry="3.6" fill="#9E8A00" transform="rotate(26 1013.8 1544.1)"/><ellipse cx="1030.1" cy="1559.6" rx="6.5" ry="3.4" fill="#9E8A00" transform="rotate(-23 1028.1 1557.2)"/><ellipse cx="1027.7" cy="1561.7" rx="3.5" ry="1.9" fill="#9E8A00" transform="rotate(-28 1025.7 1559.3)"/><ellipse cx="1040.1" cy="1559.0" rx="3.0" ry="2.3" fill="#9E8A00" transform="rotate(-18 1038.1 1556.6)"/><ellipse cx="1010.3" cy="1551.1" rx="4.1" ry="1.8" fill="#9E8A00" transform="rotate(-1 1008.3 1548.7)"/><ellipse cx="1018.7" cy="1552.2" rx="4.1" ry="3.7" fill="#9E8A00" transform="rotate(12 1016.7 1549.8)"/><ellipse cx="1012.1" cy="1545.3" rx="6.6" ry="2.5" fill="#EADE24" transform="rotate(9 1013.7 1547.3)"/><ellipse cx="1021.3" cy="1545.1" rx="4.3" ry="3.0" fill="#EADE24" transform="rotate(-27 1022.9 1547.1)"/><ellipse cx="1026.5" cy="1555.2" rx="7.0" ry="3.7" fill="#EADE24" transform="rotate(-23 1028.1 1557.2)"/><ellipse cx="1043.1" cy="1540.8" rx="5.5" ry="2.1" fill="#EADE24" transform="rotate(-21 1044.7 1542.8)"/><ellipse cx="1006.7" cy="1546.7" rx="4.3" ry="2.0" fill="#EADE24" transform="rotate(-1 1008.3 1548.7)"/><ellipse cx="1036.1" cy="1557.7" rx="5.7" ry="1.9" fill="#EADE24" transform="rotate(-25 1037.7 1559.7)"/>
<ellipse cx="1152" cy="1489" rx="11" ry="5" fill="#DCC80C"/>
<ellipse cx="1120.2" cy="1537.9" rx="5.1" ry="1.7" fill="#CDB90C" transform="rotate(7 1120.2 1537.9)"/><ellipse cx="1108.2" cy="1521.2" rx="2.5" ry="2.0" fill="#CDB90C" transform="rotate(-4 1108.2 1521.2)"/><ellipse cx="1103.3" cy="1518.2" rx="2.1" ry="1.7" fill="#CDB90C" transform="rotate(17 1103.3 1518.2)"/><ellipse cx="1108.1" cy="1520.5" rx="4.6" ry="2.4" fill="#CDB90C" transform="rotate(-35 1108.1 1520.5)"/>
<ellipse cx="1199.0" cy="1480.6" rx="4.6" ry="1.9" fill="#DCC80C" transform="rotate(39 1199.0 1480.6)"/><ellipse cx="1170.5" cy="1524.0" rx="4.4" ry="3.6" fill="#DCC80C" transform="rotate(40 1170.5 1524.0)"/><ellipse cx="1177.2" cy="1496.9" rx="4.5" ry="2.2" fill="#DCC80C" transform="rotate(-19 1177.2 1496.9)"/><ellipse cx="1176.9" cy="1522.9" rx="5.1" ry="3.5" fill="#DCC80C" transform="rotate(-22 1176.9 1522.9)"/><ellipse cx="1197.7" cy="1505.6" rx="2.8" ry="2.6" fill="#DCC80C" transform="rotate(-6 1197.7 1505.6)"/><ellipse cx="1172.4" cy="1508.2" rx="3.3" ry="2.9" fill="#DCC80C" transform="rotate(34 1172.4 1508.2)"/>
<ellipse cx="1243.8" cy="1460.3" rx="6.0" ry="9.0" fill="#A08C00" transform="rotate(5 1242.3 1458.1)"/><ellipse cx="1244.7" cy="1456.5" rx="7.6" ry="8.0" fill="#A08C00" transform="rotate(5 1243.2 1454.3)"/><ellipse cx="1255.7" cy="1455.9" rx="10.8" ry="6.4" fill="#A08C00" transform="rotate(-21 1254.2 1453.7)"/><ellipse cx="1265.2" cy="1462.1" rx="6.0" ry="7.6" fill="#A08C00" transform="rotate(7 1263.7 1459.9)"/><ellipse cx="1275.2" cy="1460.7" rx="5.0" ry="8.8" fill="#A08C00" transform="rotate(20 1273.7 1458.5)"/><ellipse cx="1256.5" cy="1462.8" rx="10.1" ry="4.7" fill="#A08C00" transform="rotate(10 1255.0 1460.6)"/><ellipse cx="1274.4" cy="1462.7" rx="9.8" ry="9.4" fill="#A08C00" transform="rotate(-27 1272.9 1460.5)"/><ellipse cx="1243.1" cy="1462.1" rx="9.2" ry="5.0" fill="#A08C00" transform="rotate(23 1241.6 1459.9)"/><ellipse cx="1258.5" cy="1457.6" rx="5.9" ry="7.7" fill="#A08C00" transform="rotate(-6 1257.0 1455.4)"/><ellipse cx="1242.7" cy="1456.9" rx="7.6" ry="4.1" fill="#A08C00" transform="rotate(-22 1241.2 1454.7)"/><ellipse cx="1242.3" cy="1458.1" rx="6.0" ry="9.0" fill="#E2D010" transform="rotate(5 1242.3 1458.1)"/><ellipse cx="1243.2" cy="1454.3" rx="7.6" ry="8.0" fill="#E2D010" transform="rotate(5 1243.2 1454.3)"/><ellipse cx="1254.2" cy="1453.7" rx="10.8" ry="6.4" fill="#E2D010" transform="rotate(-21 1254.2 1453.7)"/><ellipse cx="1263.7" cy="1459.9" rx="6.0" ry="7.6" fill="#E2D010" transform="rotate(7 1263.7 1459.9)"/><ellipse cx="1273.7" cy="1458.5" rx="5.0" ry="8.8" fill="#E2D010" transform="rotate(20 1273.7 1458.5)"/><ellipse cx="1255.0" cy="1460.6" rx="10.1" ry="4.7" fill="#E2D010" transform="rotate(10 1255.0 1460.6)"/><ellipse cx="1272.9" cy="1460.5" rx="9.8" ry="9.4" fill="#E2D010" transform="rotate(-27 1272.9 1460.5)"/><ellipse cx="1241.6" cy="1459.9" rx="9.2" ry="5.0" fill="#E2D010" transform="rotate(23 1241.6 1459.9)"/><ellipse cx="1257.0" cy="1455.4" rx="5.9" ry="7.7" fill="#E2D010" transform="rotate(-6 1257.0 1455.4)"/><ellipse cx="1241.2" cy="1454.7" rx="7.6" ry="4.1" fill="#E2D010" transform="rotate(-22 1241.2 1454.7)"/><ellipse cx="1244.3" cy="1460.5" rx="2.5" ry="3.8" fill="#B8A408" transform="rotate(5 1242.3 1458.1)"/><ellipse cx="1256.2" cy="1456.1" rx="4.6" ry="2.7" fill="#B8A408" transform="rotate(-21 1254.2 1453.7)"/><ellipse cx="1275.7" cy="1460.9" rx="2.1" ry="3.7" fill="#B8A408" transform="rotate(20 1273.7 1458.5)"/><ellipse cx="1274.9" cy="1462.9" rx="4.1" ry="3.9" fill="#B8A408" transform="rotate(-27 1272.9 1460.5)"/><ellipse cx="1259.0" cy="1457.8" rx="2.5" ry="3.2" fill="#B8A408" transform="rotate(-6 1257.0 1455.4)"/><ellipse cx="1240.7" cy="1456.1" rx="2.7" ry="4.1" fill="#F6EE48" transform="rotate(5 1242.3 1458.1)"/><ellipse cx="1262.1" cy="1457.9" rx="2.7" ry="3.4" fill="#F6EE48" transform="rotate(7 1263.7 1459.9)"/><ellipse cx="1271.3" cy="1458.5" rx="4.4" ry="4.2" fill="#F6EE48" transform="rotate(-27 1272.9 1460.5)"/><ellipse cx="1239.6" cy="1452.7" rx="3.4" ry="1.9" fill="#F6EE48" transform="rotate(-22 1241.2 1454.7)"/>
<ellipse cx="1264.3" cy="1510.1" rx="9.6" ry="4.9" fill="#A08C00" transform="rotate(-26 1262.8 1507.9)"/><ellipse cx="1228.7" cy="1520.7" rx="13.2" ry="8.2" fill="#A08C00" transform="rotate(-17 1227.2 1518.5)"/><ellipse cx="1248.5" cy="1501.9" rx="7.6" ry="4.6" fill="#A08C00" transform="rotate(-17 1247.0 1499.7)"/><ellipse cx="1295.7" cy="1493.7" rx="13.3" ry="8.4" fill="#A08C00" transform="rotate(-18 1294.2 1491.5)"/><ellipse cx="1253.7" cy="1520.8" rx="12.6" ry="8.7" fill="#A08C00" transform="rotate(23 1252.2 1518.6)"/><ellipse cx="1285.8" cy="1513.2" rx="12.0" ry="6.8" fill="#A08C00" transform="rotate(-19 1284.3 1511.0)"/><ellipse cx="1255.4" cy="1505.1" rx="14.4" ry="8.8" fill="#A08C00" transform="rotate(3 1253.9 1502.9)"/><ellipse cx="1250.5" cy="1530.7" rx="11.2" ry="8.9" fill="#A08C00" transform="rotate(21 1249.0 1528.5)"/><ellipse cx="1243.8" cy="1503.5" rx="11.4" ry="6.4" fill="#A08C00" transform="rotate(-20 1242.3 1501.3)"/><ellipse cx="1251.6" cy="1526.1" rx="6.4" ry="4.3" fill="#A08C00" transform="rotate(8 1250.1 1523.9)"/><ellipse cx="1259.0" cy="1519.7" rx="10.2" ry="5.9" fill="#A08C00" transform="rotate(30 1257.5 1517.5)"/><ellipse cx="1270.1" cy="1516.6" rx="7.8" ry="7.5" fill="#A08C00" transform="rotate(-13 1268.6 1514.4)"/><ellipse cx="1244.0" cy="1520.8" rx="8.9" ry="7.1" fill="#A08C00" transform="rotate(24 1242.5 1518.6)"/><ellipse cx="1269.0" cy="1506.9" rx="8.1" ry="8.2" fill="#A08C00" transform="rotate(7 1267.5 1504.7)"/><ellipse cx="1264.9" cy="1515.6" rx="7.6" ry="6.5" fill="#A08C00" transform="rotate(-27 1263.4 1513.4)"/><ellipse cx="1250.3" cy="1478.6" rx="14.6" ry="8.0" fill="#A08C00" transform="rotate(28 1248.8 1476.4)"/><ellipse cx="1279.2" cy="1505.4" rx="14.7" ry="8.3" fill="#A08C00" transform="rotate(-5 1277.7 1503.2)"/><ellipse cx="1288.4" cy="1498.0" rx="13.4" ry="5.6" fill="#A08C00" transform="rotate(-19 1286.9 1495.8)"/><ellipse cx="1253.8" cy="1506.6" rx="9.4" ry="9.3" fill="#A08C00" transform="rotate(-10 1252.3 1504.4)"/><ellipse cx="1269.3" cy="1504.4" rx="7.5" ry="8.3" fill="#A08C00" transform="rotate(-8 1267.8 1502.2)"/><ellipse cx="1261.3" cy="1509.8" rx="14.8" ry="6.3" fill="#A08C00" transform="rotate(-18 1259.8 1507.6)"/><ellipse cx="1269.5" cy="1505.8" rx="7.5" ry="7.7" fill="#A08C00" transform="rotate(-21 1268.0 1503.6)"/><ellipse cx="1284.9" cy="1508.0" rx="8.2" ry="9.5" fill="#A08C00" transform="rotate(-23 1283.4 1505.8)"/><ellipse cx="1231.1" cy="1500.2" rx="9.7" ry="9.4" fill="#A08C00" transform="rotate(-1 1229.6 1498.0)"/><ellipse cx="1264.5" cy="1517.3" rx="6.3" ry="6.3" fill="#A08C00" transform="rotate(-15 1263.0 1515.1)"/><ellipse cx="1291.1" cy="1488.8" rx="10.5" ry="4.2" fill="#A08C00" transform="rotate(-15 1289.6 1486.6)"/><ellipse cx="1264.1" cy="1512.9" rx="8.1" ry="8.8" fill="#A08C00" transform="rotate(-21 1262.6 1510.7)"/><ellipse cx="1305.0" cy="1513.4" rx="11.1" ry="9.4" fill="#A08C00" transform="rotate(-6 1303.5 1511.2)"/><ellipse cx="1286.1" cy="1493.4" rx="13.1" ry="8.1" fill="#A08C00" transform="rotate(-0 1284.6 1491.2)"/><ellipse cx="1274.5" cy="1509.0" rx="13.9" ry="8.9" fill="#A08C00" transform="rotate(25 1273.0 1506.8)"/><ellipse cx="1249.0" cy="1520.1" rx="13.2" ry="7.5" fill="#A08C00" transform="rotate(19 1247.5 1517.9)"/><ellipse cx="1236.1" cy="1500.9" rx="12.2" ry="5.5" fill="#A08C00" transform="rotate(25 1234.6 1498.7)"/><ellipse cx="1270.7" cy="1502.8" rx="14.7" ry="9.3" fill="#A08C00" transform="rotate(10 1269.2 1500.6)"/><ellipse cx="1302.8" cy="1511.7" rx="7.1" ry="9.3" fill="#A08C00" transform="rotate(10 1301.3 1509.5)"/><ellipse cx="1274.2" cy="1507.1" rx="11.7" ry="7.1" fill="#A08C00" transform="rotate(15 1272.7 1504.9)"/><ellipse cx="1275.5" cy="1500.3" rx="6.0" ry="9.1" fill="#A08C00" transform="rotate(-29 1274.0 1498.1)"/><ellipse cx="1270.3" cy="1499.8" rx="13.3" ry="8.3" fill="#A08C00" transform="rotate(23 1268.8 1497.6)"/><ellipse cx="1226.3" cy="1496.0" rx="7.8" ry="7.7" fill="#A08C00" transform="rotate(-10 1224.8 1493.8)"/><ellipse cx="1289.1" cy="1490.4" rx="10.2" ry="6.9" fill="#A08C00" transform="rotate(-28 1287.6 1488.2)"/><ellipse cx="1288.6" cy="1507.8" rx="10.4" ry="8.8" fill="#A08C00" transform="rotate(6 1287.1 1505.6)"/><ellipse cx="1275.2" cy="1513.4" rx="12.9" ry="6.9" fill="#A08C00" transform="rotate(-29 1273.7 1511.2)"/><ellipse cx="1282.2" cy="1483.9" rx="6.8" ry="7.0" fill="#A08C00" transform="rotate(-7 1280.7 1481.7)"/><ellipse cx="1267.3" cy="1493.5" rx="8.1" ry="6.7" fill="#A08C00" transform="rotate(28 1265.8 1491.3)"/><ellipse cx="1271.3" cy="1507.7" rx="11.6" ry="8.9" fill="#A08C00" transform="rotate(1 1269.8 1505.5)"/><ellipse cx="1262.8" cy="1507.9" rx="9.6" ry="4.9" fill="#E2D010" transform="rotate(-26 1262.8 1507.9)"/><ellipse cx="1227.2" cy="1518.5" rx="13.2" ry="8.2" fill="#E2D010" transform="rotate(-17 1227.2 1518.5)"/><ellipse cx="1247.0" cy="1499.7" rx="7.6" ry="4.6" fill="#E2D010" transform="rotate(-17 1247.0 1499.7)"/><ellipse cx="1294.2" cy="1491.5" rx="13.3" ry="8.4" fill="#E2D010" transform="rotate(-18 1294.2 1491.5)"/><ellipse cx="1252.2" cy="1518.6" rx="12.6" ry="8.7" fill="#E2D010" transform="rotate(23 1252.2 1518.6)"/><ellipse cx="1284.3" cy="1511.0" rx="12.0" ry="6.8" fill="#E2D010" transform="rotate(-19 1284.3 1511.0)"/><ellipse cx="1253.9" cy="1502.9" rx="14.4" ry="8.8" fill="#E2D010" transform="rotate(3 1253.9 1502.9)"/><ellipse cx="1249.0" cy="1528.5" rx="11.2" ry="8.9" fill="#E2D010" transform="rotate(21 1249.0 1528.5)"/><ellipse cx="1242.3" cy="1501.3" rx="11.4" ry="6.4" fill="#E2D010" transform="rotate(-20 1242.3 1501.3)"/><ellipse cx="1250.1" cy="1523.9" rx="6.4" ry="4.3" fill="#E2D010" transform="rotate(8 1250.1 1523.9)"/><ellipse cx="1257.5" cy="1517.5" rx="10.2" ry="5.9" fill="#E2D010" transform="rotate(30 1257.5 1517.5)"/><ellipse cx="1268.6" cy="1514.4" rx="7.8" ry="7.5" fill="#E2D010" transform="rotate(-13 1268.6 1514.4)"/><ellipse cx="1242.5" cy="1518.6" rx="8.9" ry="7.1" fill="#E2D010" transform="rotate(24 1242.5 1518.6)"/><ellipse cx="1267.5" cy="1504.7" rx="8.1" ry="8.2" fill="#E2D010" transform="rotate(7 1267.5 1504.7)"/><ellipse cx="1263.4" cy="1513.4" rx="7.6" ry="6.5" fill="#E2D010" transform="rotate(-27 1263.4 1513.4)"/><ellipse cx="1248.8" cy="1476.4" rx="14.6" ry="8.0" fill="#E2D010" transform="rotate(28 1248.8 1476.4)"/><ellipse cx="1277.7" cy="1503.2" rx="14.7" ry="8.3" fill="#E2D010" transform="rotate(-5 1277.7 1503.2)"/><ellipse cx="1286.9" cy="1495.8" rx="13.4" ry="5.6" fill="#E2D010" transform="rotate(-19 1286.9 1495.8)"/><ellipse cx="1252.3" cy="1504.4" rx="9.4" ry="9.3" fill="#E2D010" transform="rotate(-10 1252.3 1504.4)"/><ellipse cx="1267.8" cy="1502.2" rx="7.5" ry="8.3" fill="#E2D010" transform="rotate(-8 1267.8 1502.2)"/><ellipse cx="1259.8" cy="1507.6" rx="14.8" ry="6.3" fill="#E2D010" transform="rotate(-18 1259.8 1507.6)"/><ellipse cx="1268.0" cy="1503.6" rx="7.5" ry="7.7" fill="#E2D010" transform="rotate(-21 1268.0 1503.6)"/><ellipse cx="1283.4" cy="1505.8" rx="8.2" ry="9.5" fill="#E2D010" transform="rotate(-23 1283.4 1505.8)"/><ellipse cx="1229.6" cy="1498.0" rx="9.7" ry="9.4" fill="#E2D010" transform="rotate(-1 1229.6 1498.0)"/><ellipse cx="1263.0" cy="1515.1" rx="6.3" ry="6.3" fill="#E2D010" transform="rotate(-15 1263.0 1515.1)"/><ellipse cx="1289.6" cy="1486.6" rx="10.5" ry="4.2" fill="#E2D010" transform="rotate(-15 1289.6 1486.6)"/><ellipse cx="1262.6" cy="1510.7" rx="8.1" ry="8.8" fill="#E2D010" transform="rotate(-21 1262.6 1510.7)"/><ellipse cx="1303.5" cy="1511.2" rx="11.1" ry="9.4" fill="#E2D010" transform="rotate(-6 1303.5 1511.2)"/><ellipse cx="1284.6" cy="1491.2" rx="13.1" ry="8.1" fill="#E2D010" transform="rotate(-0 1284.6 1491.2)"/><ellipse cx="1273.0" cy="1506.8" rx="13.9" ry="8.9" fill="#E2D010" transform="rotate(25 1273.0 1506.8)"/><ellipse cx="1247.5" cy="1517.9" rx="13.2" ry="7.5" fill="#E2D010" transform="rotate(19 1247.5 1517.9)"/><ellipse cx="1234.6" cy="1498.7" rx="12.2" ry="5.5" fill="#E2D010" transform="rotate(25 1234.6 1498.7)"/><ellipse cx="1269.2" cy="1500.6" rx="14.7" ry="9.3" fill="#E2D010" transform="rotate(10 1269.2 1500.6)"/><ellipse cx="1301.3" cy="1509.5" rx="7.1" ry="9.3" fill="#E2D010" transform="rotate(10 1301.3 1509.5)"/><ellipse cx="1272.7" cy="1504.9" rx="11.7" ry="7.1" fill="#E2D010" transform="rotate(15 1272.7 1504.9)"/><ellipse cx="1274.0" cy="1498.1" rx="6.0" ry="9.1" fill="#E2D010" transform="rotate(-29 1274.0 1498.1)"/><ellipse cx="1268.8" cy="1497.6" rx="13.3" ry="8.3" fill="#E2D010" transform="rotate(23 1268.8 1497.6)"/><ellipse cx="1224.8" cy="1493.8" rx="7.8" ry="7.7" fill="#E2D010" transform="rotate(-10 1224.8 1493.8)"/><ellipse cx="1287.6" cy="1488.2" rx="10.2" ry="6.9" fill="#E2D010" transform="rotate(-28 1287.6 1488.2)"/><ellipse cx="1287.1" cy="1505.6" rx="10.4" ry="8.8" fill="#E2D010" transform="rotate(6 1287.1 1505.6)"/><ellipse cx="1273.7" cy="1511.2" rx="12.9" ry="6.9" fill="#E2D010" transform="rotate(-29 1273.7 1511.2)"/><ellipse cx="1280.7" cy="1481.7" rx="6.8" ry="7.0" fill="#E2D010" transform="rotate(-7 1280.7 1481.7)"/><ellipse cx="1265.8" cy="1491.3" rx="8.1" ry="6.7" fill="#E2D010" transform="rotate(28 1265.8 1491.3)"/><ellipse cx="1269.8" cy="1505.5" rx="11.6" ry="8.9" fill="#E2D010" transform="rotate(1 1269.8 1505.5)"/><ellipse cx="1264.8" cy="1510.3" rx="4.0" ry="2.0" fill="#B8A408" transform="rotate(-26 1262.8 1507.9)"/><ellipse cx="1249.0" cy="1502.1" rx="3.2" ry="1.9" fill="#B8A408" transform="rotate(-17 1247.0 1499.7)"/><ellipse cx="1254.2" cy="1521.0" rx="5.3" ry="3.7" fill="#B8A408" transform="rotate(23 1252.2 1518.6)"/><ellipse cx="1255.9" cy="1505.3" rx="6.1" ry="3.7" fill="#B8A408" transform="rotate(3 1253.9 1502.9)"/><ellipse cx="1244.3" cy="1503.7" rx="4.8" ry="2.7" fill="#B8A408" transform="rotate(-20 1242.3 1501.3)"/><ellipse cx="1259.5" cy="1519.9" rx="4.3" ry="2.5" fill="#B8A408" transform="rotate(30 1257.5 1517.5)"/><ellipse cx="1244.5" cy="1521.0" rx="3.7" ry="3.0" fill="#B8A408" transform="rotate(24 1242.5 1518.6)"/><ellipse cx="1265.4" cy="1515.8" rx="3.2" ry="2.7" fill="#B8A408" transform="rotate(-27 1263.4 1513.4)"/><ellipse cx="1279.7" cy="1505.6" rx="6.2" ry="3.5" fill="#B8A408" transform="rotate(-5 1277.7 1503.2)"/><ellipse cx="1254.3" cy="1506.8" rx="4.0" ry="3.9" fill="#B8A408" transform="rotate(-10 1252.3 1504.4)"/><ellipse cx="1261.8" cy="1510.0" rx="6.2" ry="2.7" fill="#B8A408" transform="rotate(-18 1259.8 1507.6)"/><ellipse cx="1285.4" cy="1508.2" rx="3.5" ry="4.0" fill="#B8A408" transform="rotate(-23 1283.4 1505.8)"/><ellipse cx="1265.0" cy="1517.5" rx="2.7" ry="2.7" fill="#B8A408" transform="rotate(-15 1263.0 1515.1)"/><ellipse cx="1264.6" cy="1513.1" rx="3.4" ry="3.7" fill="#B8A408" transform="rotate(-21 1262.6 1510.7)"/><ellipse cx="1286.6" cy="1493.6" rx="5.5" ry="3.4" fill="#B8A408" transform="rotate(-0 1284.6 1491.2)"/><ellipse cx="1249.5" cy="1520.3" rx="5.5" ry="3.2" fill="#B8A408" transform="rotate(19 1247.5 1517.9)"/><ellipse cx="1271.2" cy="1503.0" rx="6.2" ry="3.9" fill="#B8A408" transform="rotate(10 1269.2 1500.6)"/><ellipse cx="1274.7" cy="1507.3" rx="4.9" ry="3.0" fill="#B8A408" transform="rotate(15 1272.7 1504.9)"/><ellipse cx="1270.8" cy="1500.0" rx="5.6" ry="3.5" fill="#B8A408" transform="rotate(23 1268.8 1497.6)"/><ellipse cx="1289.6" cy="1490.6" rx="4.3" ry="2.9" fill="#B8A408" transform="rotate(-28 1287.6 1488.2)"/><ellipse cx="1275.7" cy="1513.6" rx="5.4" ry="2.9" fill="#B8A408" transform="rotate(-29 1273.7 1511.2)"/><ellipse cx="1267.8" cy="1493.7" rx="3.4" ry="2.8" fill="#B8A408" transform="rotate(28 1265.8 1491.3)"/><ellipse cx="1261.2" cy="1505.9" rx="4.3" ry="2.2" fill="#F6EE48" transform="rotate(-26 1262.8 1507.9)"/><ellipse cx="1292.6" cy="1489.5" rx="6.0" ry="3.8" fill="#F6EE48" transform="rotate(-18 1294.2 1491.5)"/><ellipse cx="1252.3" cy="1500.9" rx="6.5" ry="3.9" fill="#F6EE48" transform="rotate(3 1253.9 1502.9)"/><ellipse cx="1248.5" cy="1521.9" rx="2.9" ry="1.9" fill="#F6EE48" transform="rotate(8 1250.1 1523.9)"/><ellipse cx="1240.9" cy="1516.6" rx="4.0" ry="3.2" fill="#F6EE48" transform="rotate(24 1242.5 1518.6)"/><ellipse cx="1247.2" cy="1474.4" rx="6.6" ry="3.6" fill="#F6EE48" transform="rotate(28 1248.8 1476.4)"/><ellipse cx="1250.7" cy="1502.4" rx="4.2" ry="4.2" fill="#F6EE48" transform="rotate(-10 1252.3 1504.4)"/><ellipse cx="1266.4" cy="1501.6" rx="3.4" ry="3.5" fill="#F6EE48" transform="rotate(-21 1268.0 1503.6)"/><ellipse cx="1261.4" cy="1513.1" rx="2.8" ry="2.8" fill="#F6EE48" transform="rotate(-15 1263.0 1515.1)"/><ellipse cx="1301.9" cy="1509.2" rx="5.0" ry="4.3" fill="#F6EE48" transform="rotate(-6 1303.5 1511.2)"/><ellipse cx="1245.9" cy="1515.9" rx="5.9" ry="3.4" fill="#F6EE48" transform="rotate(19 1247.5 1517.9)"/><ellipse cx="1299.7" cy="1507.5" rx="3.2" ry="4.2" fill="#F6EE48" transform="rotate(10 1301.3 1509.5)"/><ellipse cx="1267.2" cy="1495.6" rx="6.0" ry="3.7" fill="#F6EE48" transform="rotate(23 1268.8 1497.6)"/><ellipse cx="1285.5" cy="1503.6" rx="4.7" ry="3.9" fill="#F6EE48" transform="rotate(6 1287.1 1505.6)"/><ellipse cx="1264.2" cy="1489.3" rx="3.6" ry="3.0" fill="#F6EE48" transform="rotate(28 1265.8 1491.3)"/>
<ellipse cx="1263.1" cy="1552.4" rx="10.2" ry="5.2" fill="#A08C00" transform="rotate(14 1261.6 1550.2)"/><ellipse cx="1250.2" cy="1544.6" rx="8.1" ry="6.3" fill="#A08C00" transform="rotate(-28 1248.7 1542.4)"/><ellipse cx="1269.3" cy="1558.5" rx="7.5" ry="5.1" fill="#A08C00" transform="rotate(9 1267.8 1556.3)"/><ellipse cx="1254.4" cy="1552.3" rx="13.6" ry="8.5" fill="#A08C00" transform="rotate(-30 1252.9 1550.1)"/><ellipse cx="1274.2" cy="1546.6" rx="10.9" ry="4.9" fill="#A08C00" transform="rotate(27 1272.7 1544.4)"/><ellipse cx="1261.8" cy="1554.9" rx="8.2" ry="8.7" fill="#A08C00" transform="rotate(6 1260.3 1552.7)"/><ellipse cx="1274.8" cy="1546.3" rx="13.0" ry="9.4" fill="#A08C00" transform="rotate(-7 1273.3 1544.1)"/><ellipse cx="1236.4" cy="1550.5" rx="13.9" ry="8.7" fill="#A08C00" transform="rotate(5 1234.9 1548.3)"/><ellipse cx="1264.1" cy="1551.9" rx="9.7" ry="5.6" fill="#A08C00" transform="rotate(-25 1262.6 1549.7)"/><ellipse cx="1266.3" cy="1555.3" rx="10.2" ry="7.5" fill="#A08C00" transform="rotate(-8 1264.8 1553.1)"/><ellipse cx="1257.8" cy="1555.5" rx="10.1" ry="9.2" fill="#A08C00" transform="rotate(9 1256.3 1553.3)"/><ellipse cx="1257.7" cy="1551.4" rx="15.1" ry="4.9" fill="#A08C00" transform="rotate(-7 1256.2 1549.2)"/><ellipse cx="1288.8" cy="1552.8" rx="13.2" ry="7.8" fill="#A08C00" transform="rotate(21 1287.3 1550.6)"/><ellipse cx="1267.4" cy="1550.0" rx="7.5" ry="5.7" fill="#A08C00" transform="rotate(-14 1265.9 1547.8)"/><ellipse cx="1275.0" cy="1563.2" rx="16.7" ry="5.7" fill="#A08C00" transform="rotate(9 1273.5 1561.0)"/><ellipse cx="1236.7" cy="1559.3" rx="12.2" ry="5.5" fill="#A08C00" transform="rotate(-15 1235.2 1557.1)"/><ellipse cx="1253.7" cy="1551.9" rx="13.5" ry="8.9" fill="#A08C00" transform="rotate(-6 1252.2 1549.7)"/><ellipse cx="1276.4" cy="1563.2" rx="12.7" ry="4.5" fill="#A08C00" transform="rotate(-27 1274.9 1561.0)"/><ellipse cx="1283.3" cy="1557.3" rx="15.8" ry="6.3" fill="#A08C00" transform="rotate(-26 1281.8 1555.1)"/><ellipse cx="1229.5" cy="1563.2" rx="12.9" ry="9.3" fill="#A08C00" transform="rotate(22 1228.0 1561.0)"/><ellipse cx="1261.6" cy="1550.2" rx="10.2" ry="5.2" fill="#E2D010" transform="rotate(14 1261.6 1550.2)"/><ellipse cx="1248.7" cy="1542.4" rx="8.1" ry="6.3" fill="#E2D010" transform="rotate(-28 1248.7 1542.4)"/><ellipse cx="1267.8" cy="1556.3" rx="7.5" ry="5.1" fill="#E2D010" transform="rotate(9 1267.8 1556.3)"/><ellipse cx="1252.9" cy="1550.1" rx="13.6" ry="8.5" fill="#E2D010" transform="rotate(-30 1252.9 1550.1)"/><ellipse cx="1272.7" cy="1544.4" rx="10.9" ry="4.9" fill="#E2D010" transform="rotate(27 1272.7 1544.4)"/><ellipse cx="1260.3" cy="1552.7" rx="8.2" ry="8.7" fill="#E2D010" transform="rotate(6 1260.3 1552.7)"/><ellipse cx="1273.3" cy="1544.1" rx="13.0" ry="9.4" fill="#E2D010" transform="rotate(-7 1273.3 1544.1)"/><ellipse cx="1234.9" cy="1548.3" rx="13.9" ry="8.7" fill="#E2D010" transform="rotate(5 1234.9 1548.3)"/><ellipse cx="1262.6" cy="1549.7" rx="9.7" ry="5.6" fill="#E2D010" transform="rotate(-25 1262.6 1549.7)"/><ellipse cx="1264.8" cy="1553.1" rx="10.2" ry="7.5" fill="#E2D010" transform="rotate(-8 1264.8 1553.1)"/><ellipse cx="1256.3" cy="1553.3" rx="10.1" ry="9.2" fill="#E2D010" transform="rotate(9 1256.3 1553.3)"/><ellipse cx="1256.2" cy="1549.2" rx="15.1" ry="4.9" fill="#E2D010" transform="rotate(-7 1256.2 1549.2)"/><ellipse cx="1287.3" cy="1550.6" rx="13.2" ry="7.8" fill="#E2D010" transform="rotate(21 1287.3 1550.6)"/><ellipse cx="1265.9" cy="1547.8" rx="7.5" ry="5.7" fill="#E2D010" transform="rotate(-14 1265.9 1547.8)"/><ellipse cx="1273.5" cy="1561.0" rx="16.7" ry="5.7" fill="#E2D010" transform="rotate(9 1273.5 1561.0)"/><ellipse cx="1235.2" cy="1557.1" rx="12.2" ry="5.5" fill="#E2D010" transform="rotate(-15 1235.2 1557.1)"/><ellipse cx="1252.2" cy="1549.7" rx="13.5" ry="8.9" fill="#E2D010" transform="rotate(-6 1252.2 1549.7)"/><ellipse cx="1274.9" cy="1561.0" rx="12.7" ry="4.5" fill="#E2D010" transform="rotate(-27 1274.9 1561.0)"/><ellipse cx="1281.8" cy="1555.1" rx="15.8" ry="6.3" fill="#E2D010" transform="rotate(-26 1281.8 1555.1)"/><ellipse cx="1228.0" cy="1561.0" rx="12.9" ry="9.3" fill="#E2D010" transform="rotate(22 1228.0 1561.0)"/><ellipse cx="1263.6" cy="1552.6" rx="4.3" ry="2.2" fill="#B8A408" transform="rotate(14 1261.6 1550.2)"/><ellipse cx="1269.8" cy="1558.7" rx="3.1" ry="2.1" fill="#B8A408" transform="rotate(9 1267.8 1556.3)"/><ellipse cx="1274.7" cy="1546.8" rx="4.6" ry="2.0" fill="#B8A408" transform="rotate(27 1272.7 1544.4)"/><ellipse cx="1275.3" cy="1546.5" rx="5.5" ry="3.9" fill="#B8A408" transform="rotate(-7 1273.3 1544.1)"/><ellipse cx="1264.6" cy="1552.1" rx="4.1" ry="2.3" fill="#B8A408" transform="rotate(-25 1262.6 1549.7)"/><ellipse cx="1258.3" cy="1555.7" rx="4.2" ry="3.8" fill="#B8A408" transform="rotate(9 1256.3 1553.3)"/><ellipse cx="1289.3" cy="1553.0" rx="5.6" ry="3.3" fill="#B8A408" transform="rotate(21 1287.3 1550.6)"/><ellipse cx="1275.5" cy="1563.4" rx="7.0" ry="2.4" fill="#B8A408" transform="rotate(9 1273.5 1561.0)"/><ellipse cx="1254.2" cy="1552.1" rx="5.7" ry="3.8" fill="#B8A408" transform="rotate(-6 1252.2 1549.7)"/><ellipse cx="1283.8" cy="1557.5" rx="6.6" ry="2.7" fill="#B8A408" transform="rotate(-26 1281.8 1555.1)"/><ellipse cx="1260.0" cy="1548.2" rx="4.6" ry="2.4" fill="#F6EE48" transform="rotate(14 1261.6 1550.2)"/><ellipse cx="1251.3" cy="1548.1" rx="6.1" ry="3.8" fill="#F6EE48" transform="rotate(-30 1252.9 1550.1)"/><ellipse cx="1271.7" cy="1542.1" rx="5.8" ry="4.2" fill="#F6EE48" transform="rotate(-7 1273.3 1544.1)"/><ellipse cx="1263.2" cy="1551.1" rx="4.6" ry="3.4" fill="#F6EE48" transform="rotate(-8 1264.8 1553.1)"/><ellipse cx="1285.7" cy="1548.6" rx="5.9" ry="3.5" fill="#F6EE48" transform="rotate(21 1287.3 1550.6)"/><ellipse cx="1233.6" cy="1555.1" rx="5.5" ry="2.5" fill="#F6EE48" transform="rotate(-15 1235.2 1557.1)"/><ellipse cx="1280.2" cy="1553.1" rx="7.1" ry="2.8" fill="#F6EE48" transform="rotate(-26 1281.8 1555.1)"/>
<ellipse cx="1320.8" cy="1498.8" rx="3.5" ry="2.6" fill="#DCC80C" transform="rotate(-7 1320.8 1498.8)"/><ellipse cx="1329.7" cy="1485.5" rx="4.2" ry="1.5" fill="#DCC80C" transform="rotate(-16 1329.7 1485.5)"/><ellipse cx="1320.1" cy="1478.5" rx="4.6" ry="2.3" fill="#DCC80C" transform="rotate(23 1320.1 1478.5)"/><ellipse cx="1338.7" cy="1485.2" rx="5.1" ry="3.5" fill="#DCC80C" transform="rotate(13 1338.7 1485.2)"/><ellipse cx="1310.8" cy="1497.4" rx="4.2" ry="2.2" fill="#DCC80C" transform="rotate(-22 1310.8 1497.4)"/><ellipse cx="1319.3" cy="1485.5" rx="4.8" ry="2.4" fill="#DCC80C" transform="rotate(-6 1319.3 1485.5)"/><ellipse cx="1329.3" cy="1526.9" rx="3.0" ry="1.6" fill="#DCC80C" transform="rotate(38 1329.3 1526.9)"/>
</g>
<g filter="url(#blob)">
<g fill="#A89400" transform="translate(1.5,2)"><ellipse cx="1441" cy="1452.4" rx="7" ry="8"/><ellipse cx="1502" cy="1452.4" rx="7" ry="8"/><rect x="1468" y="1458" width="10" height="30"/><ellipse cx="1462" cy="1512" rx="13" ry="22"/><ellipse cx="1488" cy="1502" rx="13" ry="28"/><rect x="1448" y="1528" width="54" height="38" rx="6"/><ellipse cx="1445" cy="1565" rx="10" ry="5"/><ellipse cx="1509" cy="1565" rx="12" ry="5"/></g>
<g fill="#E4D210"><ellipse cx="1441" cy="1452.4" rx="7" ry="8"/><ellipse cx="1502" cy="1452.4" rx="7" ry="8"/><rect x="1440" y="1453.5" width="62" height="5" rx="2.5"/><ellipse cx="1471.5" cy="1450" rx="10" ry="4"/><rect x="1468" y="1458" width="10" height="30"/><ellipse cx="1462" cy="1512" rx="13" ry="22"/><ellipse cx="1488" cy="1502" rx="13" ry="28"/><ellipse cx="1475" cy="1522" rx="22" ry="16"/><rect x="1448" y="1528" width="54" height="38" rx="6"/><ellipse cx="1445" cy="1565" rx="10" ry="5"/><ellipse cx="1509" cy="1565" rx="12" ry="5"/><ellipse cx="1477" cy="1563" rx="14" ry="8"/></g>
<g fill="#A89400"><ellipse cx="1476" cy="1515" rx="3" ry="14"/><ellipse cx="1466" cy="1548" rx="4" ry="9"/><ellipse cx="1490" cy="1548" rx="3" ry="8"/><ellipse cx="1452" cy="1500" rx="3" ry="6"/></g>
<g fill="#F6EE48"><ellipse cx="1486" cy="1496" rx="4" ry="14"/><ellipse cx="1459" cy="1512" rx="4" ry="10"/><ellipse cx="1478" cy="1555" rx="6" ry="4"/></g>
<ellipse cx="1440.4" cy="1499.2" rx="5.4" ry="2.2" fill="#DCC80C" transform="rotate(21 1440.4 1499.2)"/><ellipse cx="1443.7" cy="1494.8" rx="2.4" ry="1.6" fill="#DCC80C" transform="rotate(-9 1443.7 1494.8)"/><ellipse cx="1444.4" cy="1482.6" rx="3.8" ry="2.3" fill="#DCC80C" transform="rotate(28 1444.4 1482.6)"/>
</g>
<g filter="url(#blob)">
<g fill="#A89400" transform="translate(1.5,2)"><ellipse cx="1688.5" cy="1444" rx="6.5" ry="9"/><rect x="1685.5" y="1450" width="13" height="72" rx="4"/><rect x="1672" y="1517" width="50" height="36" rx="7"/><rect x="1665" y="1548" width="67.5" height="22" rx="6"/></g>
<g fill="#E4D210"><ellipse cx="1688.5" cy="1444" rx="6.5" ry="9"/><ellipse cx="1672" cy="1457" rx="13" ry="4" transform="rotate(14 1672 1457)"/><ellipse cx="1707" cy="1458" rx="13" ry="4" transform="rotate(-10 1707 1458)"/><rect x="1685.5" y="1450" width="13" height="72" rx="4"/><ellipse cx="1657.5" cy="1486.5" rx="5" ry="4.5"/><ellipse cx="1666.5" cy="1487" rx="3.5" ry="2.5"/><ellipse cx="1709" cy="1489" rx="4" ry="6"/><ellipse cx="1728" cy="1488" rx="3" ry="3.5"/><ellipse cx="1716.5" cy="1503" rx="5" ry="6"/><rect x="1672" y="1517" width="50" height="36" rx="7"/><ellipse cx="1712" cy="1530" rx="11" ry="10"/><rect x="1665" y="1548" width="67.5" height="22" rx="6"/></g>
<g fill="#A89400"><ellipse cx="1690" cy="1535" rx="2.5" ry="12"/><ellipse cx="1703" cy="1545" rx="3" ry="8"/><ellipse cx="1680" cy="1562" rx="9" ry="2.5"/></g>
<g fill="#F6EE48"><ellipse cx="1683" cy="1535" rx="4" ry="12"/><ellipse cx="1712" cy="1528" rx="5" ry="6"/><ellipse cx="1700" cy="1562" rx="12" ry="3"/></g>
</g>
<ellipse cx="1618" cy="1562" rx="4" ry="1.2" fill="#DCC80C"/><ellipse cx="1635" cy="1562" rx="4" ry="1.2" fill="#DCC80C"/><ellipse cx="1753" cy="1562" rx="5" ry="1.5" fill="#DCC80C"/>
<g transform="translate(1880.6,1436) scale(0.9833,1.0037)" filter="url(#blob)"><use href="#sguitar" fill="url(#sg)" stroke="#B09A00" stroke-width="1.6"/><path d="M28,24 L29.5,86" stroke="#F8EE50" stroke-width="2.2" fill="none"/></g>
<g transform="translate(2097.5,1436) scale(1.0083,1.0037)"><use href="#sguitar" fill="url(#sg)" stroke="#B09A00" stroke-width="1.6"/><path d="M28,24 L29.5,86" stroke="#F8EE50" stroke-width="2.2" fill="none"/></g>
<g transform="translate(2314,1436) scale(1.0117,1.0037)"><use href="#sguitar" fill="url(#sg)" stroke="#B09A00" stroke-width="1.6"/><path d="M28,24 L29.5,86" stroke="#F8EE50" stroke-width="2.2" fill="none"/></g>
<g transform="translate(2531,1436) scale(1.0333,1.0037)"><use href="#sguitar" fill="url(#sg)" stroke="#B09A00" stroke-width="1.6"/><path d="M28,24 L29.5,86" stroke="#F8EE50" stroke-width="2.2" fill="none"/></g>
<rect x="2791.5" y="1288" width="202.5" height="298" fill="#fff" stroke="#2F5597" stroke-width="4"/>
<rect x="2802.5" y="1300.5" width="174.9" height="45.5" rx="22.8" ry="22.8" fill="url(#bGreen)" />
<rect x="2802.5" y="1361.0" width="174.9" height="46.0" rx="23.0" ry="23.0" fill="url(#bPurpleBlue)" />
<rect x="2802.5" y="1418.6" width="174.9" height="45.9" rx="23.0" ry="23.0" fill="url(#bPinkGreen)" />
<rect x="2802.5" y="1476.0" width="174.9" height="46.0" rx="23.0" ry="23.0" fill="url(#bLavGreen)" />
<rect x="2802.5" y="1531.0" width="174.9" height="45.0" rx="22.5" ry="22.5" fill="url(#bPinkPale)" />
<text x="2870" y="1453.5" font-size="50" font-style="italic">E<tspan font-size="37" dy="11" dx="0">s</tspan><tspan font-size="39" dy="-39" dx="-9" font-style="normal">(0)</tspan></text>
<text x="1577.0" y="1678.7" font-size="66.7" text-anchor="middle" fill="#000" >b): Aligned Shape Latent Diffusion Model (ASLDM)</text>
</svg>
</body></html>
